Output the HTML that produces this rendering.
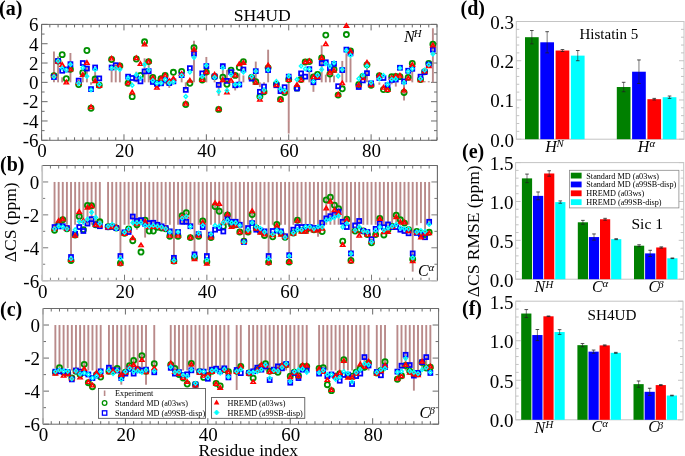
<!DOCTYPE html><html><head><meta charset="utf-8"><style>html,body{margin:0;padding:0;background:#fff;width:685px;height:456px;overflow:hidden}svg{display:block;font-family:"Liberation Serif",serif;will-change:transform}</style></head><body><svg width="685" height="456" viewBox="0 0 685 456">
<rect width="685" height="456" fill="#fff"/>
<line x1="41.60" y1="140.30" x2="41.60" y2="134.30" stroke="#6a6a6a" stroke-width="1"/>
<line x1="41.60" y1="24.40" x2="41.60" y2="30.40" stroke="#6a6a6a" stroke-width="1"/>
<line x1="49.84" y1="140.30" x2="49.84" y2="137.30" stroke="#6a6a6a" stroke-width="1"/>
<line x1="49.84" y1="24.40" x2="49.84" y2="27.40" stroke="#6a6a6a" stroke-width="1"/>
<line x1="58.08" y1="140.30" x2="58.08" y2="137.30" stroke="#6a6a6a" stroke-width="1"/>
<line x1="58.08" y1="24.40" x2="58.08" y2="27.40" stroke="#6a6a6a" stroke-width="1"/>
<line x1="66.31" y1="140.30" x2="66.31" y2="137.30" stroke="#6a6a6a" stroke-width="1"/>
<line x1="66.31" y1="24.40" x2="66.31" y2="27.40" stroke="#6a6a6a" stroke-width="1"/>
<line x1="74.55" y1="140.30" x2="74.55" y2="137.30" stroke="#6a6a6a" stroke-width="1"/>
<line x1="74.55" y1="24.40" x2="74.55" y2="27.40" stroke="#6a6a6a" stroke-width="1"/>
<line x1="82.79" y1="140.30" x2="82.79" y2="137.30" stroke="#6a6a6a" stroke-width="1"/>
<line x1="82.79" y1="24.40" x2="82.79" y2="27.40" stroke="#6a6a6a" stroke-width="1"/>
<line x1="91.02" y1="140.30" x2="91.02" y2="137.30" stroke="#6a6a6a" stroke-width="1"/>
<line x1="91.02" y1="24.40" x2="91.02" y2="27.40" stroke="#6a6a6a" stroke-width="1"/>
<line x1="99.26" y1="140.30" x2="99.26" y2="137.30" stroke="#6a6a6a" stroke-width="1"/>
<line x1="99.26" y1="24.40" x2="99.26" y2="27.40" stroke="#6a6a6a" stroke-width="1"/>
<line x1="107.50" y1="140.30" x2="107.50" y2="137.30" stroke="#6a6a6a" stroke-width="1"/>
<line x1="107.50" y1="24.40" x2="107.50" y2="27.40" stroke="#6a6a6a" stroke-width="1"/>
<line x1="115.74" y1="140.30" x2="115.74" y2="137.30" stroke="#6a6a6a" stroke-width="1"/>
<line x1="115.74" y1="24.40" x2="115.74" y2="27.40" stroke="#6a6a6a" stroke-width="1"/>
<line x1="123.97" y1="140.30" x2="123.97" y2="134.30" stroke="#6a6a6a" stroke-width="1"/>
<line x1="123.97" y1="24.40" x2="123.97" y2="30.40" stroke="#6a6a6a" stroke-width="1"/>
<line x1="132.21" y1="140.30" x2="132.21" y2="137.30" stroke="#6a6a6a" stroke-width="1"/>
<line x1="132.21" y1="24.40" x2="132.21" y2="27.40" stroke="#6a6a6a" stroke-width="1"/>
<line x1="140.45" y1="140.30" x2="140.45" y2="137.30" stroke="#6a6a6a" stroke-width="1"/>
<line x1="140.45" y1="24.40" x2="140.45" y2="27.40" stroke="#6a6a6a" stroke-width="1"/>
<line x1="148.69" y1="140.30" x2="148.69" y2="137.30" stroke="#6a6a6a" stroke-width="1"/>
<line x1="148.69" y1="24.40" x2="148.69" y2="27.40" stroke="#6a6a6a" stroke-width="1"/>
<line x1="156.92" y1="140.30" x2="156.92" y2="137.30" stroke="#6a6a6a" stroke-width="1"/>
<line x1="156.92" y1="24.40" x2="156.92" y2="27.40" stroke="#6a6a6a" stroke-width="1"/>
<line x1="165.16" y1="140.30" x2="165.16" y2="137.30" stroke="#6a6a6a" stroke-width="1"/>
<line x1="165.16" y1="24.40" x2="165.16" y2="27.40" stroke="#6a6a6a" stroke-width="1"/>
<line x1="173.40" y1="140.30" x2="173.40" y2="137.30" stroke="#6a6a6a" stroke-width="1"/>
<line x1="173.40" y1="24.40" x2="173.40" y2="27.40" stroke="#6a6a6a" stroke-width="1"/>
<line x1="181.64" y1="140.30" x2="181.64" y2="137.30" stroke="#6a6a6a" stroke-width="1"/>
<line x1="181.64" y1="24.40" x2="181.64" y2="27.40" stroke="#6a6a6a" stroke-width="1"/>
<line x1="189.88" y1="140.30" x2="189.88" y2="137.30" stroke="#6a6a6a" stroke-width="1"/>
<line x1="189.88" y1="24.40" x2="189.88" y2="27.40" stroke="#6a6a6a" stroke-width="1"/>
<line x1="198.11" y1="140.30" x2="198.11" y2="137.30" stroke="#6a6a6a" stroke-width="1"/>
<line x1="198.11" y1="24.40" x2="198.11" y2="27.40" stroke="#6a6a6a" stroke-width="1"/>
<line x1="206.35" y1="140.30" x2="206.35" y2="134.30" stroke="#6a6a6a" stroke-width="1"/>
<line x1="206.35" y1="24.40" x2="206.35" y2="30.40" stroke="#6a6a6a" stroke-width="1"/>
<line x1="214.59" y1="140.30" x2="214.59" y2="137.30" stroke="#6a6a6a" stroke-width="1"/>
<line x1="214.59" y1="24.40" x2="214.59" y2="27.40" stroke="#6a6a6a" stroke-width="1"/>
<line x1="222.82" y1="140.30" x2="222.82" y2="137.30" stroke="#6a6a6a" stroke-width="1"/>
<line x1="222.82" y1="24.40" x2="222.82" y2="27.40" stroke="#6a6a6a" stroke-width="1"/>
<line x1="231.06" y1="140.30" x2="231.06" y2="137.30" stroke="#6a6a6a" stroke-width="1"/>
<line x1="231.06" y1="24.40" x2="231.06" y2="27.40" stroke="#6a6a6a" stroke-width="1"/>
<line x1="239.30" y1="140.30" x2="239.30" y2="137.30" stroke="#6a6a6a" stroke-width="1"/>
<line x1="239.30" y1="24.40" x2="239.30" y2="27.40" stroke="#6a6a6a" stroke-width="1"/>
<line x1="247.54" y1="140.30" x2="247.54" y2="137.30" stroke="#6a6a6a" stroke-width="1"/>
<line x1="247.54" y1="24.40" x2="247.54" y2="27.40" stroke="#6a6a6a" stroke-width="1"/>
<line x1="255.77" y1="140.30" x2="255.77" y2="137.30" stroke="#6a6a6a" stroke-width="1"/>
<line x1="255.77" y1="24.40" x2="255.77" y2="27.40" stroke="#6a6a6a" stroke-width="1"/>
<line x1="264.01" y1="140.30" x2="264.01" y2="137.30" stroke="#6a6a6a" stroke-width="1"/>
<line x1="264.01" y1="24.40" x2="264.01" y2="27.40" stroke="#6a6a6a" stroke-width="1"/>
<line x1="272.25" y1="140.30" x2="272.25" y2="137.30" stroke="#6a6a6a" stroke-width="1"/>
<line x1="272.25" y1="24.40" x2="272.25" y2="27.40" stroke="#6a6a6a" stroke-width="1"/>
<line x1="280.49" y1="140.30" x2="280.49" y2="137.30" stroke="#6a6a6a" stroke-width="1"/>
<line x1="280.49" y1="24.40" x2="280.49" y2="27.40" stroke="#6a6a6a" stroke-width="1"/>
<line x1="288.73" y1="140.30" x2="288.73" y2="134.30" stroke="#6a6a6a" stroke-width="1"/>
<line x1="288.73" y1="24.40" x2="288.73" y2="30.40" stroke="#6a6a6a" stroke-width="1"/>
<line x1="296.96" y1="140.30" x2="296.96" y2="137.30" stroke="#6a6a6a" stroke-width="1"/>
<line x1="296.96" y1="24.40" x2="296.96" y2="27.40" stroke="#6a6a6a" stroke-width="1"/>
<line x1="305.20" y1="140.30" x2="305.20" y2="137.30" stroke="#6a6a6a" stroke-width="1"/>
<line x1="305.20" y1="24.40" x2="305.20" y2="27.40" stroke="#6a6a6a" stroke-width="1"/>
<line x1="313.44" y1="140.30" x2="313.44" y2="137.30" stroke="#6a6a6a" stroke-width="1"/>
<line x1="313.44" y1="24.40" x2="313.44" y2="27.40" stroke="#6a6a6a" stroke-width="1"/>
<line x1="321.68" y1="140.30" x2="321.68" y2="137.30" stroke="#6a6a6a" stroke-width="1"/>
<line x1="321.68" y1="24.40" x2="321.68" y2="27.40" stroke="#6a6a6a" stroke-width="1"/>
<line x1="329.91" y1="140.30" x2="329.91" y2="137.30" stroke="#6a6a6a" stroke-width="1"/>
<line x1="329.91" y1="24.40" x2="329.91" y2="27.40" stroke="#6a6a6a" stroke-width="1"/>
<line x1="338.15" y1="140.30" x2="338.15" y2="137.30" stroke="#6a6a6a" stroke-width="1"/>
<line x1="338.15" y1="24.40" x2="338.15" y2="27.40" stroke="#6a6a6a" stroke-width="1"/>
<line x1="346.39" y1="140.30" x2="346.39" y2="137.30" stroke="#6a6a6a" stroke-width="1"/>
<line x1="346.39" y1="24.40" x2="346.39" y2="27.40" stroke="#6a6a6a" stroke-width="1"/>
<line x1="354.62" y1="140.30" x2="354.62" y2="137.30" stroke="#6a6a6a" stroke-width="1"/>
<line x1="354.62" y1="24.40" x2="354.62" y2="27.40" stroke="#6a6a6a" stroke-width="1"/>
<line x1="362.86" y1="140.30" x2="362.86" y2="137.30" stroke="#6a6a6a" stroke-width="1"/>
<line x1="362.86" y1="24.40" x2="362.86" y2="27.40" stroke="#6a6a6a" stroke-width="1"/>
<line x1="371.10" y1="140.30" x2="371.10" y2="134.30" stroke="#6a6a6a" stroke-width="1"/>
<line x1="371.10" y1="24.40" x2="371.10" y2="30.40" stroke="#6a6a6a" stroke-width="1"/>
<line x1="379.34" y1="140.30" x2="379.34" y2="137.30" stroke="#6a6a6a" stroke-width="1"/>
<line x1="379.34" y1="24.40" x2="379.34" y2="27.40" stroke="#6a6a6a" stroke-width="1"/>
<line x1="387.57" y1="140.30" x2="387.57" y2="137.30" stroke="#6a6a6a" stroke-width="1"/>
<line x1="387.57" y1="24.40" x2="387.57" y2="27.40" stroke="#6a6a6a" stroke-width="1"/>
<line x1="395.81" y1="140.30" x2="395.81" y2="137.30" stroke="#6a6a6a" stroke-width="1"/>
<line x1="395.81" y1="24.40" x2="395.81" y2="27.40" stroke="#6a6a6a" stroke-width="1"/>
<line x1="404.05" y1="140.30" x2="404.05" y2="137.30" stroke="#6a6a6a" stroke-width="1"/>
<line x1="404.05" y1="24.40" x2="404.05" y2="27.40" stroke="#6a6a6a" stroke-width="1"/>
<line x1="412.29" y1="140.30" x2="412.29" y2="137.30" stroke="#6a6a6a" stroke-width="1"/>
<line x1="412.29" y1="24.40" x2="412.29" y2="27.40" stroke="#6a6a6a" stroke-width="1"/>
<line x1="420.52" y1="140.30" x2="420.52" y2="137.30" stroke="#6a6a6a" stroke-width="1"/>
<line x1="420.52" y1="24.40" x2="420.52" y2="27.40" stroke="#6a6a6a" stroke-width="1"/>
<line x1="428.76" y1="140.30" x2="428.76" y2="137.30" stroke="#6a6a6a" stroke-width="1"/>
<line x1="428.76" y1="24.40" x2="428.76" y2="27.40" stroke="#6a6a6a" stroke-width="1"/>
<line x1="437.00" y1="140.30" x2="437.00" y2="137.30" stroke="#6a6a6a" stroke-width="1"/>
<line x1="437.00" y1="24.40" x2="437.00" y2="27.40" stroke="#6a6a6a" stroke-width="1"/>
<line x1="41.60" y1="140.30" x2="47.60" y2="140.30" stroke="#6a6a6a" stroke-width="1"/>
<line x1="437.00" y1="140.30" x2="431.00" y2="140.30" stroke="#6a6a6a" stroke-width="1"/>
<line x1="41.60" y1="130.64" x2="44.60" y2="130.64" stroke="#6a6a6a" stroke-width="1"/>
<line x1="437.00" y1="130.64" x2="434.00" y2="130.64" stroke="#6a6a6a" stroke-width="1"/>
<line x1="41.60" y1="120.98" x2="47.60" y2="120.98" stroke="#6a6a6a" stroke-width="1"/>
<line x1="437.00" y1="120.98" x2="431.00" y2="120.98" stroke="#6a6a6a" stroke-width="1"/>
<line x1="41.60" y1="111.33" x2="44.60" y2="111.33" stroke="#6a6a6a" stroke-width="1"/>
<line x1="437.00" y1="111.33" x2="434.00" y2="111.33" stroke="#6a6a6a" stroke-width="1"/>
<line x1="41.60" y1="101.67" x2="47.60" y2="101.67" stroke="#6a6a6a" stroke-width="1"/>
<line x1="437.00" y1="101.67" x2="431.00" y2="101.67" stroke="#6a6a6a" stroke-width="1"/>
<line x1="41.60" y1="92.01" x2="44.60" y2="92.01" stroke="#6a6a6a" stroke-width="1"/>
<line x1="437.00" y1="92.01" x2="434.00" y2="92.01" stroke="#6a6a6a" stroke-width="1"/>
<line x1="41.60" y1="82.35" x2="47.60" y2="82.35" stroke="#6a6a6a" stroke-width="1"/>
<line x1="437.00" y1="82.35" x2="431.00" y2="82.35" stroke="#6a6a6a" stroke-width="1"/>
<line x1="41.60" y1="72.69" x2="44.60" y2="72.69" stroke="#6a6a6a" stroke-width="1"/>
<line x1="437.00" y1="72.69" x2="434.00" y2="72.69" stroke="#6a6a6a" stroke-width="1"/>
<line x1="41.60" y1="63.03" x2="47.60" y2="63.03" stroke="#6a6a6a" stroke-width="1"/>
<line x1="437.00" y1="63.03" x2="431.00" y2="63.03" stroke="#6a6a6a" stroke-width="1"/>
<line x1="41.60" y1="53.38" x2="44.60" y2="53.38" stroke="#6a6a6a" stroke-width="1"/>
<line x1="437.00" y1="53.38" x2="434.00" y2="53.38" stroke="#6a6a6a" stroke-width="1"/>
<line x1="41.60" y1="43.72" x2="47.60" y2="43.72" stroke="#6a6a6a" stroke-width="1"/>
<line x1="437.00" y1="43.72" x2="431.00" y2="43.72" stroke="#6a6a6a" stroke-width="1"/>
<line x1="41.60" y1="34.06" x2="44.60" y2="34.06" stroke="#6a6a6a" stroke-width="1"/>
<line x1="437.00" y1="34.06" x2="434.00" y2="34.06" stroke="#6a6a6a" stroke-width="1"/>
<line x1="41.60" y1="24.40" x2="47.60" y2="24.40" stroke="#6a6a6a" stroke-width="1"/>
<line x1="437.00" y1="24.40" x2="431.00" y2="24.40" stroke="#6a6a6a" stroke-width="1"/>
<line x1="41.60" y1="24.40" x2="437.00" y2="24.40" stroke="#6a6a6a" stroke-width="1"/>
<line x1="437.00" y1="24.40" x2="437.00" y2="140.30" stroke="#6a6a6a" stroke-width="1"/>
<line x1="41.60" y1="140.30" x2="437.00" y2="140.30" stroke="#6a6a6a" stroke-width="1"/>
<line x1="41.60" y1="24.40" x2="41.60" y2="140.30" stroke="#6a6a6a" stroke-width="1"/>
<text x="38.60" y="31.20" font-size="19" text-anchor="end" font-weight="normal" font-style="normal" >6</text>
<text x="38.60" y="50.52" font-size="19" text-anchor="end" font-weight="normal" font-style="normal" >4</text>
<text x="38.60" y="69.83" font-size="19" text-anchor="end" font-weight="normal" font-style="normal" >2</text>
<text x="38.60" y="89.15" font-size="19" text-anchor="end" font-weight="normal" font-style="normal" >0</text>
<text x="38.60" y="108.47" font-size="19" text-anchor="end" font-weight="normal" font-style="normal" >-2</text>
<text x="38.60" y="127.78" font-size="19" text-anchor="end" font-weight="normal" font-style="normal" >-4</text>
<text x="38.60" y="147.10" font-size="19" text-anchor="end" font-weight="normal" font-style="normal" >-6</text>
<text x="42.10" y="157.10" font-size="19" text-anchor="middle" font-weight="normal" font-style="normal" >0</text>
<text x="124.47" y="157.10" font-size="19" text-anchor="middle" font-weight="normal" font-style="normal" >20</text>
<text x="206.85" y="157.10" font-size="19" text-anchor="middle" font-weight="normal" font-style="normal" >40</text>
<text x="289.23" y="157.10" font-size="19" text-anchor="middle" font-weight="normal" font-style="normal" >60</text>
<text x="371.60" y="157.10" font-size="19" text-anchor="middle" font-weight="normal" font-style="normal" >80</text>
<line x1="42.20" y1="280.70" x2="42.20" y2="274.70" stroke="#7a7a7a" stroke-width="1"/>
<line x1="42.20" y1="165.50" x2="42.20" y2="171.50" stroke="#7a7a7a" stroke-width="1"/>
<line x1="50.43" y1="280.70" x2="50.43" y2="277.70" stroke="#7a7a7a" stroke-width="1"/>
<line x1="50.43" y1="165.50" x2="50.43" y2="168.50" stroke="#7a7a7a" stroke-width="1"/>
<line x1="58.67" y1="280.70" x2="58.67" y2="277.70" stroke="#7a7a7a" stroke-width="1"/>
<line x1="58.67" y1="165.50" x2="58.67" y2="168.50" stroke="#7a7a7a" stroke-width="1"/>
<line x1="66.90" y1="280.70" x2="66.90" y2="277.70" stroke="#7a7a7a" stroke-width="1"/>
<line x1="66.90" y1="165.50" x2="66.90" y2="168.50" stroke="#7a7a7a" stroke-width="1"/>
<line x1="75.13" y1="280.70" x2="75.13" y2="277.70" stroke="#7a7a7a" stroke-width="1"/>
<line x1="75.13" y1="165.50" x2="75.13" y2="168.50" stroke="#7a7a7a" stroke-width="1"/>
<line x1="83.37" y1="280.70" x2="83.37" y2="277.70" stroke="#7a7a7a" stroke-width="1"/>
<line x1="83.37" y1="165.50" x2="83.37" y2="168.50" stroke="#7a7a7a" stroke-width="1"/>
<line x1="91.60" y1="280.70" x2="91.60" y2="277.70" stroke="#7a7a7a" stroke-width="1"/>
<line x1="91.60" y1="165.50" x2="91.60" y2="168.50" stroke="#7a7a7a" stroke-width="1"/>
<line x1="99.83" y1="280.70" x2="99.83" y2="277.70" stroke="#7a7a7a" stroke-width="1"/>
<line x1="99.83" y1="165.50" x2="99.83" y2="168.50" stroke="#7a7a7a" stroke-width="1"/>
<line x1="108.07" y1="280.70" x2="108.07" y2="277.70" stroke="#7a7a7a" stroke-width="1"/>
<line x1="108.07" y1="165.50" x2="108.07" y2="168.50" stroke="#7a7a7a" stroke-width="1"/>
<line x1="116.30" y1="280.70" x2="116.30" y2="277.70" stroke="#7a7a7a" stroke-width="1"/>
<line x1="116.30" y1="165.50" x2="116.30" y2="168.50" stroke="#7a7a7a" stroke-width="1"/>
<line x1="124.53" y1="280.70" x2="124.53" y2="274.70" stroke="#7a7a7a" stroke-width="1"/>
<line x1="124.53" y1="165.50" x2="124.53" y2="171.50" stroke="#7a7a7a" stroke-width="1"/>
<line x1="132.77" y1="280.70" x2="132.77" y2="277.70" stroke="#7a7a7a" stroke-width="1"/>
<line x1="132.77" y1="165.50" x2="132.77" y2="168.50" stroke="#7a7a7a" stroke-width="1"/>
<line x1="141.00" y1="280.70" x2="141.00" y2="277.70" stroke="#7a7a7a" stroke-width="1"/>
<line x1="141.00" y1="165.50" x2="141.00" y2="168.50" stroke="#7a7a7a" stroke-width="1"/>
<line x1="149.23" y1="280.70" x2="149.23" y2="277.70" stroke="#7a7a7a" stroke-width="1"/>
<line x1="149.23" y1="165.50" x2="149.23" y2="168.50" stroke="#7a7a7a" stroke-width="1"/>
<line x1="157.47" y1="280.70" x2="157.47" y2="277.70" stroke="#7a7a7a" stroke-width="1"/>
<line x1="157.47" y1="165.50" x2="157.47" y2="168.50" stroke="#7a7a7a" stroke-width="1"/>
<line x1="165.70" y1="280.70" x2="165.70" y2="277.70" stroke="#7a7a7a" stroke-width="1"/>
<line x1="165.70" y1="165.50" x2="165.70" y2="168.50" stroke="#7a7a7a" stroke-width="1"/>
<line x1="173.93" y1="280.70" x2="173.93" y2="277.70" stroke="#7a7a7a" stroke-width="1"/>
<line x1="173.93" y1="165.50" x2="173.93" y2="168.50" stroke="#7a7a7a" stroke-width="1"/>
<line x1="182.17" y1="280.70" x2="182.17" y2="277.70" stroke="#7a7a7a" stroke-width="1"/>
<line x1="182.17" y1="165.50" x2="182.17" y2="168.50" stroke="#7a7a7a" stroke-width="1"/>
<line x1="190.40" y1="280.70" x2="190.40" y2="277.70" stroke="#7a7a7a" stroke-width="1"/>
<line x1="190.40" y1="165.50" x2="190.40" y2="168.50" stroke="#7a7a7a" stroke-width="1"/>
<line x1="198.63" y1="280.70" x2="198.63" y2="277.70" stroke="#7a7a7a" stroke-width="1"/>
<line x1="198.63" y1="165.50" x2="198.63" y2="168.50" stroke="#7a7a7a" stroke-width="1"/>
<line x1="206.87" y1="280.70" x2="206.87" y2="274.70" stroke="#7a7a7a" stroke-width="1"/>
<line x1="206.87" y1="165.50" x2="206.87" y2="171.50" stroke="#7a7a7a" stroke-width="1"/>
<line x1="215.10" y1="280.70" x2="215.10" y2="277.70" stroke="#7a7a7a" stroke-width="1"/>
<line x1="215.10" y1="165.50" x2="215.10" y2="168.50" stroke="#7a7a7a" stroke-width="1"/>
<line x1="223.33" y1="280.70" x2="223.33" y2="277.70" stroke="#7a7a7a" stroke-width="1"/>
<line x1="223.33" y1="165.50" x2="223.33" y2="168.50" stroke="#7a7a7a" stroke-width="1"/>
<line x1="231.57" y1="280.70" x2="231.57" y2="277.70" stroke="#7a7a7a" stroke-width="1"/>
<line x1="231.57" y1="165.50" x2="231.57" y2="168.50" stroke="#7a7a7a" stroke-width="1"/>
<line x1="239.80" y1="280.70" x2="239.80" y2="277.70" stroke="#7a7a7a" stroke-width="1"/>
<line x1="239.80" y1="165.50" x2="239.80" y2="168.50" stroke="#7a7a7a" stroke-width="1"/>
<line x1="248.03" y1="280.70" x2="248.03" y2="277.70" stroke="#7a7a7a" stroke-width="1"/>
<line x1="248.03" y1="165.50" x2="248.03" y2="168.50" stroke="#7a7a7a" stroke-width="1"/>
<line x1="256.27" y1="280.70" x2="256.27" y2="277.70" stroke="#7a7a7a" stroke-width="1"/>
<line x1="256.27" y1="165.50" x2="256.27" y2="168.50" stroke="#7a7a7a" stroke-width="1"/>
<line x1="264.50" y1="280.70" x2="264.50" y2="277.70" stroke="#7a7a7a" stroke-width="1"/>
<line x1="264.50" y1="165.50" x2="264.50" y2="168.50" stroke="#7a7a7a" stroke-width="1"/>
<line x1="272.73" y1="280.70" x2="272.73" y2="277.70" stroke="#7a7a7a" stroke-width="1"/>
<line x1="272.73" y1="165.50" x2="272.73" y2="168.50" stroke="#7a7a7a" stroke-width="1"/>
<line x1="280.97" y1="280.70" x2="280.97" y2="277.70" stroke="#7a7a7a" stroke-width="1"/>
<line x1="280.97" y1="165.50" x2="280.97" y2="168.50" stroke="#7a7a7a" stroke-width="1"/>
<line x1="289.20" y1="280.70" x2="289.20" y2="274.70" stroke="#7a7a7a" stroke-width="1"/>
<line x1="289.20" y1="165.50" x2="289.20" y2="171.50" stroke="#7a7a7a" stroke-width="1"/>
<line x1="297.43" y1="280.70" x2="297.43" y2="277.70" stroke="#7a7a7a" stroke-width="1"/>
<line x1="297.43" y1="165.50" x2="297.43" y2="168.50" stroke="#7a7a7a" stroke-width="1"/>
<line x1="305.67" y1="280.70" x2="305.67" y2="277.70" stroke="#7a7a7a" stroke-width="1"/>
<line x1="305.67" y1="165.50" x2="305.67" y2="168.50" stroke="#7a7a7a" stroke-width="1"/>
<line x1="313.90" y1="280.70" x2="313.90" y2="277.70" stroke="#7a7a7a" stroke-width="1"/>
<line x1="313.90" y1="165.50" x2="313.90" y2="168.50" stroke="#7a7a7a" stroke-width="1"/>
<line x1="322.13" y1="280.70" x2="322.13" y2="277.70" stroke="#7a7a7a" stroke-width="1"/>
<line x1="322.13" y1="165.50" x2="322.13" y2="168.50" stroke="#7a7a7a" stroke-width="1"/>
<line x1="330.37" y1="280.70" x2="330.37" y2="277.70" stroke="#7a7a7a" stroke-width="1"/>
<line x1="330.37" y1="165.50" x2="330.37" y2="168.50" stroke="#7a7a7a" stroke-width="1"/>
<line x1="338.60" y1="280.70" x2="338.60" y2="277.70" stroke="#7a7a7a" stroke-width="1"/>
<line x1="338.60" y1="165.50" x2="338.60" y2="168.50" stroke="#7a7a7a" stroke-width="1"/>
<line x1="346.83" y1="280.70" x2="346.83" y2="277.70" stroke="#7a7a7a" stroke-width="1"/>
<line x1="346.83" y1="165.50" x2="346.83" y2="168.50" stroke="#7a7a7a" stroke-width="1"/>
<line x1="355.07" y1="280.70" x2="355.07" y2="277.70" stroke="#7a7a7a" stroke-width="1"/>
<line x1="355.07" y1="165.50" x2="355.07" y2="168.50" stroke="#7a7a7a" stroke-width="1"/>
<line x1="363.30" y1="280.70" x2="363.30" y2="277.70" stroke="#7a7a7a" stroke-width="1"/>
<line x1="363.30" y1="165.50" x2="363.30" y2="168.50" stroke="#7a7a7a" stroke-width="1"/>
<line x1="371.53" y1="280.70" x2="371.53" y2="274.70" stroke="#7a7a7a" stroke-width="1"/>
<line x1="371.53" y1="165.50" x2="371.53" y2="171.50" stroke="#7a7a7a" stroke-width="1"/>
<line x1="379.77" y1="280.70" x2="379.77" y2="277.70" stroke="#7a7a7a" stroke-width="1"/>
<line x1="379.77" y1="165.50" x2="379.77" y2="168.50" stroke="#7a7a7a" stroke-width="1"/>
<line x1="388.00" y1="280.70" x2="388.00" y2="277.70" stroke="#7a7a7a" stroke-width="1"/>
<line x1="388.00" y1="165.50" x2="388.00" y2="168.50" stroke="#7a7a7a" stroke-width="1"/>
<line x1="396.23" y1="280.70" x2="396.23" y2="277.70" stroke="#7a7a7a" stroke-width="1"/>
<line x1="396.23" y1="165.50" x2="396.23" y2="168.50" stroke="#7a7a7a" stroke-width="1"/>
<line x1="404.47" y1="280.70" x2="404.47" y2="277.70" stroke="#7a7a7a" stroke-width="1"/>
<line x1="404.47" y1="165.50" x2="404.47" y2="168.50" stroke="#7a7a7a" stroke-width="1"/>
<line x1="412.70" y1="280.70" x2="412.70" y2="277.70" stroke="#7a7a7a" stroke-width="1"/>
<line x1="412.70" y1="165.50" x2="412.70" y2="168.50" stroke="#7a7a7a" stroke-width="1"/>
<line x1="420.93" y1="280.70" x2="420.93" y2="277.70" stroke="#7a7a7a" stroke-width="1"/>
<line x1="420.93" y1="165.50" x2="420.93" y2="168.50" stroke="#7a7a7a" stroke-width="1"/>
<line x1="429.17" y1="280.70" x2="429.17" y2="277.70" stroke="#7a7a7a" stroke-width="1"/>
<line x1="429.17" y1="165.50" x2="429.17" y2="168.50" stroke="#7a7a7a" stroke-width="1"/>
<line x1="437.40" y1="280.70" x2="437.40" y2="277.70" stroke="#7a7a7a" stroke-width="1"/>
<line x1="437.40" y1="165.50" x2="437.40" y2="168.50" stroke="#7a7a7a" stroke-width="1"/>
<line x1="42.20" y1="280.70" x2="48.20" y2="280.70" stroke="#7a7a7a" stroke-width="1"/>
<line x1="437.40" y1="280.70" x2="431.40" y2="280.70" stroke="#7a7a7a" stroke-width="1"/>
<line x1="42.20" y1="264.24" x2="45.20" y2="264.24" stroke="#7a7a7a" stroke-width="1"/>
<line x1="437.40" y1="264.24" x2="434.40" y2="264.24" stroke="#7a7a7a" stroke-width="1"/>
<line x1="42.20" y1="247.79" x2="48.20" y2="247.79" stroke="#7a7a7a" stroke-width="1"/>
<line x1="437.40" y1="247.79" x2="431.40" y2="247.79" stroke="#7a7a7a" stroke-width="1"/>
<line x1="42.20" y1="231.33" x2="45.20" y2="231.33" stroke="#7a7a7a" stroke-width="1"/>
<line x1="437.40" y1="231.33" x2="434.40" y2="231.33" stroke="#7a7a7a" stroke-width="1"/>
<line x1="42.20" y1="214.87" x2="48.20" y2="214.87" stroke="#7a7a7a" stroke-width="1"/>
<line x1="437.40" y1="214.87" x2="431.40" y2="214.87" stroke="#7a7a7a" stroke-width="1"/>
<line x1="42.20" y1="198.41" x2="45.20" y2="198.41" stroke="#7a7a7a" stroke-width="1"/>
<line x1="437.40" y1="198.41" x2="434.40" y2="198.41" stroke="#7a7a7a" stroke-width="1"/>
<line x1="42.20" y1="181.96" x2="48.20" y2="181.96" stroke="#7a7a7a" stroke-width="1"/>
<line x1="437.40" y1="181.96" x2="431.40" y2="181.96" stroke="#7a7a7a" stroke-width="1"/>
<line x1="42.20" y1="165.50" x2="45.20" y2="165.50" stroke="#7a7a7a" stroke-width="1"/>
<line x1="437.40" y1="165.50" x2="434.40" y2="165.50" stroke="#7a7a7a" stroke-width="1"/>
<line x1="42.20" y1="165.50" x2="437.40" y2="165.50" stroke="#686868" stroke-width="1.1"/>
<line x1="437.40" y1="165.50" x2="437.40" y2="280.70" stroke="#686868" stroke-width="1.1"/>
<line x1="42.20" y1="280.70" x2="437.40" y2="280.70" stroke="#c0c0c0" stroke-width="1.5"/>
<line x1="42.20" y1="165.50" x2="42.20" y2="280.70" stroke="#c4c4c4" stroke-width="1.7"/>
<text x="39.20" y="188.76" font-size="19" text-anchor="end" font-weight="normal" font-style="normal" >0</text>
<text x="39.20" y="221.67" font-size="19" text-anchor="end" font-weight="normal" font-style="normal" >-2</text>
<text x="39.20" y="254.59" font-size="19" text-anchor="end" font-weight="normal" font-style="normal" >-4</text>
<text x="39.20" y="287.50" font-size="19" text-anchor="end" font-weight="normal" font-style="normal" >-6</text>
<text x="42.70" y="297.50" font-size="19" text-anchor="middle" font-weight="normal" font-style="normal" >0</text>
<text x="125.03" y="297.50" font-size="19" text-anchor="middle" font-weight="normal" font-style="normal" >20</text>
<text x="207.37" y="297.50" font-size="19" text-anchor="middle" font-weight="normal" font-style="normal" >40</text>
<text x="289.70" y="297.50" font-size="19" text-anchor="middle" font-weight="normal" font-style="normal" >60</text>
<text x="372.03" y="297.50" font-size="19" text-anchor="middle" font-weight="normal" font-style="normal" >80</text>
<line x1="43.00" y1="424.20" x2="43.00" y2="418.20" stroke="#6a6a6a" stroke-width="1"/>
<line x1="43.00" y1="308.50" x2="43.00" y2="314.50" stroke="#6a6a6a" stroke-width="1"/>
<line x1="51.24" y1="424.20" x2="51.24" y2="421.20" stroke="#6a6a6a" stroke-width="1"/>
<line x1="51.24" y1="308.50" x2="51.24" y2="311.50" stroke="#6a6a6a" stroke-width="1"/>
<line x1="59.48" y1="424.20" x2="59.48" y2="421.20" stroke="#6a6a6a" stroke-width="1"/>
<line x1="59.48" y1="308.50" x2="59.48" y2="311.50" stroke="#6a6a6a" stroke-width="1"/>
<line x1="67.73" y1="424.20" x2="67.73" y2="421.20" stroke="#6a6a6a" stroke-width="1"/>
<line x1="67.73" y1="308.50" x2="67.73" y2="311.50" stroke="#6a6a6a" stroke-width="1"/>
<line x1="75.97" y1="424.20" x2="75.97" y2="421.20" stroke="#6a6a6a" stroke-width="1"/>
<line x1="75.97" y1="308.50" x2="75.97" y2="311.50" stroke="#6a6a6a" stroke-width="1"/>
<line x1="84.21" y1="424.20" x2="84.21" y2="421.20" stroke="#6a6a6a" stroke-width="1"/>
<line x1="84.21" y1="308.50" x2="84.21" y2="311.50" stroke="#6a6a6a" stroke-width="1"/>
<line x1="92.45" y1="424.20" x2="92.45" y2="421.20" stroke="#6a6a6a" stroke-width="1"/>
<line x1="92.45" y1="308.50" x2="92.45" y2="311.50" stroke="#6a6a6a" stroke-width="1"/>
<line x1="100.69" y1="424.20" x2="100.69" y2="421.20" stroke="#6a6a6a" stroke-width="1"/>
<line x1="100.69" y1="308.50" x2="100.69" y2="311.50" stroke="#6a6a6a" stroke-width="1"/>
<line x1="108.93" y1="424.20" x2="108.93" y2="421.20" stroke="#6a6a6a" stroke-width="1"/>
<line x1="108.93" y1="308.50" x2="108.93" y2="311.50" stroke="#6a6a6a" stroke-width="1"/>
<line x1="117.17" y1="424.20" x2="117.17" y2="421.20" stroke="#6a6a6a" stroke-width="1"/>
<line x1="117.17" y1="308.50" x2="117.17" y2="311.50" stroke="#6a6a6a" stroke-width="1"/>
<line x1="125.42" y1="424.20" x2="125.42" y2="418.20" stroke="#6a6a6a" stroke-width="1"/>
<line x1="125.42" y1="308.50" x2="125.42" y2="314.50" stroke="#6a6a6a" stroke-width="1"/>
<line x1="133.66" y1="424.20" x2="133.66" y2="421.20" stroke="#6a6a6a" stroke-width="1"/>
<line x1="133.66" y1="308.50" x2="133.66" y2="311.50" stroke="#6a6a6a" stroke-width="1"/>
<line x1="141.90" y1="424.20" x2="141.90" y2="421.20" stroke="#6a6a6a" stroke-width="1"/>
<line x1="141.90" y1="308.50" x2="141.90" y2="311.50" stroke="#6a6a6a" stroke-width="1"/>
<line x1="150.14" y1="424.20" x2="150.14" y2="421.20" stroke="#6a6a6a" stroke-width="1"/>
<line x1="150.14" y1="308.50" x2="150.14" y2="311.50" stroke="#6a6a6a" stroke-width="1"/>
<line x1="158.38" y1="424.20" x2="158.38" y2="421.20" stroke="#6a6a6a" stroke-width="1"/>
<line x1="158.38" y1="308.50" x2="158.38" y2="311.50" stroke="#6a6a6a" stroke-width="1"/>
<line x1="166.62" y1="424.20" x2="166.62" y2="421.20" stroke="#6a6a6a" stroke-width="1"/>
<line x1="166.62" y1="308.50" x2="166.62" y2="311.50" stroke="#6a6a6a" stroke-width="1"/>
<line x1="174.87" y1="424.20" x2="174.87" y2="421.20" stroke="#6a6a6a" stroke-width="1"/>
<line x1="174.87" y1="308.50" x2="174.87" y2="311.50" stroke="#6a6a6a" stroke-width="1"/>
<line x1="183.11" y1="424.20" x2="183.11" y2="421.20" stroke="#6a6a6a" stroke-width="1"/>
<line x1="183.11" y1="308.50" x2="183.11" y2="311.50" stroke="#6a6a6a" stroke-width="1"/>
<line x1="191.35" y1="424.20" x2="191.35" y2="421.20" stroke="#6a6a6a" stroke-width="1"/>
<line x1="191.35" y1="308.50" x2="191.35" y2="311.50" stroke="#6a6a6a" stroke-width="1"/>
<line x1="199.59" y1="424.20" x2="199.59" y2="421.20" stroke="#6a6a6a" stroke-width="1"/>
<line x1="199.59" y1="308.50" x2="199.59" y2="311.50" stroke="#6a6a6a" stroke-width="1"/>
<line x1="207.83" y1="424.20" x2="207.83" y2="418.20" stroke="#6a6a6a" stroke-width="1"/>
<line x1="207.83" y1="308.50" x2="207.83" y2="314.50" stroke="#6a6a6a" stroke-width="1"/>
<line x1="216.08" y1="424.20" x2="216.08" y2="421.20" stroke="#6a6a6a" stroke-width="1"/>
<line x1="216.08" y1="308.50" x2="216.08" y2="311.50" stroke="#6a6a6a" stroke-width="1"/>
<line x1="224.32" y1="424.20" x2="224.32" y2="421.20" stroke="#6a6a6a" stroke-width="1"/>
<line x1="224.32" y1="308.50" x2="224.32" y2="311.50" stroke="#6a6a6a" stroke-width="1"/>
<line x1="232.56" y1="424.20" x2="232.56" y2="421.20" stroke="#6a6a6a" stroke-width="1"/>
<line x1="232.56" y1="308.50" x2="232.56" y2="311.50" stroke="#6a6a6a" stroke-width="1"/>
<line x1="240.80" y1="424.20" x2="240.80" y2="421.20" stroke="#6a6a6a" stroke-width="1"/>
<line x1="240.80" y1="308.50" x2="240.80" y2="311.50" stroke="#6a6a6a" stroke-width="1"/>
<line x1="249.04" y1="424.20" x2="249.04" y2="421.20" stroke="#6a6a6a" stroke-width="1"/>
<line x1="249.04" y1="308.50" x2="249.04" y2="311.50" stroke="#6a6a6a" stroke-width="1"/>
<line x1="257.28" y1="424.20" x2="257.28" y2="421.20" stroke="#6a6a6a" stroke-width="1"/>
<line x1="257.28" y1="308.50" x2="257.28" y2="311.50" stroke="#6a6a6a" stroke-width="1"/>
<line x1="265.52" y1="424.20" x2="265.52" y2="421.20" stroke="#6a6a6a" stroke-width="1"/>
<line x1="265.52" y1="308.50" x2="265.52" y2="311.50" stroke="#6a6a6a" stroke-width="1"/>
<line x1="273.77" y1="424.20" x2="273.77" y2="421.20" stroke="#6a6a6a" stroke-width="1"/>
<line x1="273.77" y1="308.50" x2="273.77" y2="311.50" stroke="#6a6a6a" stroke-width="1"/>
<line x1="282.01" y1="424.20" x2="282.01" y2="421.20" stroke="#6a6a6a" stroke-width="1"/>
<line x1="282.01" y1="308.50" x2="282.01" y2="311.50" stroke="#6a6a6a" stroke-width="1"/>
<line x1="290.25" y1="424.20" x2="290.25" y2="418.20" stroke="#6a6a6a" stroke-width="1"/>
<line x1="290.25" y1="308.50" x2="290.25" y2="314.50" stroke="#6a6a6a" stroke-width="1"/>
<line x1="298.49" y1="424.20" x2="298.49" y2="421.20" stroke="#6a6a6a" stroke-width="1"/>
<line x1="298.49" y1="308.50" x2="298.49" y2="311.50" stroke="#6a6a6a" stroke-width="1"/>
<line x1="306.73" y1="424.20" x2="306.73" y2="421.20" stroke="#6a6a6a" stroke-width="1"/>
<line x1="306.73" y1="308.50" x2="306.73" y2="311.50" stroke="#6a6a6a" stroke-width="1"/>
<line x1="314.98" y1="424.20" x2="314.98" y2="421.20" stroke="#6a6a6a" stroke-width="1"/>
<line x1="314.98" y1="308.50" x2="314.98" y2="311.50" stroke="#6a6a6a" stroke-width="1"/>
<line x1="323.22" y1="424.20" x2="323.22" y2="421.20" stroke="#6a6a6a" stroke-width="1"/>
<line x1="323.22" y1="308.50" x2="323.22" y2="311.50" stroke="#6a6a6a" stroke-width="1"/>
<line x1="331.46" y1="424.20" x2="331.46" y2="421.20" stroke="#6a6a6a" stroke-width="1"/>
<line x1="331.46" y1="308.50" x2="331.46" y2="311.50" stroke="#6a6a6a" stroke-width="1"/>
<line x1="339.70" y1="424.20" x2="339.70" y2="421.20" stroke="#6a6a6a" stroke-width="1"/>
<line x1="339.70" y1="308.50" x2="339.70" y2="311.50" stroke="#6a6a6a" stroke-width="1"/>
<line x1="347.94" y1="424.20" x2="347.94" y2="421.20" stroke="#6a6a6a" stroke-width="1"/>
<line x1="347.94" y1="308.50" x2="347.94" y2="311.50" stroke="#6a6a6a" stroke-width="1"/>
<line x1="356.18" y1="424.20" x2="356.18" y2="421.20" stroke="#6a6a6a" stroke-width="1"/>
<line x1="356.18" y1="308.50" x2="356.18" y2="311.50" stroke="#6a6a6a" stroke-width="1"/>
<line x1="364.43" y1="424.20" x2="364.43" y2="421.20" stroke="#6a6a6a" stroke-width="1"/>
<line x1="364.43" y1="308.50" x2="364.43" y2="311.50" stroke="#6a6a6a" stroke-width="1"/>
<line x1="372.67" y1="424.20" x2="372.67" y2="418.20" stroke="#6a6a6a" stroke-width="1"/>
<line x1="372.67" y1="308.50" x2="372.67" y2="314.50" stroke="#6a6a6a" stroke-width="1"/>
<line x1="380.91" y1="424.20" x2="380.91" y2="421.20" stroke="#6a6a6a" stroke-width="1"/>
<line x1="380.91" y1="308.50" x2="380.91" y2="311.50" stroke="#6a6a6a" stroke-width="1"/>
<line x1="389.15" y1="424.20" x2="389.15" y2="421.20" stroke="#6a6a6a" stroke-width="1"/>
<line x1="389.15" y1="308.50" x2="389.15" y2="311.50" stroke="#6a6a6a" stroke-width="1"/>
<line x1="397.39" y1="424.20" x2="397.39" y2="421.20" stroke="#6a6a6a" stroke-width="1"/>
<line x1="397.39" y1="308.50" x2="397.39" y2="311.50" stroke="#6a6a6a" stroke-width="1"/>
<line x1="405.63" y1="424.20" x2="405.63" y2="421.20" stroke="#6a6a6a" stroke-width="1"/>
<line x1="405.63" y1="308.50" x2="405.63" y2="311.50" stroke="#6a6a6a" stroke-width="1"/>
<line x1="413.88" y1="424.20" x2="413.88" y2="421.20" stroke="#6a6a6a" stroke-width="1"/>
<line x1="413.88" y1="308.50" x2="413.88" y2="311.50" stroke="#6a6a6a" stroke-width="1"/>
<line x1="422.12" y1="424.20" x2="422.12" y2="421.20" stroke="#6a6a6a" stroke-width="1"/>
<line x1="422.12" y1="308.50" x2="422.12" y2="311.50" stroke="#6a6a6a" stroke-width="1"/>
<line x1="430.36" y1="424.20" x2="430.36" y2="421.20" stroke="#6a6a6a" stroke-width="1"/>
<line x1="430.36" y1="308.50" x2="430.36" y2="311.50" stroke="#6a6a6a" stroke-width="1"/>
<line x1="438.60" y1="424.20" x2="438.60" y2="421.20" stroke="#6a6a6a" stroke-width="1"/>
<line x1="438.60" y1="308.50" x2="438.60" y2="311.50" stroke="#6a6a6a" stroke-width="1"/>
<line x1="43.00" y1="424.20" x2="49.00" y2="424.20" stroke="#6a6a6a" stroke-width="1"/>
<line x1="438.60" y1="424.20" x2="432.60" y2="424.20" stroke="#6a6a6a" stroke-width="1"/>
<line x1="43.00" y1="407.67" x2="46.00" y2="407.67" stroke="#6a6a6a" stroke-width="1"/>
<line x1="438.60" y1="407.67" x2="435.60" y2="407.67" stroke="#6a6a6a" stroke-width="1"/>
<line x1="43.00" y1="391.14" x2="49.00" y2="391.14" stroke="#6a6a6a" stroke-width="1"/>
<line x1="438.60" y1="391.14" x2="432.60" y2="391.14" stroke="#6a6a6a" stroke-width="1"/>
<line x1="43.00" y1="374.61" x2="46.00" y2="374.61" stroke="#6a6a6a" stroke-width="1"/>
<line x1="438.60" y1="374.61" x2="435.60" y2="374.61" stroke="#6a6a6a" stroke-width="1"/>
<line x1="43.00" y1="358.09" x2="49.00" y2="358.09" stroke="#6a6a6a" stroke-width="1"/>
<line x1="438.60" y1="358.09" x2="432.60" y2="358.09" stroke="#6a6a6a" stroke-width="1"/>
<line x1="43.00" y1="341.56" x2="46.00" y2="341.56" stroke="#6a6a6a" stroke-width="1"/>
<line x1="438.60" y1="341.56" x2="435.60" y2="341.56" stroke="#6a6a6a" stroke-width="1"/>
<line x1="43.00" y1="325.03" x2="49.00" y2="325.03" stroke="#6a6a6a" stroke-width="1"/>
<line x1="438.60" y1="325.03" x2="432.60" y2="325.03" stroke="#6a6a6a" stroke-width="1"/>
<line x1="43.00" y1="308.50" x2="46.00" y2="308.50" stroke="#6a6a6a" stroke-width="1"/>
<line x1="438.60" y1="308.50" x2="435.60" y2="308.50" stroke="#6a6a6a" stroke-width="1"/>
<line x1="43.00" y1="308.50" x2="438.60" y2="308.50" stroke="#6a6a6a" stroke-width="1"/>
<line x1="438.60" y1="308.50" x2="438.60" y2="424.20" stroke="#6a6a6a" stroke-width="1"/>
<line x1="43.00" y1="424.20" x2="438.60" y2="424.20" stroke="#6a6a6a" stroke-width="1"/>
<line x1="43.00" y1="308.50" x2="43.00" y2="424.20" stroke="#a8a8a8" stroke-width="1.5"/>
<text x="40.00" y="331.83" font-size="19" text-anchor="end" font-weight="normal" font-style="normal" >0</text>
<text x="40.00" y="364.89" font-size="19" text-anchor="end" font-weight="normal" font-style="normal" >-2</text>
<text x="40.00" y="397.94" font-size="19" text-anchor="end" font-weight="normal" font-style="normal" >-4</text>
<text x="40.00" y="431.00" font-size="19" text-anchor="end" font-weight="normal" font-style="normal" >-6</text>
<text x="43.50" y="441.00" font-size="19" text-anchor="middle" font-weight="normal" font-style="normal" >0</text>
<text x="125.92" y="441.00" font-size="19" text-anchor="middle" font-weight="normal" font-style="normal" >20</text>
<text x="208.33" y="441.00" font-size="19" text-anchor="middle" font-weight="normal" font-style="normal" >40</text>
<text x="290.75" y="441.00" font-size="19" text-anchor="middle" font-weight="normal" font-style="normal" >60</text>
<text x="373.17" y="441.00" font-size="19" text-anchor="middle" font-weight="normal" font-style="normal" >80</text>
<text x="-1.00" y="14.50" font-size="20" text-anchor="start" font-weight="bold" font-style="normal" >(a)</text>
<text x="0.00" y="171.00" font-size="20" text-anchor="start" font-weight="bold" font-style="normal" >(b)</text>
<text x="0.00" y="316.00" font-size="20" text-anchor="start" font-weight="bold" font-style="normal" >(c)</text>
<text x="460.50" y="14.50" font-size="20" text-anchor="start" font-weight="bold" font-style="normal" >(d)</text>
<text x="462.00" y="158.00" font-size="20" text-anchor="start" font-weight="bold" font-style="normal" >(e)</text>
<text x="462.00" y="315.00" font-size="20" text-anchor="start" font-weight="bold" font-style="normal" >(f)</text>
<text x="262.20" y="21.00" font-size="17.7" text-anchor="middle" font-weight="normal" font-style="normal" >SH4UD</text>
<text transform="translate(16.2,222.3) rotate(-90)" font-size="17.5" text-anchor="middle">ΔCS (ppm)</text>
<text transform="translate(478.7,231.3) rotate(-90)" font-size="17.5" text-anchor="middle">ΔCS RMSE (ppm)</text>
<text x="248.20" y="456.00" font-size="17.5" text-anchor="middle" font-weight="normal" font-style="normal" >Residue index</text>
<line x1="516.30" y1="139.20" x2="521.30" y2="139.20" stroke="#c4c4c4" stroke-width="1"/>
<line x1="684.00" y1="139.20" x2="679.00" y2="139.20" stroke="#c4c4c4" stroke-width="1"/>
<line x1="516.30" y1="131.35" x2="519.30" y2="131.35" stroke="#c4c4c4" stroke-width="1"/>
<line x1="684.00" y1="131.35" x2="681.00" y2="131.35" stroke="#c4c4c4" stroke-width="1"/>
<line x1="516.30" y1="123.51" x2="519.30" y2="123.51" stroke="#c4c4c4" stroke-width="1"/>
<line x1="684.00" y1="123.51" x2="681.00" y2="123.51" stroke="#c4c4c4" stroke-width="1"/>
<line x1="516.30" y1="115.66" x2="519.30" y2="115.66" stroke="#c4c4c4" stroke-width="1"/>
<line x1="684.00" y1="115.66" x2="681.00" y2="115.66" stroke="#c4c4c4" stroke-width="1"/>
<line x1="516.30" y1="107.81" x2="519.30" y2="107.81" stroke="#c4c4c4" stroke-width="1"/>
<line x1="684.00" y1="107.81" x2="681.00" y2="107.81" stroke="#c4c4c4" stroke-width="1"/>
<line x1="516.30" y1="99.97" x2="521.30" y2="99.97" stroke="#c4c4c4" stroke-width="1"/>
<line x1="684.00" y1="99.97" x2="679.00" y2="99.97" stroke="#c4c4c4" stroke-width="1"/>
<line x1="516.30" y1="92.12" x2="519.30" y2="92.12" stroke="#c4c4c4" stroke-width="1"/>
<line x1="684.00" y1="92.12" x2="681.00" y2="92.12" stroke="#c4c4c4" stroke-width="1"/>
<line x1="516.30" y1="84.27" x2="519.30" y2="84.27" stroke="#c4c4c4" stroke-width="1"/>
<line x1="684.00" y1="84.27" x2="681.00" y2="84.27" stroke="#c4c4c4" stroke-width="1"/>
<line x1="516.30" y1="76.43" x2="519.30" y2="76.43" stroke="#c4c4c4" stroke-width="1"/>
<line x1="684.00" y1="76.43" x2="681.00" y2="76.43" stroke="#c4c4c4" stroke-width="1"/>
<line x1="516.30" y1="68.58" x2="519.30" y2="68.58" stroke="#c4c4c4" stroke-width="1"/>
<line x1="684.00" y1="68.58" x2="681.00" y2="68.58" stroke="#c4c4c4" stroke-width="1"/>
<line x1="516.30" y1="60.73" x2="521.30" y2="60.73" stroke="#c4c4c4" stroke-width="1"/>
<line x1="684.00" y1="60.73" x2="679.00" y2="60.73" stroke="#c4c4c4" stroke-width="1"/>
<line x1="516.30" y1="52.89" x2="519.30" y2="52.89" stroke="#c4c4c4" stroke-width="1"/>
<line x1="684.00" y1="52.89" x2="681.00" y2="52.89" stroke="#c4c4c4" stroke-width="1"/>
<line x1="516.30" y1="45.04" x2="519.30" y2="45.04" stroke="#c4c4c4" stroke-width="1"/>
<line x1="684.00" y1="45.04" x2="681.00" y2="45.04" stroke="#c4c4c4" stroke-width="1"/>
<line x1="516.30" y1="37.19" x2="519.30" y2="37.19" stroke="#c4c4c4" stroke-width="1"/>
<line x1="684.00" y1="37.19" x2="681.00" y2="37.19" stroke="#c4c4c4" stroke-width="1"/>
<line x1="516.30" y1="29.35" x2="519.30" y2="29.35" stroke="#c4c4c4" stroke-width="1"/>
<line x1="684.00" y1="29.35" x2="681.00" y2="29.35" stroke="#c4c4c4" stroke-width="1"/>
<line x1="516.30" y1="21.50" x2="521.30" y2="21.50" stroke="#c4c4c4" stroke-width="1"/>
<line x1="684.00" y1="21.50" x2="679.00" y2="21.50" stroke="#c4c4c4" stroke-width="1"/>
<rect x="516.30" y="21.50" width="167.70" height="117.70" fill="none" stroke="#c4c4c4" stroke-width="1"/>
<text x="514.10" y="146.50" font-size="19" text-anchor="end" font-weight="normal" font-style="normal" >0.0</text>
<text x="514.10" y="107.27" font-size="19" text-anchor="end" font-weight="normal" font-style="normal" >0.1</text>
<text x="514.10" y="68.03" font-size="19" text-anchor="end" font-weight="normal" font-style="normal" >0.2</text>
<text x="514.10" y="28.80" font-size="19" text-anchor="end" font-weight="normal" font-style="normal" >0.3</text>
<line x1="515.60" y1="279.20" x2="520.60" y2="279.20" stroke="#c4c4c4" stroke-width="1"/>
<line x1="683.70" y1="279.20" x2="678.70" y2="279.20" stroke="#c4c4c4" stroke-width="1"/>
<line x1="515.60" y1="271.43" x2="518.60" y2="271.43" stroke="#c4c4c4" stroke-width="1"/>
<line x1="683.70" y1="271.43" x2="680.70" y2="271.43" stroke="#c4c4c4" stroke-width="1"/>
<line x1="515.60" y1="263.65" x2="518.60" y2="263.65" stroke="#c4c4c4" stroke-width="1"/>
<line x1="683.70" y1="263.65" x2="680.70" y2="263.65" stroke="#c4c4c4" stroke-width="1"/>
<line x1="515.60" y1="255.88" x2="518.60" y2="255.88" stroke="#c4c4c4" stroke-width="1"/>
<line x1="683.70" y1="255.88" x2="680.70" y2="255.88" stroke="#c4c4c4" stroke-width="1"/>
<line x1="515.60" y1="248.11" x2="518.60" y2="248.11" stroke="#c4c4c4" stroke-width="1"/>
<line x1="683.70" y1="248.11" x2="680.70" y2="248.11" stroke="#c4c4c4" stroke-width="1"/>
<line x1="515.60" y1="240.33" x2="520.60" y2="240.33" stroke="#c4c4c4" stroke-width="1"/>
<line x1="683.70" y1="240.33" x2="678.70" y2="240.33" stroke="#c4c4c4" stroke-width="1"/>
<line x1="515.60" y1="232.56" x2="518.60" y2="232.56" stroke="#c4c4c4" stroke-width="1"/>
<line x1="683.70" y1="232.56" x2="680.70" y2="232.56" stroke="#c4c4c4" stroke-width="1"/>
<line x1="515.60" y1="224.79" x2="518.60" y2="224.79" stroke="#c4c4c4" stroke-width="1"/>
<line x1="683.70" y1="224.79" x2="680.70" y2="224.79" stroke="#c4c4c4" stroke-width="1"/>
<line x1="515.60" y1="217.01" x2="518.60" y2="217.01" stroke="#c4c4c4" stroke-width="1"/>
<line x1="683.70" y1="217.01" x2="680.70" y2="217.01" stroke="#c4c4c4" stroke-width="1"/>
<line x1="515.60" y1="209.24" x2="518.60" y2="209.24" stroke="#c4c4c4" stroke-width="1"/>
<line x1="683.70" y1="209.24" x2="680.70" y2="209.24" stroke="#c4c4c4" stroke-width="1"/>
<line x1="515.60" y1="201.47" x2="520.60" y2="201.47" stroke="#c4c4c4" stroke-width="1"/>
<line x1="683.70" y1="201.47" x2="678.70" y2="201.47" stroke="#c4c4c4" stroke-width="1"/>
<line x1="515.60" y1="193.69" x2="518.60" y2="193.69" stroke="#c4c4c4" stroke-width="1"/>
<line x1="683.70" y1="193.69" x2="680.70" y2="193.69" stroke="#c4c4c4" stroke-width="1"/>
<line x1="515.60" y1="185.92" x2="518.60" y2="185.92" stroke="#c4c4c4" stroke-width="1"/>
<line x1="683.70" y1="185.92" x2="680.70" y2="185.92" stroke="#c4c4c4" stroke-width="1"/>
<line x1="515.60" y1="178.15" x2="518.60" y2="178.15" stroke="#c4c4c4" stroke-width="1"/>
<line x1="683.70" y1="178.15" x2="680.70" y2="178.15" stroke="#c4c4c4" stroke-width="1"/>
<line x1="515.60" y1="170.37" x2="518.60" y2="170.37" stroke="#c4c4c4" stroke-width="1"/>
<line x1="683.70" y1="170.37" x2="680.70" y2="170.37" stroke="#c4c4c4" stroke-width="1"/>
<line x1="515.60" y1="162.60" x2="520.60" y2="162.60" stroke="#c4c4c4" stroke-width="1"/>
<line x1="683.70" y1="162.60" x2="678.70" y2="162.60" stroke="#c4c4c4" stroke-width="1"/>
<rect x="515.60" y="162.60" width="168.10" height="116.60" fill="none" stroke="#c4c4c4" stroke-width="1"/>
<text x="513.40" y="286.50" font-size="19" text-anchor="end" font-weight="normal" font-style="normal" >0.0</text>
<text x="513.40" y="247.63" font-size="19" text-anchor="end" font-weight="normal" font-style="normal" >0.5</text>
<text x="513.40" y="208.77" font-size="19" text-anchor="end" font-weight="normal" font-style="normal" >1.0</text>
<text x="513.40" y="169.90" font-size="19" text-anchor="end" font-weight="normal" font-style="normal" >1.5</text>
<line x1="515.70" y1="419.80" x2="520.70" y2="419.80" stroke="#c4c4c4" stroke-width="1"/>
<line x1="683.00" y1="419.80" x2="678.00" y2="419.80" stroke="#c4c4c4" stroke-width="1"/>
<line x1="515.70" y1="411.89" x2="518.70" y2="411.89" stroke="#c4c4c4" stroke-width="1"/>
<line x1="683.00" y1="411.89" x2="680.00" y2="411.89" stroke="#c4c4c4" stroke-width="1"/>
<line x1="515.70" y1="403.99" x2="518.70" y2="403.99" stroke="#c4c4c4" stroke-width="1"/>
<line x1="683.00" y1="403.99" x2="680.00" y2="403.99" stroke="#c4c4c4" stroke-width="1"/>
<line x1="515.70" y1="396.08" x2="518.70" y2="396.08" stroke="#c4c4c4" stroke-width="1"/>
<line x1="683.00" y1="396.08" x2="680.00" y2="396.08" stroke="#c4c4c4" stroke-width="1"/>
<line x1="515.70" y1="388.17" x2="518.70" y2="388.17" stroke="#c4c4c4" stroke-width="1"/>
<line x1="683.00" y1="388.17" x2="680.00" y2="388.17" stroke="#c4c4c4" stroke-width="1"/>
<line x1="515.70" y1="380.27" x2="520.70" y2="380.27" stroke="#c4c4c4" stroke-width="1"/>
<line x1="683.00" y1="380.27" x2="678.00" y2="380.27" stroke="#c4c4c4" stroke-width="1"/>
<line x1="515.70" y1="372.36" x2="518.70" y2="372.36" stroke="#c4c4c4" stroke-width="1"/>
<line x1="683.00" y1="372.36" x2="680.00" y2="372.36" stroke="#c4c4c4" stroke-width="1"/>
<line x1="515.70" y1="364.45" x2="518.70" y2="364.45" stroke="#c4c4c4" stroke-width="1"/>
<line x1="683.00" y1="364.45" x2="680.00" y2="364.45" stroke="#c4c4c4" stroke-width="1"/>
<line x1="515.70" y1="356.55" x2="518.70" y2="356.55" stroke="#c4c4c4" stroke-width="1"/>
<line x1="683.00" y1="356.55" x2="680.00" y2="356.55" stroke="#c4c4c4" stroke-width="1"/>
<line x1="515.70" y1="348.64" x2="518.70" y2="348.64" stroke="#c4c4c4" stroke-width="1"/>
<line x1="683.00" y1="348.64" x2="680.00" y2="348.64" stroke="#c4c4c4" stroke-width="1"/>
<line x1="515.70" y1="340.73" x2="520.70" y2="340.73" stroke="#c4c4c4" stroke-width="1"/>
<line x1="683.00" y1="340.73" x2="678.00" y2="340.73" stroke="#c4c4c4" stroke-width="1"/>
<line x1="515.70" y1="332.83" x2="518.70" y2="332.83" stroke="#c4c4c4" stroke-width="1"/>
<line x1="683.00" y1="332.83" x2="680.00" y2="332.83" stroke="#c4c4c4" stroke-width="1"/>
<line x1="515.70" y1="324.92" x2="518.70" y2="324.92" stroke="#c4c4c4" stroke-width="1"/>
<line x1="683.00" y1="324.92" x2="680.00" y2="324.92" stroke="#c4c4c4" stroke-width="1"/>
<line x1="515.70" y1="317.01" x2="518.70" y2="317.01" stroke="#c4c4c4" stroke-width="1"/>
<line x1="683.00" y1="317.01" x2="680.00" y2="317.01" stroke="#c4c4c4" stroke-width="1"/>
<line x1="515.70" y1="309.11" x2="518.70" y2="309.11" stroke="#c4c4c4" stroke-width="1"/>
<line x1="683.00" y1="309.11" x2="680.00" y2="309.11" stroke="#c4c4c4" stroke-width="1"/>
<line x1="515.70" y1="301.20" x2="520.70" y2="301.20" stroke="#c4c4c4" stroke-width="1"/>
<line x1="683.00" y1="301.20" x2="678.00" y2="301.20" stroke="#c4c4c4" stroke-width="1"/>
<rect x="515.70" y="301.20" width="167.30" height="118.60" fill="none" stroke="#c4c4c4" stroke-width="1"/>
<text x="513.50" y="427.10" font-size="19" text-anchor="end" font-weight="normal" font-style="normal" >0.0</text>
<text x="513.50" y="387.57" font-size="19" text-anchor="end" font-weight="normal" font-style="normal" >0.5</text>
<text x="513.50" y="348.03" font-size="19" text-anchor="end" font-weight="normal" font-style="normal" >1.0</text>
<text x="513.50" y="308.50" font-size="19" text-anchor="end" font-weight="normal" font-style="normal" >1.5</text>
<rect x="525.00" y="37.19" width="13.70" height="102.01" fill="#008000"/>
<rect x="540.30" y="42.29" width="13.70" height="96.91" fill="#0000ff"/>
<rect x="555.60" y="50.53" width="13.70" height="88.67" fill="#ff0000"/>
<rect x="570.90" y="55.63" width="13.70" height="83.57" fill="#00ffff"/>
<line x1="531.85" y1="30.52" x2="531.85" y2="43.86" stroke="#222" stroke-width="0.6"/>
<line x1="530.05" y1="30.52" x2="533.65" y2="30.52" stroke="#222" stroke-width="0.8"/>
<line x1="530.05" y1="43.86" x2="533.65" y2="43.86" stroke="#222" stroke-width="0.8"/>
<line x1="547.15" y1="31.70" x2="547.15" y2="52.89" stroke="#222" stroke-width="0.6"/>
<line x1="545.35" y1="31.70" x2="548.95" y2="31.70" stroke="#222" stroke-width="0.8"/>
<line x1="545.35" y1="52.89" x2="548.95" y2="52.89" stroke="#222" stroke-width="0.8"/>
<line x1="562.45" y1="49.55" x2="562.45" y2="51.51" stroke="#222" stroke-width="0.6"/>
<line x1="560.65" y1="49.55" x2="564.25" y2="49.55" stroke="#222" stroke-width="0.8"/>
<line x1="560.65" y1="51.51" x2="564.25" y2="51.51" stroke="#222" stroke-width="0.8"/>
<line x1="577.75" y1="50.53" x2="577.75" y2="60.73" stroke="#222" stroke-width="0.6"/>
<line x1="575.95" y1="50.53" x2="579.55" y2="50.53" stroke="#222" stroke-width="0.8"/>
<line x1="575.95" y1="60.73" x2="579.55" y2="60.73" stroke="#222" stroke-width="0.8"/>
<rect x="616.80" y="87.02" width="13.70" height="52.18" fill="#008000"/>
<rect x="632.10" y="71.72" width="13.70" height="67.48" fill="#0000ff"/>
<rect x="647.40" y="99.18" width="13.70" height="40.02" fill="#ff0000"/>
<rect x="662.70" y="97.22" width="13.70" height="41.98" fill="#00ffff"/>
<line x1="623.65" y1="82.31" x2="623.65" y2="91.73" stroke="#222" stroke-width="0.6"/>
<line x1="621.85" y1="82.31" x2="625.45" y2="82.31" stroke="#222" stroke-width="0.8"/>
<line x1="621.85" y1="91.73" x2="625.45" y2="91.73" stroke="#222" stroke-width="0.8"/>
<line x1="638.95" y1="59.95" x2="638.95" y2="83.49" stroke="#222" stroke-width="0.6"/>
<line x1="637.15" y1="59.95" x2="640.75" y2="59.95" stroke="#222" stroke-width="0.8"/>
<line x1="637.15" y1="83.49" x2="640.75" y2="83.49" stroke="#222" stroke-width="0.8"/>
<line x1="654.25" y1="98.40" x2="654.25" y2="99.97" stroke="#222" stroke-width="0.6"/>
<line x1="652.45" y1="98.40" x2="656.05" y2="98.40" stroke="#222" stroke-width="0.8"/>
<line x1="652.45" y1="99.97" x2="656.05" y2="99.97" stroke="#222" stroke-width="0.8"/>
<line x1="669.55" y1="96.04" x2="669.55" y2="98.40" stroke="#222" stroke-width="0.6"/>
<line x1="667.75" y1="96.04" x2="671.35" y2="96.04" stroke="#222" stroke-width="0.8"/>
<line x1="667.75" y1="98.40" x2="671.35" y2="98.40" stroke="#222" stroke-width="0.8"/>
<rect x="521.90" y="178.38" width="10.20" height="100.82" fill="#008000"/>
<rect x="533.00" y="195.87" width="10.20" height="83.33" fill="#0000ff"/>
<rect x="544.10" y="173.48" width="10.20" height="105.72" fill="#ff0000"/>
<rect x="555.20" y="202.09" width="10.20" height="77.11" fill="#00ffff"/>
<line x1="527.00" y1="174.10" x2="527.00" y2="182.66" stroke="#222" stroke-width="0.6"/>
<line x1="525.20" y1="174.10" x2="528.80" y2="174.10" stroke="#222" stroke-width="0.8"/>
<line x1="525.20" y1="182.66" x2="528.80" y2="182.66" stroke="#222" stroke-width="0.8"/>
<line x1="538.10" y1="191.98" x2="538.10" y2="199.76" stroke="#222" stroke-width="0.6"/>
<line x1="536.30" y1="191.98" x2="539.90" y2="191.98" stroke="#222" stroke-width="0.8"/>
<line x1="536.30" y1="199.76" x2="539.90" y2="199.76" stroke="#222" stroke-width="0.8"/>
<line x1="549.20" y1="170.76" x2="549.20" y2="176.20" stroke="#222" stroke-width="0.6"/>
<line x1="547.40" y1="170.76" x2="551.00" y2="170.76" stroke="#222" stroke-width="0.8"/>
<line x1="547.40" y1="176.20" x2="551.00" y2="176.20" stroke="#222" stroke-width="0.8"/>
<line x1="560.30" y1="200.92" x2="560.30" y2="203.25" stroke="#222" stroke-width="0.6"/>
<line x1="558.50" y1="200.92" x2="562.10" y2="200.92" stroke="#222" stroke-width="0.8"/>
<line x1="558.50" y1="203.25" x2="562.10" y2="203.25" stroke="#222" stroke-width="0.8"/>
<rect x="577.80" y="222.30" width="10.20" height="56.90" fill="#008000"/>
<rect x="588.90" y="237.07" width="10.20" height="42.13" fill="#0000ff"/>
<rect x="600.00" y="219.27" width="10.20" height="59.93" fill="#ff0000"/>
<rect x="611.10" y="239.17" width="10.20" height="40.03" fill="#00ffff"/>
<line x1="582.90" y1="220.36" x2="582.90" y2="224.24" stroke="#222" stroke-width="0.6"/>
<line x1="581.10" y1="220.36" x2="584.70" y2="220.36" stroke="#222" stroke-width="0.8"/>
<line x1="581.10" y1="224.24" x2="584.70" y2="224.24" stroke="#222" stroke-width="0.8"/>
<line x1="594.00" y1="233.96" x2="594.00" y2="240.18" stroke="#222" stroke-width="0.6"/>
<line x1="592.20" y1="233.96" x2="595.80" y2="233.96" stroke="#222" stroke-width="0.8"/>
<line x1="592.20" y1="240.18" x2="595.80" y2="240.18" stroke="#222" stroke-width="0.8"/>
<line x1="605.10" y1="218.33" x2="605.10" y2="220.20" stroke="#222" stroke-width="0.6"/>
<line x1="603.30" y1="218.33" x2="606.90" y2="218.33" stroke="#222" stroke-width="0.8"/>
<line x1="603.30" y1="220.20" x2="606.90" y2="220.20" stroke="#222" stroke-width="0.8"/>
<line x1="616.20" y1="238.70" x2="616.20" y2="239.63" stroke="#222" stroke-width="0.6"/>
<line x1="614.40" y1="238.70" x2="618.00" y2="238.70" stroke="#222" stroke-width="0.8"/>
<line x1="614.40" y1="239.63" x2="618.00" y2="239.63" stroke="#222" stroke-width="0.8"/>
<rect x="634.00" y="245.70" width="10.20" height="33.50" fill="#008000"/>
<rect x="645.10" y="253.39" width="10.20" height="25.81" fill="#0000ff"/>
<rect x="656.20" y="247.48" width="10.20" height="31.72" fill="#ff0000"/>
<rect x="667.30" y="258.29" width="10.20" height="20.91" fill="#00ffff"/>
<line x1="639.10" y1="244.76" x2="639.10" y2="246.63" stroke="#222" stroke-width="0.6"/>
<line x1="637.30" y1="244.76" x2="640.90" y2="244.76" stroke="#222" stroke-width="0.8"/>
<line x1="637.30" y1="246.63" x2="640.90" y2="246.63" stroke="#222" stroke-width="0.8"/>
<line x1="650.20" y1="250.28" x2="650.20" y2="256.50" stroke="#222" stroke-width="0.6"/>
<line x1="648.40" y1="250.28" x2="652.00" y2="250.28" stroke="#222" stroke-width="0.8"/>
<line x1="648.40" y1="256.50" x2="652.00" y2="256.50" stroke="#222" stroke-width="0.8"/>
<line x1="661.30" y1="246.86" x2="661.30" y2="248.11" stroke="#222" stroke-width="0.6"/>
<line x1="659.50" y1="246.86" x2="663.10" y2="246.86" stroke="#222" stroke-width="0.8"/>
<line x1="659.50" y1="248.11" x2="663.10" y2="248.11" stroke="#222" stroke-width="0.8"/>
<line x1="672.40" y1="257.98" x2="672.40" y2="258.60" stroke="#222" stroke-width="0.6"/>
<line x1="670.60" y1="257.98" x2="674.20" y2="257.98" stroke="#222" stroke-width="0.8"/>
<line x1="670.60" y1="258.60" x2="674.20" y2="258.60" stroke="#222" stroke-width="0.8"/>
<rect x="521.20" y="313.53" width="10.20" height="106.27" fill="#008000"/>
<rect x="532.30" y="335.04" width="10.20" height="84.76" fill="#0000ff"/>
<rect x="543.40" y="316.30" width="10.20" height="103.50" fill="#ff0000"/>
<rect x="554.50" y="332.04" width="10.20" height="87.76" fill="#00ffff"/>
<line x1="526.30" y1="309.58" x2="526.30" y2="317.49" stroke="#222" stroke-width="0.6"/>
<line x1="524.50" y1="309.58" x2="528.10" y2="309.58" stroke="#222" stroke-width="0.8"/>
<line x1="524.50" y1="317.49" x2="528.10" y2="317.49" stroke="#222" stroke-width="0.8"/>
<line x1="537.40" y1="329.51" x2="537.40" y2="340.58" stroke="#222" stroke-width="0.6"/>
<line x1="535.60" y1="329.51" x2="539.20" y2="329.51" stroke="#222" stroke-width="0.8"/>
<line x1="535.60" y1="340.58" x2="539.20" y2="340.58" stroke="#222" stroke-width="0.8"/>
<line x1="548.50" y1="315.99" x2="548.50" y2="316.62" stroke="#222" stroke-width="0.6"/>
<line x1="546.70" y1="315.99" x2="550.30" y2="315.99" stroke="#222" stroke-width="0.8"/>
<line x1="546.70" y1="316.62" x2="550.30" y2="316.62" stroke="#222" stroke-width="0.8"/>
<line x1="559.60" y1="329.66" x2="559.60" y2="334.41" stroke="#222" stroke-width="0.6"/>
<line x1="557.80" y1="329.66" x2="561.40" y2="329.66" stroke="#222" stroke-width="0.8"/>
<line x1="557.80" y1="334.41" x2="561.40" y2="334.41" stroke="#222" stroke-width="0.8"/>
<rect x="577.40" y="345.16" width="10.20" height="74.64" fill="#008000"/>
<rect x="588.50" y="351.64" width="10.20" height="68.16" fill="#0000ff"/>
<rect x="599.60" y="345.40" width="10.20" height="74.40" fill="#ff0000"/>
<rect x="610.70" y="352.83" width="10.20" height="66.97" fill="#00ffff"/>
<line x1="582.50" y1="343.58" x2="582.50" y2="346.74" stroke="#222" stroke-width="0.6"/>
<line x1="580.70" y1="343.58" x2="584.30" y2="343.58" stroke="#222" stroke-width="0.8"/>
<line x1="580.70" y1="346.74" x2="584.30" y2="346.74" stroke="#222" stroke-width="0.8"/>
<line x1="593.60" y1="350.06" x2="593.60" y2="353.23" stroke="#222" stroke-width="0.6"/>
<line x1="591.80" y1="350.06" x2="595.40" y2="350.06" stroke="#222" stroke-width="0.8"/>
<line x1="591.80" y1="353.23" x2="595.40" y2="353.23" stroke="#222" stroke-width="0.8"/>
<line x1="604.70" y1="344.92" x2="604.70" y2="345.87" stroke="#222" stroke-width="0.6"/>
<line x1="602.90" y1="344.92" x2="606.50" y2="344.92" stroke="#222" stroke-width="0.8"/>
<line x1="602.90" y1="345.87" x2="606.50" y2="345.87" stroke="#222" stroke-width="0.8"/>
<line x1="615.80" y1="352.36" x2="615.80" y2="353.30" stroke="#222" stroke-width="0.6"/>
<line x1="614.00" y1="352.36" x2="617.60" y2="352.36" stroke="#222" stroke-width="0.8"/>
<line x1="614.00" y1="353.30" x2="617.60" y2="353.30" stroke="#222" stroke-width="0.8"/>
<rect x="633.50" y="384.14" width="10.20" height="35.66" fill="#008000"/>
<rect x="644.60" y="391.81" width="10.20" height="27.99" fill="#0000ff"/>
<rect x="655.70" y="385.09" width="10.20" height="34.71" fill="#ff0000"/>
<rect x="666.80" y="395.53" width="10.20" height="24.27" fill="#00ffff"/>
<line x1="638.60" y1="380.98" x2="638.60" y2="387.30" stroke="#222" stroke-width="0.6"/>
<line x1="636.80" y1="380.98" x2="640.40" y2="380.98" stroke="#222" stroke-width="0.8"/>
<line x1="636.80" y1="387.30" x2="640.40" y2="387.30" stroke="#222" stroke-width="0.8"/>
<line x1="649.70" y1="388.25" x2="649.70" y2="395.37" stroke="#222" stroke-width="0.6"/>
<line x1="647.90" y1="388.25" x2="651.50" y2="388.25" stroke="#222" stroke-width="0.8"/>
<line x1="647.90" y1="395.37" x2="651.50" y2="395.37" stroke="#222" stroke-width="0.8"/>
<line x1="660.80" y1="384.62" x2="660.80" y2="385.56" stroke="#222" stroke-width="0.6"/>
<line x1="659.00" y1="384.62" x2="662.60" y2="384.62" stroke="#222" stroke-width="0.8"/>
<line x1="659.00" y1="385.56" x2="662.60" y2="385.56" stroke="#222" stroke-width="0.8"/>
<line x1="671.90" y1="395.21" x2="671.90" y2="395.84" stroke="#222" stroke-width="0.6"/>
<line x1="670.10" y1="395.21" x2="673.70" y2="395.21" stroke="#222" stroke-width="0.8"/>
<line x1="670.10" y1="395.84" x2="673.70" y2="395.84" stroke="#222" stroke-width="0.8"/>
<text x="545.30" y="152.20" font-size="16" font-style="italic">H</text>
<text x="556.60" y="147.40" font-size="10.8" font-style="italic">N</text>
<text x="637.70" y="151.70" font-size="16" font-style="italic">H</text>
<text x="649.60" y="146.90" font-size="10.8" font-style="italic">α</text>
<text x="534.60" y="292.40" font-size="16" font-style="italic">N</text>
<text x="545.40" y="287.80" font-size="10.8" font-style="italic">H</text>
<text x="592.00" y="292.10" font-size="16" font-style="italic">C</text>
<text x="602.60" y="287.10" font-size="10.8" font-style="italic">α</text>
<text x="648.60" y="292.10" font-size="16" font-style="italic">C</text>
<text x="658.20" y="288.40" font-size="10.8" font-style="italic">β</text>
<text x="534.60" y="432.60" font-size="16" font-style="italic">N</text>
<text x="545.40" y="428.00" font-size="10.8" font-style="italic">H</text>
<text x="591.60" y="432.30" font-size="16" font-style="italic">C</text>
<text x="602.20" y="427.30" font-size="10.8" font-style="italic">α</text>
<text x="648.20" y="432.30" font-size="16" font-style="italic">C</text>
<text x="657.80" y="428.60" font-size="10.8" font-style="italic">β</text>
<text x="631.50" y="229.00" font-size="15.5" text-anchor="start" font-weight="normal" font-style="normal" >Sic 1</text>
<text x="579.50" y="38.70" font-size="15" text-anchor="start" font-weight="normal" font-style="normal" >Histatin 5</text>
<text x="612.00" y="319.60" font-size="15.2" text-anchor="middle" font-weight="normal" font-style="normal" >SH4UD</text>
<rect x="569.4" y="170.3" width="109.5" height="37.6" fill="#fff" stroke="#8a8a8a" stroke-width="0.8"/>
<rect x="570.8" y="172.70" width="10.8" height="5.8" fill="#008000"/>
<text x="586.30" y="178.50" font-size="8.2" text-anchor="start" font-weight="normal" font-style="normal" >Standard MD (a03ws)</text>
<rect x="570.8" y="181.55" width="10.8" height="5.8" fill="#0000ff"/>
<text x="586.30" y="187.35" font-size="8.2" text-anchor="start" font-weight="normal" font-style="normal" >Standard MD (a99SB-disp)</text>
<rect x="570.8" y="190.40" width="10.8" height="5.8" fill="#ff0000"/>
<text x="586.30" y="196.20" font-size="8.2" text-anchor="start" font-weight="normal" font-style="normal" >HREMD (a03ws)</text>
<rect x="570.8" y="199.25" width="10.8" height="5.8" fill="#00ffff"/>
<text x="586.30" y="205.05" font-size="8.2" text-anchor="start" font-weight="normal" font-style="normal" >HREMD (a99SB-disp)</text>
<line x1="53.96" y1="82.35" x2="53.96" y2="51.44" stroke="#b98a8a" stroke-width="1.9"/>
<line x1="58.08" y1="82.35" x2="58.08" y2="56.27" stroke="#b98a8a" stroke-width="1.9"/>
<line x1="62.19" y1="82.35" x2="62.19" y2="77.33" stroke="#b98a8a" stroke-width="1.9"/>
<line x1="70.43" y1="82.35" x2="70.43" y2="52.99" stroke="#b98a8a" stroke-width="1.9"/>
<line x1="82.79" y1="82.35" x2="82.79" y2="72.69" stroke="#b98a8a" stroke-width="1.9"/>
<line x1="86.91" y1="82.35" x2="86.91" y2="66.90" stroke="#b98a8a" stroke-width="1.9"/>
<line x1="91.02" y1="82.35" x2="91.02" y2="84.76" stroke="#b98a8a" stroke-width="1.9"/>
<line x1="95.14" y1="82.35" x2="95.14" y2="71.73" stroke="#b98a8a" stroke-width="1.9"/>
<line x1="111.62" y1="82.35" x2="111.62" y2="68.83" stroke="#b98a8a" stroke-width="1.9"/>
<line x1="115.74" y1="82.35" x2="115.74" y2="70.08" stroke="#b98a8a" stroke-width="1.9"/>
<line x1="119.86" y1="82.35" x2="119.86" y2="68.83" stroke="#b98a8a" stroke-width="1.9"/>
<line x1="136.33" y1="82.35" x2="136.33" y2="71.73" stroke="#b98a8a" stroke-width="1.9"/>
<line x1="144.57" y1="82.35" x2="144.57" y2="58.30" stroke="#b98a8a" stroke-width="1.9"/>
<line x1="148.69" y1="82.35" x2="148.69" y2="64.97" stroke="#b98a8a" stroke-width="1.9"/>
<line x1="165.16" y1="82.35" x2="165.16" y2="84.28" stroke="#b98a8a" stroke-width="1.9"/>
<line x1="169.28" y1="82.35" x2="169.28" y2="87.86" stroke="#b98a8a" stroke-width="1.9"/>
<line x1="181.64" y1="82.35" x2="181.64" y2="76.56" stroke="#b98a8a" stroke-width="1.9"/>
<line x1="185.76" y1="82.35" x2="185.76" y2="89.59" stroke="#b98a8a" stroke-width="1.9"/>
<line x1="193.99" y1="82.35" x2="193.99" y2="40.82" stroke="#b98a8a" stroke-width="1.9"/>
<line x1="206.35" y1="82.35" x2="206.35" y2="56.95" stroke="#b98a8a" stroke-width="1.9"/>
<line x1="214.59" y1="82.35" x2="214.59" y2="74.62" stroke="#b98a8a" stroke-width="1.9"/>
<line x1="218.71" y1="82.35" x2="218.71" y2="95.78" stroke="#b98a8a" stroke-width="1.9"/>
<line x1="222.82" y1="82.35" x2="222.82" y2="63.52" stroke="#b98a8a" stroke-width="1.9"/>
<line x1="226.94" y1="82.35" x2="226.94" y2="70.08" stroke="#b98a8a" stroke-width="1.9"/>
<line x1="235.18" y1="82.35" x2="235.18" y2="90.46" stroke="#b98a8a" stroke-width="1.9"/>
<line x1="239.30" y1="82.35" x2="239.30" y2="73.37" stroke="#b98a8a" stroke-width="1.9"/>
<line x1="243.42" y1="82.35" x2="243.42" y2="75.40" stroke="#b98a8a" stroke-width="1.9"/>
<line x1="255.77" y1="82.35" x2="255.77" y2="61.58" stroke="#b98a8a" stroke-width="1.9"/>
<line x1="259.89" y1="82.35" x2="259.89" y2="87.18" stroke="#b98a8a" stroke-width="1.9"/>
<line x1="264.01" y1="82.35" x2="264.01" y2="84.57" stroke="#b98a8a" stroke-width="1.9"/>
<line x1="268.13" y1="82.35" x2="268.13" y2="49.70" stroke="#b98a8a" stroke-width="1.9"/>
<line x1="288.73" y1="82.35" x2="288.73" y2="133.54" stroke="#b98a8a" stroke-width="1.9"/>
<line x1="309.32" y1="82.35" x2="309.32" y2="71.44" stroke="#b98a8a" stroke-width="1.9"/>
<line x1="313.44" y1="82.35" x2="313.44" y2="91.82" stroke="#b98a8a" stroke-width="1.9"/>
<line x1="321.68" y1="82.35" x2="321.68" y2="45.36" stroke="#b98a8a" stroke-width="1.9"/>
<line x1="325.79" y1="82.35" x2="325.79" y2="74.72" stroke="#b98a8a" stroke-width="1.9"/>
<line x1="329.91" y1="82.35" x2="329.91" y2="74.04" stroke="#b98a8a" stroke-width="1.9"/>
<line x1="334.03" y1="82.35" x2="334.03" y2="75.40" stroke="#b98a8a" stroke-width="1.9"/>
<line x1="342.27" y1="82.35" x2="342.27" y2="60.91" stroke="#b98a8a" stroke-width="1.9"/>
<line x1="346.39" y1="82.35" x2="346.39" y2="53.38" stroke="#b98a8a" stroke-width="1.9"/>
<line x1="350.51" y1="82.35" x2="350.51" y2="58.20" stroke="#b98a8a" stroke-width="1.9"/>
<line x1="366.98" y1="82.35" x2="366.98" y2="66.12" stroke="#b98a8a" stroke-width="1.9"/>
<line x1="379.34" y1="82.35" x2="379.34" y2="84.76" stroke="#b98a8a" stroke-width="1.9"/>
<line x1="391.69" y1="82.35" x2="391.69" y2="84.28" stroke="#b98a8a" stroke-width="1.9"/>
<line x1="395.81" y1="82.35" x2="395.81" y2="86.60" stroke="#b98a8a" stroke-width="1.9"/>
<line x1="404.05" y1="82.35" x2="404.05" y2="100.41" stroke="#b98a8a" stroke-width="1.9"/>
<line x1="412.29" y1="82.35" x2="412.29" y2="70.08" stroke="#b98a8a" stroke-width="1.9"/>
<line x1="420.52" y1="82.35" x2="420.52" y2="81.38" stroke="#b98a8a" stroke-width="1.9"/>
<line x1="424.64" y1="82.35" x2="424.64" y2="81.19" stroke="#b98a8a" stroke-width="1.9"/>
<line x1="428.76" y1="82.35" x2="428.76" y2="81.19" stroke="#b98a8a" stroke-width="1.9"/>
<line x1="432.88" y1="82.35" x2="432.88" y2="28.26" stroke="#b98a8a" stroke-width="1.9"/>
<circle cx="53.96" cy="75.59" r="2.55" fill="none" stroke="#009000" stroke-width="1.8"/>
<circle cx="58.08" cy="61.10" r="2.55" fill="none" stroke="#009000" stroke-width="1.8"/>
<circle cx="62.19" cy="54.63" r="2.55" fill="none" stroke="#009000" stroke-width="1.8"/>
<circle cx="66.31" cy="78.68" r="2.55" fill="none" stroke="#009000" stroke-width="1.8"/>
<circle cx="70.43" cy="69.21" r="2.55" fill="none" stroke="#009000" stroke-width="1.8"/>
<circle cx="78.67" cy="84.57" r="2.55" fill="none" stroke="#009000" stroke-width="1.8"/>
<circle cx="82.79" cy="72.69" r="2.55" fill="none" stroke="#009000" stroke-width="1.8"/>
<circle cx="86.91" cy="50.48" r="2.55" fill="none" stroke="#009000" stroke-width="1.8"/>
<circle cx="91.02" cy="108.23" r="2.55" fill="none" stroke="#009000" stroke-width="1.8"/>
<circle cx="95.14" cy="79.07" r="2.55" fill="none" stroke="#009000" stroke-width="1.8"/>
<circle cx="99.26" cy="85.25" r="2.55" fill="none" stroke="#009000" stroke-width="1.8"/>
<circle cx="111.62" cy="59.56" r="2.55" fill="none" stroke="#009000" stroke-width="1.8"/>
<circle cx="119.86" cy="65.93" r="2.55" fill="none" stroke="#009000" stroke-width="1.8"/>
<circle cx="128.09" cy="83.32" r="2.55" fill="none" stroke="#009000" stroke-width="1.8"/>
<circle cx="132.21" cy="96.64" r="2.55" fill="none" stroke="#009000" stroke-width="1.8"/>
<circle cx="136.33" cy="58.98" r="2.55" fill="none" stroke="#009000" stroke-width="1.8"/>
<circle cx="140.45" cy="75.40" r="2.55" fill="none" stroke="#009000" stroke-width="1.8"/>
<circle cx="144.57" cy="41.78" r="2.55" fill="none" stroke="#009000" stroke-width="1.8"/>
<circle cx="148.69" cy="61.58" r="2.55" fill="none" stroke="#009000" stroke-width="1.8"/>
<circle cx="152.81" cy="77.33" r="2.55" fill="none" stroke="#009000" stroke-width="1.8"/>
<circle cx="156.92" cy="83.32" r="2.55" fill="none" stroke="#009000" stroke-width="1.8"/>
<circle cx="161.04" cy="78.68" r="2.55" fill="none" stroke="#009000" stroke-width="1.8"/>
<circle cx="165.16" cy="75.40" r="2.55" fill="none" stroke="#009000" stroke-width="1.8"/>
<circle cx="169.28" cy="82.35" r="2.55" fill="none" stroke="#009000" stroke-width="1.8"/>
<circle cx="173.40" cy="72.31" r="2.55" fill="none" stroke="#009000" stroke-width="1.8"/>
<circle cx="181.64" cy="71.44" r="2.55" fill="none" stroke="#009000" stroke-width="1.8"/>
<circle cx="185.76" cy="104.56" r="2.55" fill="none" stroke="#009000" stroke-width="1.8"/>
<circle cx="189.88" cy="83.32" r="2.55" fill="none" stroke="#009000" stroke-width="1.8"/>
<circle cx="193.99" cy="47.77" r="2.55" fill="none" stroke="#009000" stroke-width="1.8"/>
<circle cx="202.23" cy="79.94" r="2.55" fill="none" stroke="#009000" stroke-width="1.8"/>
<circle cx="206.35" cy="72.11" r="2.55" fill="none" stroke="#009000" stroke-width="1.8"/>
<circle cx="214.59" cy="76.56" r="2.55" fill="none" stroke="#009000" stroke-width="1.8"/>
<circle cx="218.71" cy="109.39" r="2.55" fill="none" stroke="#009000" stroke-width="1.8"/>
<circle cx="222.82" cy="77.13" r="2.55" fill="none" stroke="#009000" stroke-width="1.8"/>
<circle cx="226.94" cy="84.28" r="2.55" fill="none" stroke="#009000" stroke-width="1.8"/>
<circle cx="231.06" cy="70.08" r="2.55" fill="none" stroke="#009000" stroke-width="1.8"/>
<circle cx="235.18" cy="75.40" r="2.55" fill="none" stroke="#009000" stroke-width="1.8"/>
<circle cx="239.30" cy="67.48" r="2.55" fill="none" stroke="#009000" stroke-width="1.8"/>
<circle cx="243.42" cy="61.58" r="2.55" fill="none" stroke="#009000" stroke-width="1.8"/>
<circle cx="251.66" cy="77.52" r="2.55" fill="none" stroke="#009000" stroke-width="1.8"/>
<circle cx="255.77" cy="81.67" r="2.55" fill="none" stroke="#009000" stroke-width="1.8"/>
<circle cx="259.89" cy="96.45" r="2.55" fill="none" stroke="#009000" stroke-width="1.8"/>
<circle cx="264.01" cy="91.82" r="2.55" fill="none" stroke="#009000" stroke-width="1.8"/>
<circle cx="268.13" cy="67.86" r="2.55" fill="none" stroke="#009000" stroke-width="1.8"/>
<circle cx="276.37" cy="84.28" r="2.55" fill="none" stroke="#009000" stroke-width="1.8"/>
<circle cx="280.49" cy="99.35" r="2.55" fill="none" stroke="#009000" stroke-width="1.8"/>
<circle cx="284.61" cy="92.49" r="2.55" fill="none" stroke="#009000" stroke-width="1.8"/>
<circle cx="288.73" cy="79.45" r="2.55" fill="none" stroke="#009000" stroke-width="1.8"/>
<circle cx="296.96" cy="88.14" r="2.55" fill="none" stroke="#009000" stroke-width="1.8"/>
<circle cx="301.08" cy="79.55" r="2.55" fill="none" stroke="#009000" stroke-width="1.8"/>
<circle cx="305.20" cy="61.97" r="2.55" fill="none" stroke="#009000" stroke-width="1.8"/>
<circle cx="309.32" cy="61.58" r="2.55" fill="none" stroke="#009000" stroke-width="1.8"/>
<circle cx="313.44" cy="77.04" r="2.55" fill="none" stroke="#009000" stroke-width="1.8"/>
<circle cx="317.56" cy="74.33" r="2.55" fill="none" stroke="#009000" stroke-width="1.8"/>
<circle cx="321.68" cy="57.91" r="2.55" fill="none" stroke="#009000" stroke-width="1.8"/>
<circle cx="325.79" cy="35.12" r="2.55" fill="none" stroke="#009000" stroke-width="1.8"/>
<circle cx="329.91" cy="74.04" r="2.55" fill="none" stroke="#009000" stroke-width="1.8"/>
<circle cx="334.03" cy="69.50" r="2.55" fill="none" stroke="#009000" stroke-width="1.8"/>
<circle cx="338.15" cy="95.10" r="2.55" fill="none" stroke="#009000" stroke-width="1.8"/>
<circle cx="342.27" cy="88.82" r="2.55" fill="none" stroke="#009000" stroke-width="1.8"/>
<circle cx="346.39" cy="34.54" r="2.55" fill="none" stroke="#009000" stroke-width="1.8"/>
<circle cx="350.51" cy="51.06" r="2.55" fill="none" stroke="#009000" stroke-width="1.8"/>
<circle cx="358.74" cy="84.57" r="2.55" fill="none" stroke="#009000" stroke-width="1.8"/>
<circle cx="362.86" cy="76.56" r="2.55" fill="none" stroke="#009000" stroke-width="1.8"/>
<circle cx="366.98" cy="64.87" r="2.55" fill="none" stroke="#009000" stroke-width="1.8"/>
<circle cx="371.10" cy="85.25" r="2.55" fill="none" stroke="#009000" stroke-width="1.8"/>
<circle cx="379.34" cy="75.59" r="2.55" fill="none" stroke="#009000" stroke-width="1.8"/>
<circle cx="383.46" cy="89.59" r="2.55" fill="none" stroke="#009000" stroke-width="1.8"/>
<circle cx="387.57" cy="89.59" r="2.55" fill="none" stroke="#009000" stroke-width="1.8"/>
<circle cx="391.69" cy="76.65" r="2.55" fill="none" stroke="#009000" stroke-width="1.8"/>
<circle cx="395.81" cy="76.56" r="2.55" fill="none" stroke="#009000" stroke-width="1.8"/>
<circle cx="399.93" cy="76.65" r="2.55" fill="none" stroke="#009000" stroke-width="1.8"/>
<circle cx="404.05" cy="92.49" r="2.55" fill="none" stroke="#009000" stroke-width="1.8"/>
<circle cx="408.17" cy="77.33" r="2.55" fill="none" stroke="#009000" stroke-width="1.8"/>
<circle cx="412.29" cy="63.52" r="2.55" fill="none" stroke="#009000" stroke-width="1.8"/>
<circle cx="420.52" cy="79.55" r="2.55" fill="none" stroke="#009000" stroke-width="1.8"/>
<circle cx="424.64" cy="71.73" r="2.55" fill="none" stroke="#009000" stroke-width="1.8"/>
<circle cx="428.76" cy="63.52" r="2.55" fill="none" stroke="#009000" stroke-width="1.8"/>
<circle cx="432.88" cy="44.20" r="2.55" fill="none" stroke="#009000" stroke-width="1.8"/>
<rect x="51.96" y="75.04" width="4.0" height="4.0" fill="none" stroke="#0000ff" stroke-width="1.75"/>
<rect x="56.08" y="58.91" width="4.0" height="4.0" fill="none" stroke="#0000ff" stroke-width="1.75"/>
<rect x="60.19" y="68.76" width="4.0" height="4.0" fill="none" stroke="#0000ff" stroke-width="1.75"/>
<rect x="64.31" y="67.50" width="4.0" height="4.0" fill="none" stroke="#0000ff" stroke-width="1.75"/>
<rect x="68.43" y="62.19" width="4.0" height="4.0" fill="none" stroke="#0000ff" stroke-width="1.75"/>
<rect x="76.67" y="78.61" width="4.0" height="4.0" fill="none" stroke="#0000ff" stroke-width="1.75"/>
<rect x="80.79" y="61.03" width="4.0" height="4.0" fill="none" stroke="#0000ff" stroke-width="1.75"/>
<rect x="84.91" y="66.54" width="4.0" height="4.0" fill="none" stroke="#0000ff" stroke-width="1.75"/>
<rect x="89.02" y="87.11" width="4.0" height="4.0" fill="none" stroke="#0000ff" stroke-width="1.75"/>
<rect x="93.14" y="65.48" width="4.0" height="4.0" fill="none" stroke="#0000ff" stroke-width="1.75"/>
<rect x="97.26" y="76.39" width="4.0" height="4.0" fill="none" stroke="#0000ff" stroke-width="1.75"/>
<rect x="109.62" y="65.48" width="4.0" height="4.0" fill="none" stroke="#0000ff" stroke-width="1.75"/>
<rect x="113.74" y="63.16" width="4.0" height="4.0" fill="none" stroke="#0000ff" stroke-width="1.75"/>
<rect x="126.09" y="74.65" width="4.0" height="4.0" fill="none" stroke="#0000ff" stroke-width="1.75"/>
<rect x="130.21" y="76.00" width="4.0" height="4.0" fill="none" stroke="#0000ff" stroke-width="1.75"/>
<rect x="134.33" y="76.68" width="4.0" height="4.0" fill="none" stroke="#0000ff" stroke-width="1.75"/>
<rect x="138.45" y="79.38" width="4.0" height="4.0" fill="none" stroke="#0000ff" stroke-width="1.75"/>
<rect x="142.57" y="69.44" width="4.0" height="4.0" fill="none" stroke="#0000ff" stroke-width="1.75"/>
<rect x="146.69" y="69.15" width="4.0" height="4.0" fill="none" stroke="#0000ff" stroke-width="1.75"/>
<rect x="150.81" y="79.96" width="4.0" height="4.0" fill="none" stroke="#0000ff" stroke-width="1.75"/>
<rect x="154.92" y="81.90" width="4.0" height="4.0" fill="none" stroke="#0000ff" stroke-width="1.75"/>
<rect x="159.04" y="81.32" width="4.0" height="4.0" fill="none" stroke="#0000ff" stroke-width="1.75"/>
<rect x="163.16" y="77.94" width="4.0" height="4.0" fill="none" stroke="#0000ff" stroke-width="1.75"/>
<rect x="167.28" y="81.03" width="4.0" height="4.0" fill="none" stroke="#0000ff" stroke-width="1.75"/>
<rect x="171.40" y="79.38" width="4.0" height="4.0" fill="none" stroke="#0000ff" stroke-width="1.75"/>
<rect x="179.64" y="73.11" width="4.0" height="4.0" fill="none" stroke="#0000ff" stroke-width="1.75"/>
<rect x="183.76" y="87.88" width="4.0" height="4.0" fill="none" stroke="#0000ff" stroke-width="1.75"/>
<rect x="187.88" y="66.15" width="4.0" height="4.0" fill="none" stroke="#0000ff" stroke-width="1.75"/>
<rect x="191.99" y="51.66" width="4.0" height="4.0" fill="none" stroke="#0000ff" stroke-width="1.75"/>
<rect x="200.23" y="71.37" width="4.0" height="4.0" fill="none" stroke="#0000ff" stroke-width="1.75"/>
<rect x="204.35" y="64.12" width="4.0" height="4.0" fill="none" stroke="#0000ff" stroke-width="1.75"/>
<rect x="212.59" y="74.56" width="4.0" height="4.0" fill="none" stroke="#0000ff" stroke-width="1.75"/>
<rect x="216.71" y="82.86" width="4.0" height="4.0" fill="none" stroke="#0000ff" stroke-width="1.75"/>
<rect x="220.82" y="64.12" width="4.0" height="4.0" fill="none" stroke="#0000ff" stroke-width="1.75"/>
<rect x="224.94" y="78.90" width="4.0" height="4.0" fill="none" stroke="#0000ff" stroke-width="1.75"/>
<rect x="229.06" y="70.11" width="4.0" height="4.0" fill="none" stroke="#0000ff" stroke-width="1.75"/>
<rect x="233.18" y="83.25" width="4.0" height="4.0" fill="none" stroke="#0000ff" stroke-width="1.75"/>
<rect x="237.30" y="82.57" width="4.0" height="4.0" fill="none" stroke="#0000ff" stroke-width="1.75"/>
<rect x="241.42" y="67.50" width="4.0" height="4.0" fill="none" stroke="#0000ff" stroke-width="1.75"/>
<rect x="249.66" y="76.68" width="4.0" height="4.0" fill="none" stroke="#0000ff" stroke-width="1.75"/>
<rect x="253.77" y="69.15" width="4.0" height="4.0" fill="none" stroke="#0000ff" stroke-width="1.75"/>
<rect x="257.89" y="89.82" width="4.0" height="4.0" fill="none" stroke="#0000ff" stroke-width="1.75"/>
<rect x="262.01" y="84.60" width="4.0" height="4.0" fill="none" stroke="#0000ff" stroke-width="1.75"/>
<rect x="266.13" y="68.08" width="4.0" height="4.0" fill="none" stroke="#0000ff" stroke-width="1.75"/>
<rect x="274.37" y="83.25" width="4.0" height="4.0" fill="none" stroke="#0000ff" stroke-width="1.75"/>
<rect x="278.49" y="89.14" width="4.0" height="4.0" fill="none" stroke="#0000ff" stroke-width="1.75"/>
<rect x="282.61" y="85.18" width="4.0" height="4.0" fill="none" stroke="#0000ff" stroke-width="1.75"/>
<rect x="286.73" y="74.65" width="4.0" height="4.0" fill="none" stroke="#0000ff" stroke-width="1.75"/>
<rect x="294.96" y="86.53" width="4.0" height="4.0" fill="none" stroke="#0000ff" stroke-width="1.75"/>
<rect x="299.08" y="71.37" width="4.0" height="4.0" fill="none" stroke="#0000ff" stroke-width="1.75"/>
<rect x="303.20" y="74.65" width="4.0" height="4.0" fill="none" stroke="#0000ff" stroke-width="1.75"/>
<rect x="307.32" y="67.21" width="4.0" height="4.0" fill="none" stroke="#0000ff" stroke-width="1.75"/>
<rect x="311.44" y="80.25" width="4.0" height="4.0" fill="none" stroke="#0000ff" stroke-width="1.75"/>
<rect x="315.56" y="75.13" width="4.0" height="4.0" fill="none" stroke="#0000ff" stroke-width="1.75"/>
<rect x="319.68" y="61.23" width="4.0" height="4.0" fill="none" stroke="#0000ff" stroke-width="1.75"/>
<rect x="323.79" y="60.26" width="4.0" height="4.0" fill="none" stroke="#0000ff" stroke-width="1.75"/>
<rect x="327.91" y="66.15" width="4.0" height="4.0" fill="none" stroke="#0000ff" stroke-width="1.75"/>
<rect x="332.03" y="61.90" width="4.0" height="4.0" fill="none" stroke="#0000ff" stroke-width="1.75"/>
<rect x="336.15" y="84.21" width="4.0" height="4.0" fill="none" stroke="#0000ff" stroke-width="1.75"/>
<rect x="340.27" y="68.08" width="4.0" height="4.0" fill="none" stroke="#0000ff" stroke-width="1.75"/>
<rect x="344.39" y="47.61" width="4.0" height="4.0" fill="none" stroke="#0000ff" stroke-width="1.75"/>
<rect x="348.51" y="51.38" width="4.0" height="4.0" fill="none" stroke="#0000ff" stroke-width="1.75"/>
<rect x="356.74" y="84.99" width="4.0" height="4.0" fill="none" stroke="#0000ff" stroke-width="1.75"/>
<rect x="360.86" y="78.42" width="4.0" height="4.0" fill="none" stroke="#0000ff" stroke-width="1.75"/>
<rect x="364.98" y="71.17" width="4.0" height="4.0" fill="none" stroke="#0000ff" stroke-width="1.75"/>
<rect x="369.10" y="81.32" width="4.0" height="4.0" fill="none" stroke="#0000ff" stroke-width="1.75"/>
<rect x="377.34" y="76.00" width="4.0" height="4.0" fill="none" stroke="#0000ff" stroke-width="1.75"/>
<rect x="381.46" y="76.00" width="4.0" height="4.0" fill="none" stroke="#0000ff" stroke-width="1.75"/>
<rect x="385.57" y="83.25" width="4.0" height="4.0" fill="none" stroke="#0000ff" stroke-width="1.75"/>
<rect x="389.69" y="77.94" width="4.0" height="4.0" fill="none" stroke="#0000ff" stroke-width="1.75"/>
<rect x="393.81" y="77.55" width="4.0" height="4.0" fill="none" stroke="#0000ff" stroke-width="1.75"/>
<rect x="397.93" y="65.77" width="4.0" height="4.0" fill="none" stroke="#0000ff" stroke-width="1.75"/>
<rect x="402.05" y="79.38" width="4.0" height="4.0" fill="none" stroke="#0000ff" stroke-width="1.75"/>
<rect x="406.17" y="68.76" width="4.0" height="4.0" fill="none" stroke="#0000ff" stroke-width="1.75"/>
<rect x="410.29" y="66.83" width="4.0" height="4.0" fill="none" stroke="#0000ff" stroke-width="1.75"/>
<rect x="418.52" y="74.65" width="4.0" height="4.0" fill="none" stroke="#0000ff" stroke-width="1.75"/>
<rect x="422.64" y="70.11" width="4.0" height="4.0" fill="none" stroke="#0000ff" stroke-width="1.75"/>
<rect x="426.76" y="62.58" width="4.0" height="4.0" fill="none" stroke="#0000ff" stroke-width="1.75"/>
<rect x="430.88" y="47.70" width="4.0" height="4.0" fill="none" stroke="#0000ff" stroke-width="1.75"/>
<path d="M53.96,72.11l3.45,5.7h-6.9z M53.96,75.51l0.7,1.1h-1.4z" fill="#ff0000" fill-rule="evenodd"/>
<path d="M58.08,58.10l3.45,5.7h-6.9z M58.08,61.50l0.7,1.1h-1.4z" fill="#ff0000" fill-rule="evenodd"/>
<path d="M62.19,61.19l3.45,5.7h-6.9z M62.19,64.59l0.7,1.1h-1.4z" fill="#ff0000" fill-rule="evenodd"/>
<path d="M66.31,78.87l3.45,5.7h-6.9z M66.31,82.27l0.7,1.1h-1.4z" fill="#ff0000" fill-rule="evenodd"/>
<path d="M70.43,65.83l3.45,5.7h-6.9z M70.43,69.23l0.7,1.1h-1.4z" fill="#ff0000" fill-rule="evenodd"/>
<path d="M78.67,79.35l3.45,5.7h-6.9z M78.67,82.75l0.7,1.1h-1.4z" fill="#ff0000" fill-rule="evenodd"/>
<path d="M82.79,71.33l3.45,5.7h-6.9z M82.79,74.73l0.7,1.1h-1.4z" fill="#ff0000" fill-rule="evenodd"/>
<path d="M86.91,59.26l3.45,5.7h-6.9z M86.91,62.66l0.7,1.1h-1.4z" fill="#ff0000" fill-rule="evenodd"/>
<path d="M91.02,103.50l3.45,5.7h-6.9z M91.02,106.90l0.7,1.1h-1.4z" fill="#ff0000" fill-rule="evenodd"/>
<path d="M95.14,77.61l3.45,5.7h-6.9z M95.14,81.01l0.7,1.1h-1.4z" fill="#ff0000" fill-rule="evenodd"/>
<path d="M99.26,82.25l3.45,5.7h-6.9z M99.26,85.65l0.7,1.1h-1.4z" fill="#ff0000" fill-rule="evenodd"/>
<path d="M111.62,54.91l3.45,5.7h-6.9z M111.62,58.31l0.7,1.1h-1.4z" fill="#ff0000" fill-rule="evenodd"/>
<path d="M115.74,63.90l3.45,5.7h-6.9z M115.74,67.30l0.7,1.1h-1.4z" fill="#ff0000" fill-rule="evenodd"/>
<path d="M119.86,61.87l3.45,5.7h-6.9z M119.86,65.27l0.7,1.1h-1.4z" fill="#ff0000" fill-rule="evenodd"/>
<path d="M128.09,79.64l3.45,5.7h-6.9z M128.09,83.04l0.7,1.1h-1.4z" fill="#ff0000" fill-rule="evenodd"/>
<path d="M132.21,88.82l3.45,5.7h-6.9z M132.21,92.22l0.7,1.1h-1.4z" fill="#ff0000" fill-rule="evenodd"/>
<path d="M136.33,54.62l3.45,5.7h-6.9z M136.33,58.02l0.7,1.1h-1.4z" fill="#ff0000" fill-rule="evenodd"/>
<path d="M140.45,60.23l3.45,5.7h-6.9z M140.45,63.63l0.7,1.1h-1.4z" fill="#ff0000" fill-rule="evenodd"/>
<path d="M144.57,40.72l3.45,5.7h-6.9z M144.57,44.12l0.7,1.1h-1.4z" fill="#ff0000" fill-rule="evenodd"/>
<path d="M148.69,57.91l3.45,5.7h-6.9z M148.69,61.31l0.7,1.1h-1.4z" fill="#ff0000" fill-rule="evenodd"/>
<path d="M152.81,74.33l3.45,5.7h-6.9z M152.81,77.73l0.7,1.1h-1.4z" fill="#ff0000" fill-rule="evenodd"/>
<path d="M156.92,83.99l3.45,5.7h-6.9z M156.92,87.39l0.7,1.1h-1.4z" fill="#ff0000" fill-rule="evenodd"/>
<path d="M161.04,75.00l3.45,5.7h-6.9z M161.04,78.40l0.7,1.1h-1.4z" fill="#ff0000" fill-rule="evenodd"/>
<path d="M165.16,71.72l3.45,5.7h-6.9z M165.16,75.12l0.7,1.1h-1.4z" fill="#ff0000" fill-rule="evenodd"/>
<path d="M169.28,77.61l3.45,5.7h-6.9z M169.28,81.01l0.7,1.1h-1.4z" fill="#ff0000" fill-rule="evenodd"/>
<path d="M173.40,75.00l3.45,5.7h-6.9z M173.40,78.40l0.7,1.1h-1.4z" fill="#ff0000" fill-rule="evenodd"/>
<path d="M181.64,70.37l3.45,5.7h-6.9z M181.64,73.77l0.7,1.1h-1.4z" fill="#ff0000" fill-rule="evenodd"/>
<path d="M185.76,100.02l3.45,5.7h-6.9z M185.76,103.42l0.7,1.1h-1.4z" fill="#ff0000" fill-rule="evenodd"/>
<path d="M189.88,76.94l3.45,5.7h-6.9z M189.88,80.34l0.7,1.1h-1.4z" fill="#ff0000" fill-rule="evenodd"/>
<path d="M193.99,46.03l3.45,5.7h-6.9z M193.99,49.43l0.7,1.1h-1.4z" fill="#ff0000" fill-rule="evenodd"/>
<path d="M202.23,76.36l3.45,5.7h-6.9z M202.23,79.76l0.7,1.1h-1.4z" fill="#ff0000" fill-rule="evenodd"/>
<path d="M206.35,68.44l3.45,5.7h-6.9z M206.35,71.84l0.7,1.1h-1.4z" fill="#ff0000" fill-rule="evenodd"/>
<path d="M214.59,71.04l3.45,5.7h-6.9z M214.59,74.44l0.7,1.1h-1.4z" fill="#ff0000" fill-rule="evenodd"/>
<path d="M218.71,105.43l3.45,5.7h-6.9z M218.71,108.83l0.7,1.1h-1.4z" fill="#ff0000" fill-rule="evenodd"/>
<path d="M222.82,76.55l3.45,5.7h-6.9z M222.82,79.95l0.7,1.1h-1.4z" fill="#ff0000" fill-rule="evenodd"/>
<path d="M226.94,88.82l3.45,5.7h-6.9z M226.94,92.22l0.7,1.1h-1.4z" fill="#ff0000" fill-rule="evenodd"/>
<path d="M231.06,76.94l3.45,5.7h-6.9z M231.06,80.34l0.7,1.1h-1.4z" fill="#ff0000" fill-rule="evenodd"/>
<path d="M235.18,71.72l3.45,5.7h-6.9z M235.18,75.12l0.7,1.1h-1.4z" fill="#ff0000" fill-rule="evenodd"/>
<path d="M239.30,60.52l3.45,5.7h-6.9z M239.30,63.92l0.7,1.1h-1.4z" fill="#ff0000" fill-rule="evenodd"/>
<path d="M243.42,59.26l3.45,5.7h-6.9z M243.42,62.66l0.7,1.1h-1.4z" fill="#ff0000" fill-rule="evenodd"/>
<path d="M251.66,73.65l3.45,5.7h-6.9z M251.66,77.05l0.7,1.1h-1.4z" fill="#ff0000" fill-rule="evenodd"/>
<path d="M255.77,78.96l3.45,5.7h-6.9z M255.77,82.36l0.7,1.1h-1.4z" fill="#ff0000" fill-rule="evenodd"/>
<path d="M259.89,96.06l3.45,5.7h-6.9z M259.89,99.46l0.7,1.1h-1.4z" fill="#ff0000" fill-rule="evenodd"/>
<path d="M264.01,88.04l3.45,5.7h-6.9z M264.01,91.44l0.7,1.1h-1.4z" fill="#ff0000" fill-rule="evenodd"/>
<path d="M268.13,61.87l3.45,5.7h-6.9z M268.13,65.27l0.7,1.1h-1.4z" fill="#ff0000" fill-rule="evenodd"/>
<path d="M276.37,81.57l3.45,5.7h-6.9z M276.37,84.97l0.7,1.1h-1.4z" fill="#ff0000" fill-rule="evenodd"/>
<path d="M280.49,96.35l3.45,5.7h-6.9z M280.49,99.75l0.7,1.1h-1.4z" fill="#ff0000" fill-rule="evenodd"/>
<path d="M284.61,88.04l3.45,5.7h-6.9z M284.61,91.44l0.7,1.1h-1.4z" fill="#ff0000" fill-rule="evenodd"/>
<path d="M288.73,76.36l3.45,5.7h-6.9z M288.73,79.76l0.7,1.1h-1.4z" fill="#ff0000" fill-rule="evenodd"/>
<path d="M296.96,81.28l3.45,5.7h-6.9z M296.96,84.68l0.7,1.1h-1.4z" fill="#ff0000" fill-rule="evenodd"/>
<path d="M301.08,76.55l3.45,5.7h-6.9z M301.08,79.95l0.7,1.1h-1.4z" fill="#ff0000" fill-rule="evenodd"/>
<path d="M305.20,58.58l3.45,5.7h-6.9z M305.20,61.98l0.7,1.1h-1.4z" fill="#ff0000" fill-rule="evenodd"/>
<path d="M309.32,57.62l3.45,5.7h-6.9z M309.32,61.02l0.7,1.1h-1.4z" fill="#ff0000" fill-rule="evenodd"/>
<path d="M313.44,73.46l3.45,5.7h-6.9z M313.44,76.86l0.7,1.1h-1.4z" fill="#ff0000" fill-rule="evenodd"/>
<path d="M317.56,73.56l3.45,5.7h-6.9z M317.56,76.96l0.7,1.1h-1.4z" fill="#ff0000" fill-rule="evenodd"/>
<path d="M321.68,54.24l3.45,5.7h-6.9z M321.68,57.64l0.7,1.1h-1.4z" fill="#ff0000" fill-rule="evenodd"/>
<path d="M325.79,40.43l3.45,5.7h-6.9z M325.79,43.83l0.7,1.1h-1.4z" fill="#ff0000" fill-rule="evenodd"/>
<path d="M329.91,69.11l3.45,5.7h-6.9z M329.91,72.51l0.7,1.1h-1.4z" fill="#ff0000" fill-rule="evenodd"/>
<path d="M334.03,67.08l3.45,5.7h-6.9z M334.03,70.48l0.7,1.1h-1.4z" fill="#ff0000" fill-rule="evenodd"/>
<path d="M338.15,91.04l3.45,5.7h-6.9z M338.15,94.44l0.7,1.1h-1.4z" fill="#ff0000" fill-rule="evenodd"/>
<path d="M342.27,79.64l3.45,5.7h-6.9z M342.27,83.04l0.7,1.1h-1.4z" fill="#ff0000" fill-rule="evenodd"/>
<path d="M346.39,22.37l3.45,5.7h-6.9z M346.39,25.77l0.7,1.1h-1.4z" fill="#ff0000" fill-rule="evenodd"/>
<path d="M350.51,47.86l3.45,5.7h-6.9z M350.51,51.26l0.7,1.1h-1.4z" fill="#ff0000" fill-rule="evenodd"/>
<path d="M358.74,81.57l3.45,5.7h-6.9z M358.74,84.97l0.7,1.1h-1.4z" fill="#ff0000" fill-rule="evenodd"/>
<path d="M362.86,74.52l3.45,5.7h-6.9z M362.86,77.92l0.7,1.1h-1.4z" fill="#ff0000" fill-rule="evenodd"/>
<path d="M366.98,58.97l3.45,5.7h-6.9z M366.98,62.37l0.7,1.1h-1.4z" fill="#ff0000" fill-rule="evenodd"/>
<path d="M371.10,81.57l3.45,5.7h-6.9z M371.10,84.97l0.7,1.1h-1.4z" fill="#ff0000" fill-rule="evenodd"/>
<path d="M379.34,71.72l3.45,5.7h-6.9z M379.34,75.12l0.7,1.1h-1.4z" fill="#ff0000" fill-rule="evenodd"/>
<path d="M383.46,83.99l3.45,5.7h-6.9z M383.46,87.39l0.7,1.1h-1.4z" fill="#ff0000" fill-rule="evenodd"/>
<path d="M387.57,86.21l3.45,5.7h-6.9z M387.57,89.61l0.7,1.1h-1.4z" fill="#ff0000" fill-rule="evenodd"/>
<path d="M391.69,74.33l3.45,5.7h-6.9z M391.69,77.73l0.7,1.1h-1.4z" fill="#ff0000" fill-rule="evenodd"/>
<path d="M395.81,72.40l3.45,5.7h-6.9z M395.81,75.80l0.7,1.1h-1.4z" fill="#ff0000" fill-rule="evenodd"/>
<path d="M399.93,72.11l3.45,5.7h-6.9z M399.93,75.51l0.7,1.1h-1.4z" fill="#ff0000" fill-rule="evenodd"/>
<path d="M404.05,86.88l3.45,5.7h-6.9z M404.05,90.28l0.7,1.1h-1.4z" fill="#ff0000" fill-rule="evenodd"/>
<path d="M408.17,74.71l3.45,5.7h-6.9z M408.17,78.11l0.7,1.1h-1.4z" fill="#ff0000" fill-rule="evenodd"/>
<path d="M412.29,61.19l3.45,5.7h-6.9z M412.29,64.59l0.7,1.1h-1.4z" fill="#ff0000" fill-rule="evenodd"/>
<path d="M420.52,76.45l3.45,5.7h-6.9z M420.52,79.85l0.7,1.1h-1.4z" fill="#ff0000" fill-rule="evenodd"/>
<path d="M424.64,67.76l3.45,5.7h-6.9z M424.64,71.16l0.7,1.1h-1.4z" fill="#ff0000" fill-rule="evenodd"/>
<path d="M428.76,62.54l3.45,5.7h-6.9z M428.76,65.94l0.7,1.1h-1.4z" fill="#ff0000" fill-rule="evenodd"/>
<path d="M432.88,41.68l3.45,5.7h-6.9z M432.88,45.08l0.7,1.1h-1.4z" fill="#ff0000" fill-rule="evenodd"/>
<path d="M53.96,73.80l2.7,2.95l-2.7,2.95l-2.7,-2.95z M53.96,75.95l0.75,0.8l-0.75,0.8l-0.75,-0.8z" fill="#00ffff" fill-rule="evenodd"/>
<path d="M58.08,57.96l2.7,2.95l-2.7,2.95l-2.7,-2.95z M58.08,60.11l0.75,0.8l-0.75,0.8l-0.75,-0.8z" fill="#00ffff" fill-rule="evenodd"/>
<path d="M62.19,65.20l2.7,2.95l-2.7,2.95l-2.7,-2.95z M62.19,67.35l0.75,0.8l-0.75,0.8l-0.75,-0.8z" fill="#00ffff" fill-rule="evenodd"/>
<path d="M66.31,67.13l2.7,2.95l-2.7,2.95l-2.7,-2.95z M66.31,69.28l0.75,0.8l-0.75,0.8l-0.75,-0.8z" fill="#00ffff" fill-rule="evenodd"/>
<path d="M70.43,61.53l2.7,2.95l-2.7,2.95l-2.7,-2.95z M70.43,63.68l0.75,0.8l-0.75,0.8l-0.75,-0.8z" fill="#00ffff" fill-rule="evenodd"/>
<path d="M78.67,80.37l2.7,2.95l-2.7,2.95l-2.7,-2.95z M78.67,82.52l0.75,0.8l-0.75,0.8l-0.75,-0.8z" fill="#00ffff" fill-rule="evenodd"/>
<path d="M82.79,64.91l2.7,2.95l-2.7,2.95l-2.7,-2.95z M82.79,67.06l0.75,0.8l-0.75,0.8l-0.75,-0.8z" fill="#00ffff" fill-rule="evenodd"/>
<path d="M86.91,73.32l2.7,2.95l-2.7,2.95l-2.7,-2.95z M86.91,75.47l0.75,0.8l-0.75,0.8l-0.75,-0.8z" fill="#00ffff" fill-rule="evenodd"/>
<path d="M91.02,86.93l2.7,2.95l-2.7,2.95l-2.7,-2.95z M91.02,89.08l0.75,0.8l-0.75,0.8l-0.75,-0.8z" fill="#00ffff" fill-rule="evenodd"/>
<path d="M95.14,66.55l2.7,2.95l-2.7,2.95l-2.7,-2.95z M95.14,68.70l0.75,0.8l-0.75,0.8l-0.75,-0.8z" fill="#00ffff" fill-rule="evenodd"/>
<path d="M99.26,81.62l2.7,2.95l-2.7,2.95l-2.7,-2.95z M99.26,83.77l0.75,0.8l-0.75,0.8l-0.75,-0.8z" fill="#00ffff" fill-rule="evenodd"/>
<path d="M111.62,65.20l2.7,2.95l-2.7,2.95l-2.7,-2.95z M111.62,67.35l0.75,0.8l-0.75,0.8l-0.75,-0.8z" fill="#00ffff" fill-rule="evenodd"/>
<path d="M115.74,65.20l2.7,2.95l-2.7,2.95l-2.7,-2.95z M115.74,67.35l0.75,0.8l-0.75,0.8l-0.75,-0.8z" fill="#00ffff" fill-rule="evenodd"/>
<path d="M119.86,66.55l2.7,2.95l-2.7,2.95l-2.7,-2.95z M119.86,68.70l0.75,0.8l-0.75,0.8l-0.75,-0.8z" fill="#00ffff" fill-rule="evenodd"/>
<path d="M128.09,75.05l2.7,2.95l-2.7,2.95l-2.7,-2.95z M128.09,77.20l0.75,0.8l-0.75,0.8l-0.75,-0.8z" fill="#00ffff" fill-rule="evenodd"/>
<path d="M132.21,82.30l2.7,2.95l-2.7,2.95l-2.7,-2.95z M132.21,84.45l0.75,0.8l-0.75,0.8l-0.75,-0.8z" fill="#00ffff" fill-rule="evenodd"/>
<path d="M136.33,71.77l2.7,2.95l-2.7,2.95l-2.7,-2.95z M136.33,73.92l0.75,0.8l-0.75,0.8l-0.75,-0.8z" fill="#00ffff" fill-rule="evenodd"/>
<path d="M140.45,75.05l2.7,2.95l-2.7,2.95l-2.7,-2.95z M140.45,77.20l0.75,0.8l-0.75,0.8l-0.75,-0.8z" fill="#00ffff" fill-rule="evenodd"/>
<path d="M144.57,61.63l2.7,2.95l-2.7,2.95l-2.7,-2.95z M144.57,63.78l0.75,0.8l-0.75,0.8l-0.75,-0.8z" fill="#00ffff" fill-rule="evenodd"/>
<path d="M148.69,67.13l2.7,2.95l-2.7,2.95l-2.7,-2.95z M148.69,69.28l0.75,0.8l-0.75,0.8l-0.75,-0.8z" fill="#00ffff" fill-rule="evenodd"/>
<path d="M152.81,77.66l2.7,2.95l-2.7,2.95l-2.7,-2.95z M152.81,79.81l0.75,0.8l-0.75,0.8l-0.75,-0.8z" fill="#00ffff" fill-rule="evenodd"/>
<path d="M156.92,80.37l2.7,2.95l-2.7,2.95l-2.7,-2.95z M156.92,82.52l0.75,0.8l-0.75,0.8l-0.75,-0.8z" fill="#00ffff" fill-rule="evenodd"/>
<path d="M161.04,80.08l2.7,2.95l-2.7,2.95l-2.7,-2.95z M161.04,82.23l0.75,0.8l-0.75,0.8l-0.75,-0.8z" fill="#00ffff" fill-rule="evenodd"/>
<path d="M165.16,76.60l2.7,2.95l-2.7,2.95l-2.7,-2.95z M165.16,78.75l0.75,0.8l-0.75,0.8l-0.75,-0.8z" fill="#00ffff" fill-rule="evenodd"/>
<path d="M169.28,80.08l2.7,2.95l-2.7,2.95l-2.7,-2.95z M169.28,82.23l0.75,0.8l-0.75,0.8l-0.75,-0.8z" fill="#00ffff" fill-rule="evenodd"/>
<path d="M173.40,79.01l2.7,2.95l-2.7,2.95l-2.7,-2.95z M173.40,81.16l0.75,0.8l-0.75,0.8l-0.75,-0.8z" fill="#00ffff" fill-rule="evenodd"/>
<path d="M181.64,72.64l2.7,2.95l-2.7,2.95l-2.7,-2.95z M181.64,74.79l0.75,0.8l-0.75,0.8l-0.75,-0.8z" fill="#00ffff" fill-rule="evenodd"/>
<path d="M185.76,93.50l2.7,2.95l-2.7,2.95l-2.7,-2.95z M185.76,95.65l0.75,0.8l-0.75,0.8l-0.75,-0.8z" fill="#00ffff" fill-rule="evenodd"/>
<path d="M189.88,69.16l2.7,2.95l-2.7,2.95l-2.7,-2.95z M189.88,71.31l0.75,0.8l-0.75,0.8l-0.75,-0.8z" fill="#00ffff" fill-rule="evenodd"/>
<path d="M193.99,54.67l2.7,2.95l-2.7,2.95l-2.7,-2.95z M193.99,56.82l0.75,0.8l-0.75,0.8l-0.75,-0.8z" fill="#00ffff" fill-rule="evenodd"/>
<path d="M202.23,73.51l2.7,2.95l-2.7,2.95l-2.7,-2.95z M202.23,75.66l0.75,0.8l-0.75,0.8l-0.75,-0.8z" fill="#00ffff" fill-rule="evenodd"/>
<path d="M206.35,62.59l2.7,2.95l-2.7,2.95l-2.7,-2.95z M206.35,64.74l0.75,0.8l-0.75,0.8l-0.75,-0.8z" fill="#00ffff" fill-rule="evenodd"/>
<path d="M214.59,74.38l2.7,2.95l-2.7,2.95l-2.7,-2.95z M214.59,76.53l0.75,0.8l-0.75,0.8l-0.75,-0.8z" fill="#00ffff" fill-rule="evenodd"/>
<path d="M218.71,88.48l2.7,2.95l-2.7,2.95l-2.7,-2.95z M218.71,90.63l0.75,0.8l-0.75,0.8l-0.75,-0.8z" fill="#00ffff" fill-rule="evenodd"/>
<path d="M222.82,64.82l2.7,2.95l-2.7,2.95l-2.7,-2.95z M222.82,66.97l0.75,0.8l-0.75,0.8l-0.75,-0.8z" fill="#00ffff" fill-rule="evenodd"/>
<path d="M226.94,87.51l2.7,2.95l-2.7,2.95l-2.7,-2.95z M226.94,89.66l0.75,0.8l-0.75,0.8l-0.75,-0.8z" fill="#00ffff" fill-rule="evenodd"/>
<path d="M231.06,71.77l2.7,2.95l-2.7,2.95l-2.7,-2.95z M231.06,73.92l0.75,0.8l-0.75,0.8l-0.75,-0.8z" fill="#00ffff" fill-rule="evenodd"/>
<path d="M235.18,81.62l2.7,2.95l-2.7,2.95l-2.7,-2.95z M235.18,83.77l0.75,0.8l-0.75,0.8l-0.75,-0.8z" fill="#00ffff" fill-rule="evenodd"/>
<path d="M239.30,81.33l2.7,2.95l-2.7,2.95l-2.7,-2.95z M239.30,83.48l0.75,0.8l-0.75,0.8l-0.75,-0.8z" fill="#00ffff" fill-rule="evenodd"/>
<path d="M243.42,69.16l2.7,2.95l-2.7,2.95l-2.7,-2.95z M243.42,71.31l0.75,0.8l-0.75,0.8l-0.75,-0.8z" fill="#00ffff" fill-rule="evenodd"/>
<path d="M251.66,73.51l2.7,2.95l-2.7,2.95l-2.7,-2.95z M251.66,75.66l0.75,0.8l-0.75,0.8l-0.75,-0.8z" fill="#00ffff" fill-rule="evenodd"/>
<path d="M255.77,68.20l2.7,2.95l-2.7,2.95l-2.7,-2.95z M255.77,70.35l0.75,0.8l-0.75,0.8l-0.75,-0.8z" fill="#00ffff" fill-rule="evenodd"/>
<path d="M259.89,94.18l2.7,2.95l-2.7,2.95l-2.7,-2.95z M259.89,96.33l0.75,0.8l-0.75,0.8l-0.75,-0.8z" fill="#00ffff" fill-rule="evenodd"/>
<path d="M264.01,86.93l2.7,2.95l-2.7,2.95l-2.7,-2.95z M264.01,89.08l0.75,0.8l-0.75,0.8l-0.75,-0.8z" fill="#00ffff" fill-rule="evenodd"/>
<path d="M268.13,66.94l2.7,2.95l-2.7,2.95l-2.7,-2.95z M268.13,69.09l0.75,0.8l-0.75,0.8l-0.75,-0.8z" fill="#00ffff" fill-rule="evenodd"/>
<path d="M276.37,78.43l2.7,2.95l-2.7,2.95l-2.7,-2.95z M276.37,80.58l0.75,0.8l-0.75,0.8l-0.75,-0.8z" fill="#00ffff" fill-rule="evenodd"/>
<path d="M280.49,86.26l2.7,2.95l-2.7,2.95l-2.7,-2.95z M280.49,88.41l0.75,0.8l-0.75,0.8l-0.75,-0.8z" fill="#00ffff" fill-rule="evenodd"/>
<path d="M284.61,87.51l2.7,2.95l-2.7,2.95l-2.7,-2.95z M284.61,89.66l0.75,0.8l-0.75,0.8l-0.75,-0.8z" fill="#00ffff" fill-rule="evenodd"/>
<path d="M288.73,73.12l2.7,2.95l-2.7,2.95l-2.7,-2.95z M288.73,75.27l0.75,0.8l-0.75,0.8l-0.75,-0.8z" fill="#00ffff" fill-rule="evenodd"/>
<path d="M296.96,76.60l2.7,2.95l-2.7,2.95l-2.7,-2.95z M296.96,78.75l0.75,0.8l-0.75,0.8l-0.75,-0.8z" fill="#00ffff" fill-rule="evenodd"/>
<path d="M301.08,63.17l2.7,2.95l-2.7,2.95l-2.7,-2.95z M301.08,65.32l0.75,0.8l-0.75,0.8l-0.75,-0.8z" fill="#00ffff" fill-rule="evenodd"/>
<path d="M305.20,65.88l2.7,2.95l-2.7,2.95l-2.7,-2.95z M305.20,68.03l0.75,0.8l-0.75,0.8l-0.75,-0.8z" fill="#00ffff" fill-rule="evenodd"/>
<path d="M309.32,66.26l2.7,2.95l-2.7,2.95l-2.7,-2.95z M309.32,68.41l0.75,0.8l-0.75,0.8l-0.75,-0.8z" fill="#00ffff" fill-rule="evenodd"/>
<path d="M313.44,78.43l2.7,2.95l-2.7,2.95l-2.7,-2.95z M313.44,80.58l0.75,0.8l-0.75,0.8l-0.75,-0.8z" fill="#00ffff" fill-rule="evenodd"/>
<path d="M317.56,72.16l2.7,2.95l-2.7,2.95l-2.7,-2.95z M317.56,74.31l0.75,0.8l-0.75,0.8l-0.75,-0.8z" fill="#00ffff" fill-rule="evenodd"/>
<path d="M321.68,66.55l2.7,2.95l-2.7,2.95l-2.7,-2.95z M321.68,68.70l0.75,0.8l-0.75,0.8l-0.75,-0.8z" fill="#00ffff" fill-rule="evenodd"/>
<path d="M325.79,60.57l2.7,2.95l-2.7,2.95l-2.7,-2.95z M325.79,62.72l0.75,0.8l-0.75,0.8l-0.75,-0.8z" fill="#00ffff" fill-rule="evenodd"/>
<path d="M329.91,63.17l2.7,2.95l-2.7,2.95l-2.7,-2.95z M329.91,65.32l0.75,0.8l-0.75,0.8l-0.75,-0.8z" fill="#00ffff" fill-rule="evenodd"/>
<path d="M334.03,59.89l2.7,2.95l-2.7,2.95l-2.7,-2.95z M334.03,62.04l0.75,0.8l-0.75,0.8l-0.75,-0.8z" fill="#00ffff" fill-rule="evenodd"/>
<path d="M338.15,73.12l2.7,2.95l-2.7,2.95l-2.7,-2.95z M338.15,75.27l0.75,0.8l-0.75,0.8l-0.75,-0.8z" fill="#00ffff" fill-rule="evenodd"/>
<path d="M342.27,66.55l2.7,2.95l-2.7,2.95l-2.7,-2.95z M342.27,68.70l0.75,0.8l-0.75,0.8l-0.75,-0.8z" fill="#00ffff" fill-rule="evenodd"/>
<path d="M346.39,47.53l2.7,2.95l-2.7,2.95l-2.7,-2.95z M346.39,49.68l0.75,0.8l-0.75,0.8l-0.75,-0.8z" fill="#00ffff" fill-rule="evenodd"/>
<path d="M350.51,52.55l2.7,2.95l-2.7,2.95l-2.7,-2.95z M350.51,54.70l0.75,0.8l-0.75,0.8l-0.75,-0.8z" fill="#00ffff" fill-rule="evenodd"/>
<path d="M358.74,75.73l2.7,2.95l-2.7,2.95l-2.7,-2.95z M358.74,77.88l0.75,0.8l-0.75,0.8l-0.75,-0.8z" fill="#00ffff" fill-rule="evenodd"/>
<path d="M362.86,72.16l2.7,2.95l-2.7,2.95l-2.7,-2.95z M362.86,74.31l0.75,0.8l-0.75,0.8l-0.75,-0.8z" fill="#00ffff" fill-rule="evenodd"/>
<path d="M366.98,63.17l2.7,2.95l-2.7,2.95l-2.7,-2.95z M366.98,65.32l0.75,0.8l-0.75,0.8l-0.75,-0.8z" fill="#00ffff" fill-rule="evenodd"/>
<path d="M371.10,79.69l2.7,2.95l-2.7,2.95l-2.7,-2.95z M371.10,81.84l0.75,0.8l-0.75,0.8l-0.75,-0.8z" fill="#00ffff" fill-rule="evenodd"/>
<path d="M379.34,75.73l2.7,2.95l-2.7,2.95l-2.7,-2.95z M379.34,77.88l0.75,0.8l-0.75,0.8l-0.75,-0.8z" fill="#00ffff" fill-rule="evenodd"/>
<path d="M383.46,72.45l2.7,2.95l-2.7,2.95l-2.7,-2.95z M383.46,74.60l0.75,0.8l-0.75,0.8l-0.75,-0.8z" fill="#00ffff" fill-rule="evenodd"/>
<path d="M387.57,81.33l2.7,2.95l-2.7,2.95l-2.7,-2.95z M387.57,83.48l0.75,0.8l-0.75,0.8l-0.75,-0.8z" fill="#00ffff" fill-rule="evenodd"/>
<path d="M391.69,76.60l2.7,2.95l-2.7,2.95l-2.7,-2.95z M391.69,78.75l0.75,0.8l-0.75,0.8l-0.75,-0.8z" fill="#00ffff" fill-rule="evenodd"/>
<path d="M395.81,76.12l2.7,2.95l-2.7,2.95l-2.7,-2.95z M395.81,78.27l0.75,0.8l-0.75,0.8l-0.75,-0.8z" fill="#00ffff" fill-rule="evenodd"/>
<path d="M399.93,65.20l2.7,2.95l-2.7,2.95l-2.7,-2.95z M399.93,67.35l0.75,0.8l-0.75,0.8l-0.75,-0.8z" fill="#00ffff" fill-rule="evenodd"/>
<path d="M404.05,79.69l2.7,2.95l-2.7,2.95l-2.7,-2.95z M404.05,81.84l0.75,0.8l-0.75,0.8l-0.75,-0.8z" fill="#00ffff" fill-rule="evenodd"/>
<path d="M408.17,68.49l2.7,2.95l-2.7,2.95l-2.7,-2.95z M408.17,70.64l0.75,0.8l-0.75,0.8l-0.75,-0.8z" fill="#00ffff" fill-rule="evenodd"/>
<path d="M412.29,65.88l2.7,2.95l-2.7,2.95l-2.7,-2.95z M412.29,68.03l0.75,0.8l-0.75,0.8l-0.75,-0.8z" fill="#00ffff" fill-rule="evenodd"/>
<path d="M420.52,75.73l2.7,2.95l-2.7,2.95l-2.7,-2.95z M420.52,77.88l0.75,0.8l-0.75,0.8l-0.75,-0.8z" fill="#00ffff" fill-rule="evenodd"/>
<path d="M424.64,67.13l2.7,2.95l-2.7,2.95l-2.7,-2.95z M424.64,69.28l0.75,0.8l-0.75,0.8l-0.75,-0.8z" fill="#00ffff" fill-rule="evenodd"/>
<path d="M428.76,61.63l2.7,2.95l-2.7,2.95l-2.7,-2.95z M428.76,63.78l0.75,0.8l-0.75,0.8l-0.75,-0.8z" fill="#00ffff" fill-rule="evenodd"/>
<path d="M432.88,51.10l2.7,2.95l-2.7,2.95l-2.7,-2.95z M432.88,53.25l0.75,0.8l-0.75,0.8l-0.75,-0.8z" fill="#00ffff" fill-rule="evenodd"/>
<line x1="54.55" y1="181.96" x2="54.55" y2="224.75" stroke="#b98a8a" stroke-width="1.9"/>
<line x1="58.67" y1="181.96" x2="58.67" y2="224.75" stroke="#b98a8a" stroke-width="1.9"/>
<line x1="62.78" y1="181.96" x2="62.78" y2="224.75" stroke="#b98a8a" stroke-width="1.9"/>
<line x1="66.90" y1="181.96" x2="66.90" y2="224.75" stroke="#b98a8a" stroke-width="1.9"/>
<line x1="71.02" y1="181.96" x2="71.02" y2="255.19" stroke="#b98a8a" stroke-width="1.9"/>
<line x1="75.13" y1="181.96" x2="75.13" y2="224.75" stroke="#b98a8a" stroke-width="1.9"/>
<line x1="79.25" y1="181.96" x2="79.25" y2="224.75" stroke="#b98a8a" stroke-width="1.9"/>
<line x1="83.37" y1="181.96" x2="83.37" y2="224.75" stroke="#b98a8a" stroke-width="1.9"/>
<line x1="87.48" y1="181.96" x2="87.48" y2="224.75" stroke="#b98a8a" stroke-width="1.9"/>
<line x1="91.60" y1="181.96" x2="91.60" y2="224.75" stroke="#b98a8a" stroke-width="1.9"/>
<line x1="95.72" y1="181.96" x2="95.72" y2="224.75" stroke="#b98a8a" stroke-width="1.9"/>
<line x1="99.83" y1="181.96" x2="99.83" y2="224.75" stroke="#b98a8a" stroke-width="1.9"/>
<line x1="108.07" y1="181.96" x2="108.07" y2="224.75" stroke="#b98a8a" stroke-width="1.9"/>
<line x1="112.18" y1="181.96" x2="112.18" y2="224.75" stroke="#b98a8a" stroke-width="1.9"/>
<line x1="116.30" y1="181.96" x2="116.30" y2="224.75" stroke="#b98a8a" stroke-width="1.9"/>
<line x1="120.42" y1="181.96" x2="120.42" y2="258.65" stroke="#b98a8a" stroke-width="1.9"/>
<line x1="124.53" y1="181.96" x2="124.53" y2="224.75" stroke="#b98a8a" stroke-width="1.9"/>
<line x1="128.65" y1="181.96" x2="128.65" y2="224.75" stroke="#b98a8a" stroke-width="1.9"/>
<line x1="132.77" y1="181.96" x2="132.77" y2="223.92" stroke="#b98a8a" stroke-width="1.9"/>
<line x1="136.88" y1="181.96" x2="136.88" y2="229.68" stroke="#b98a8a" stroke-width="1.9"/>
<line x1="141.00" y1="181.96" x2="141.00" y2="224.75" stroke="#b98a8a" stroke-width="1.9"/>
<line x1="145.12" y1="181.96" x2="145.12" y2="237.58" stroke="#b98a8a" stroke-width="1.9"/>
<line x1="149.23" y1="181.96" x2="149.23" y2="224.75" stroke="#b98a8a" stroke-width="1.9"/>
<line x1="153.35" y1="181.96" x2="153.35" y2="224.75" stroke="#b98a8a" stroke-width="1.9"/>
<line x1="157.47" y1="181.96" x2="157.47" y2="224.75" stroke="#b98a8a" stroke-width="1.9"/>
<line x1="161.58" y1="181.96" x2="161.58" y2="224.75" stroke="#b98a8a" stroke-width="1.9"/>
<line x1="165.70" y1="181.96" x2="165.70" y2="224.75" stroke="#b98a8a" stroke-width="1.9"/>
<line x1="169.82" y1="181.96" x2="169.82" y2="224.75" stroke="#b98a8a" stroke-width="1.9"/>
<line x1="173.93" y1="181.96" x2="173.93" y2="258.65" stroke="#b98a8a" stroke-width="1.9"/>
<line x1="178.05" y1="181.96" x2="178.05" y2="224.75" stroke="#b98a8a" stroke-width="1.9"/>
<line x1="182.17" y1="181.96" x2="182.17" y2="224.75" stroke="#b98a8a" stroke-width="1.9"/>
<line x1="186.28" y1="181.96" x2="186.28" y2="224.75" stroke="#b98a8a" stroke-width="1.9"/>
<line x1="190.40" y1="181.96" x2="190.40" y2="224.75" stroke="#b98a8a" stroke-width="1.9"/>
<line x1="194.52" y1="181.96" x2="194.52" y2="256.01" stroke="#b98a8a" stroke-width="1.9"/>
<line x1="198.63" y1="181.96" x2="198.63" y2="224.75" stroke="#b98a8a" stroke-width="1.9"/>
<line x1="202.75" y1="181.96" x2="202.75" y2="224.75" stroke="#b98a8a" stroke-width="1.9"/>
<line x1="206.87" y1="181.96" x2="206.87" y2="256.01" stroke="#b98a8a" stroke-width="1.9"/>
<line x1="210.98" y1="181.96" x2="210.98" y2="224.75" stroke="#b98a8a" stroke-width="1.9"/>
<line x1="215.10" y1="181.96" x2="215.10" y2="224.75" stroke="#b98a8a" stroke-width="1.9"/>
<line x1="219.22" y1="181.96" x2="219.22" y2="224.75" stroke="#b98a8a" stroke-width="1.9"/>
<line x1="223.33" y1="181.96" x2="223.33" y2="224.75" stroke="#b98a8a" stroke-width="1.9"/>
<line x1="227.45" y1="181.96" x2="227.45" y2="224.75" stroke="#b98a8a" stroke-width="1.9"/>
<line x1="231.57" y1="181.96" x2="231.57" y2="224.75" stroke="#b98a8a" stroke-width="1.9"/>
<line x1="235.68" y1="181.96" x2="235.68" y2="224.75" stroke="#b98a8a" stroke-width="1.9"/>
<line x1="239.80" y1="181.96" x2="239.80" y2="224.75" stroke="#b98a8a" stroke-width="1.9"/>
<line x1="243.92" y1="181.96" x2="243.92" y2="241.20" stroke="#b98a8a" stroke-width="1.9"/>
<line x1="248.03" y1="181.96" x2="248.03" y2="224.75" stroke="#b98a8a" stroke-width="1.9"/>
<line x1="252.15" y1="181.96" x2="252.15" y2="224.75" stroke="#b98a8a" stroke-width="1.9"/>
<line x1="256.27" y1="181.96" x2="256.27" y2="224.75" stroke="#b98a8a" stroke-width="1.9"/>
<line x1="260.38" y1="181.96" x2="260.38" y2="224.75" stroke="#b98a8a" stroke-width="1.9"/>
<line x1="264.50" y1="181.96" x2="264.50" y2="224.75" stroke="#b98a8a" stroke-width="1.9"/>
<line x1="268.62" y1="181.96" x2="268.62" y2="265.89" stroke="#b98a8a" stroke-width="1.9"/>
<line x1="272.73" y1="181.96" x2="272.73" y2="224.75" stroke="#b98a8a" stroke-width="1.9"/>
<line x1="276.85" y1="181.96" x2="276.85" y2="224.75" stroke="#b98a8a" stroke-width="1.9"/>
<line x1="280.97" y1="181.96" x2="280.97" y2="224.75" stroke="#b98a8a" stroke-width="1.9"/>
<line x1="285.08" y1="181.96" x2="285.08" y2="224.75" stroke="#b98a8a" stroke-width="1.9"/>
<line x1="289.20" y1="181.96" x2="289.20" y2="264.24" stroke="#b98a8a" stroke-width="1.9"/>
<line x1="293.32" y1="181.96" x2="293.32" y2="224.75" stroke="#b98a8a" stroke-width="1.9"/>
<line x1="297.43" y1="181.96" x2="297.43" y2="224.75" stroke="#b98a8a" stroke-width="1.9"/>
<line x1="301.55" y1="181.96" x2="301.55" y2="224.75" stroke="#b98a8a" stroke-width="1.9"/>
<line x1="305.67" y1="181.96" x2="305.67" y2="224.75" stroke="#b98a8a" stroke-width="1.9"/>
<line x1="309.78" y1="181.96" x2="309.78" y2="224.75" stroke="#b98a8a" stroke-width="1.9"/>
<line x1="313.90" y1="181.96" x2="313.90" y2="224.75" stroke="#b98a8a" stroke-width="1.9"/>
<line x1="318.02" y1="181.96" x2="318.02" y2="236.76" stroke="#b98a8a" stroke-width="1.9"/>
<line x1="322.13" y1="181.96" x2="322.13" y2="224.75" stroke="#b98a8a" stroke-width="1.9"/>
<line x1="326.25" y1="181.96" x2="326.25" y2="224.75" stroke="#b98a8a" stroke-width="1.9"/>
<line x1="330.37" y1="181.96" x2="330.37" y2="224.75" stroke="#b98a8a" stroke-width="1.9"/>
<line x1="334.48" y1="181.96" x2="334.48" y2="224.75" stroke="#b98a8a" stroke-width="1.9"/>
<line x1="338.60" y1="181.96" x2="338.60" y2="224.75" stroke="#b98a8a" stroke-width="1.9"/>
<line x1="342.72" y1="181.96" x2="342.72" y2="224.75" stroke="#b98a8a" stroke-width="1.9"/>
<line x1="346.83" y1="181.96" x2="346.83" y2="224.75" stroke="#b98a8a" stroke-width="1.9"/>
<line x1="350.95" y1="181.96" x2="350.95" y2="257.66" stroke="#b98a8a" stroke-width="1.9"/>
<line x1="355.07" y1="181.96" x2="355.07" y2="224.75" stroke="#b98a8a" stroke-width="1.9"/>
<line x1="359.18" y1="181.96" x2="359.18" y2="224.75" stroke="#b98a8a" stroke-width="1.9"/>
<line x1="363.30" y1="181.96" x2="363.30" y2="224.75" stroke="#b98a8a" stroke-width="1.9"/>
<line x1="367.42" y1="181.96" x2="367.42" y2="224.75" stroke="#b98a8a" stroke-width="1.9"/>
<line x1="371.53" y1="181.96" x2="371.53" y2="224.75" stroke="#b98a8a" stroke-width="1.9"/>
<line x1="375.65" y1="181.96" x2="375.65" y2="224.75" stroke="#b98a8a" stroke-width="1.9"/>
<line x1="379.77" y1="181.96" x2="379.77" y2="224.75" stroke="#b98a8a" stroke-width="1.9"/>
<line x1="383.88" y1="181.96" x2="383.88" y2="224.75" stroke="#b98a8a" stroke-width="1.9"/>
<line x1="388.00" y1="181.96" x2="388.00" y2="224.75" stroke="#b98a8a" stroke-width="1.9"/>
<line x1="392.12" y1="181.96" x2="392.12" y2="224.75" stroke="#b98a8a" stroke-width="1.9"/>
<line x1="396.23" y1="181.96" x2="396.23" y2="224.75" stroke="#b98a8a" stroke-width="1.9"/>
<line x1="400.35" y1="181.96" x2="400.35" y2="224.75" stroke="#b98a8a" stroke-width="1.9"/>
<line x1="404.47" y1="181.96" x2="404.47" y2="224.75" stroke="#b98a8a" stroke-width="1.9"/>
<line x1="408.58" y1="181.96" x2="408.58" y2="224.75" stroke="#b98a8a" stroke-width="1.9"/>
<line x1="412.70" y1="181.96" x2="412.70" y2="271.65" stroke="#b98a8a" stroke-width="1.9"/>
<line x1="416.82" y1="181.96" x2="416.82" y2="225.40" stroke="#b98a8a" stroke-width="1.9"/>
<line x1="420.93" y1="181.96" x2="420.93" y2="223.10" stroke="#b98a8a" stroke-width="1.9"/>
<line x1="425.05" y1="181.96" x2="425.05" y2="231.33" stroke="#b98a8a" stroke-width="1.9"/>
<line x1="429.17" y1="181.96" x2="429.17" y2="224.75" stroke="#b98a8a" stroke-width="1.9"/>
<circle cx="54.55" cy="230.18" r="2.55" fill="none" stroke="#009000" stroke-width="1.8"/>
<circle cx="58.67" cy="224.75" r="2.55" fill="none" stroke="#009000" stroke-width="1.8"/>
<circle cx="62.78" cy="219.81" r="2.55" fill="none" stroke="#009000" stroke-width="1.8"/>
<circle cx="66.90" cy="228.86" r="2.55" fill="none" stroke="#009000" stroke-width="1.8"/>
<circle cx="71.02" cy="260.46" r="2.55" fill="none" stroke="#009000" stroke-width="1.8"/>
<circle cx="75.13" cy="234.95" r="2.55" fill="none" stroke="#009000" stroke-width="1.8"/>
<circle cx="79.25" cy="216.52" r="2.55" fill="none" stroke="#009000" stroke-width="1.8"/>
<circle cx="83.37" cy="229.68" r="2.55" fill="none" stroke="#009000" stroke-width="1.8"/>
<circle cx="87.48" cy="205.49" r="2.55" fill="none" stroke="#009000" stroke-width="1.8"/>
<circle cx="91.60" cy="205.66" r="2.55" fill="none" stroke="#009000" stroke-width="1.8"/>
<circle cx="95.72" cy="224.75" r="2.55" fill="none" stroke="#009000" stroke-width="1.8"/>
<circle cx="99.83" cy="221.78" r="2.55" fill="none" stroke="#009000" stroke-width="1.8"/>
<circle cx="108.07" cy="226.72" r="2.55" fill="none" stroke="#009000" stroke-width="1.8"/>
<circle cx="112.18" cy="226.39" r="2.55" fill="none" stroke="#009000" stroke-width="1.8"/>
<circle cx="116.30" cy="228.04" r="2.55" fill="none" stroke="#009000" stroke-width="1.8"/>
<circle cx="120.42" cy="263.09" r="2.55" fill="none" stroke="#009000" stroke-width="1.8"/>
<circle cx="124.53" cy="233.30" r="2.55" fill="none" stroke="#009000" stroke-width="1.8"/>
<circle cx="128.65" cy="228.86" r="2.55" fill="none" stroke="#009000" stroke-width="1.8"/>
<circle cx="132.77" cy="240.71" r="2.55" fill="none" stroke="#009000" stroke-width="1.8"/>
<circle cx="136.88" cy="224.75" r="2.55" fill="none" stroke="#009000" stroke-width="1.8"/>
<circle cx="141.00" cy="252.06" r="2.55" fill="none" stroke="#009000" stroke-width="1.8"/>
<circle cx="145.12" cy="220.14" r="2.55" fill="none" stroke="#009000" stroke-width="1.8"/>
<circle cx="149.23" cy="231.00" r="2.55" fill="none" stroke="#009000" stroke-width="1.8"/>
<circle cx="153.35" cy="231.00" r="2.55" fill="none" stroke="#009000" stroke-width="1.8"/>
<circle cx="157.47" cy="227.21" r="2.55" fill="none" stroke="#009000" stroke-width="1.8"/>
<circle cx="161.58" cy="228.04" r="2.55" fill="none" stroke="#009000" stroke-width="1.8"/>
<circle cx="165.70" cy="228.86" r="2.55" fill="none" stroke="#009000" stroke-width="1.8"/>
<circle cx="169.82" cy="236.27" r="2.55" fill="none" stroke="#009000" stroke-width="1.8"/>
<circle cx="173.93" cy="260.95" r="2.55" fill="none" stroke="#009000" stroke-width="1.8"/>
<circle cx="178.05" cy="236.27" r="2.55" fill="none" stroke="#009000" stroke-width="1.8"/>
<circle cx="182.17" cy="215.69" r="2.55" fill="none" stroke="#009000" stroke-width="1.8"/>
<circle cx="186.28" cy="212.73" r="2.55" fill="none" stroke="#009000" stroke-width="1.8"/>
<circle cx="190.40" cy="237.58" r="2.55" fill="none" stroke="#009000" stroke-width="1.8"/>
<circle cx="194.52" cy="257.66" r="2.55" fill="none" stroke="#009000" stroke-width="1.8"/>
<circle cx="198.63" cy="236.27" r="2.55" fill="none" stroke="#009000" stroke-width="1.8"/>
<circle cx="202.75" cy="220.96" r="2.55" fill="none" stroke="#009000" stroke-width="1.8"/>
<circle cx="206.87" cy="261.77" r="2.55" fill="none" stroke="#009000" stroke-width="1.8"/>
<circle cx="210.98" cy="237.58" r="2.55" fill="none" stroke="#009000" stroke-width="1.8"/>
<circle cx="215.10" cy="206.48" r="2.55" fill="none" stroke="#009000" stroke-width="1.8"/>
<circle cx="219.22" cy="211.25" r="2.55" fill="none" stroke="#009000" stroke-width="1.8"/>
<circle cx="223.33" cy="226.39" r="2.55" fill="none" stroke="#009000" stroke-width="1.8"/>
<circle cx="227.45" cy="214.87" r="2.55" fill="none" stroke="#009000" stroke-width="1.8"/>
<circle cx="231.57" cy="224.75" r="2.55" fill="none" stroke="#009000" stroke-width="1.8"/>
<circle cx="235.68" cy="224.75" r="2.55" fill="none" stroke="#009000" stroke-width="1.8"/>
<circle cx="239.80" cy="231.99" r="2.55" fill="none" stroke="#009000" stroke-width="1.8"/>
<circle cx="243.92" cy="241.20" r="2.55" fill="none" stroke="#009000" stroke-width="1.8"/>
<circle cx="248.03" cy="231.99" r="2.55" fill="none" stroke="#009000" stroke-width="1.8"/>
<circle cx="252.15" cy="214.54" r="2.55" fill="none" stroke="#009000" stroke-width="1.8"/>
<circle cx="256.27" cy="228.04" r="2.55" fill="none" stroke="#009000" stroke-width="1.8"/>
<circle cx="260.38" cy="231.33" r="2.55" fill="none" stroke="#009000" stroke-width="1.8"/>
<circle cx="264.50" cy="235.44" r="2.55" fill="none" stroke="#009000" stroke-width="1.8"/>
<circle cx="268.62" cy="262.10" r="2.55" fill="none" stroke="#009000" stroke-width="1.8"/>
<circle cx="272.73" cy="236.76" r="2.55" fill="none" stroke="#009000" stroke-width="1.8"/>
<circle cx="276.85" cy="224.42" r="2.55" fill="none" stroke="#009000" stroke-width="1.8"/>
<circle cx="280.97" cy="232.97" r="2.55" fill="none" stroke="#009000" stroke-width="1.8"/>
<circle cx="285.08" cy="237.25" r="2.55" fill="none" stroke="#009000" stroke-width="1.8"/>
<circle cx="289.20" cy="262.10" r="2.55" fill="none" stroke="#009000" stroke-width="1.8"/>
<circle cx="293.32" cy="232.97" r="2.55" fill="none" stroke="#009000" stroke-width="1.8"/>
<circle cx="297.43" cy="220.14" r="2.55" fill="none" stroke="#009000" stroke-width="1.8"/>
<circle cx="301.55" cy="230.51" r="2.55" fill="none" stroke="#009000" stroke-width="1.8"/>
<circle cx="305.67" cy="230.51" r="2.55" fill="none" stroke="#009000" stroke-width="1.8"/>
<circle cx="309.78" cy="228.04" r="2.55" fill="none" stroke="#009000" stroke-width="1.8"/>
<circle cx="313.90" cy="229.68" r="2.55" fill="none" stroke="#009000" stroke-width="1.8"/>
<circle cx="318.02" cy="228.86" r="2.55" fill="none" stroke="#009000" stroke-width="1.8"/>
<circle cx="322.13" cy="231.49" r="2.55" fill="none" stroke="#009000" stroke-width="1.8"/>
<circle cx="326.25" cy="199.90" r="2.55" fill="none" stroke="#009000" stroke-width="1.8"/>
<circle cx="330.37" cy="197.26" r="2.55" fill="none" stroke="#009000" stroke-width="1.8"/>
<circle cx="334.48" cy="205.16" r="2.55" fill="none" stroke="#009000" stroke-width="1.8"/>
<circle cx="338.60" cy="208.62" r="2.55" fill="none" stroke="#009000" stroke-width="1.8"/>
<circle cx="342.72" cy="241.20" r="2.55" fill="none" stroke="#009000" stroke-width="1.8"/>
<circle cx="346.83" cy="219.15" r="2.55" fill="none" stroke="#009000" stroke-width="1.8"/>
<circle cx="350.95" cy="260.46" r="2.55" fill="none" stroke="#009000" stroke-width="1.8"/>
<circle cx="355.07" cy="231.00" r="2.55" fill="none" stroke="#009000" stroke-width="1.8"/>
<circle cx="359.18" cy="229.68" r="2.55" fill="none" stroke="#009000" stroke-width="1.8"/>
<circle cx="363.30" cy="231.00" r="2.55" fill="none" stroke="#009000" stroke-width="1.8"/>
<circle cx="367.42" cy="234.62" r="2.55" fill="none" stroke="#009000" stroke-width="1.8"/>
<circle cx="371.53" cy="242.85" r="2.55" fill="none" stroke="#009000" stroke-width="1.8"/>
<circle cx="375.65" cy="234.62" r="2.55" fill="none" stroke="#009000" stroke-width="1.8"/>
<circle cx="379.77" cy="218.33" r="2.55" fill="none" stroke="#009000" stroke-width="1.8"/>
<circle cx="383.88" cy="234.95" r="2.55" fill="none" stroke="#009000" stroke-width="1.8"/>
<circle cx="388.00" cy="229.68" r="2.55" fill="none" stroke="#009000" stroke-width="1.8"/>
<circle cx="392.12" cy="226.39" r="2.55" fill="none" stroke="#009000" stroke-width="1.8"/>
<circle cx="396.23" cy="215.20" r="2.55" fill="none" stroke="#009000" stroke-width="1.8"/>
<circle cx="400.35" cy="219.81" r="2.55" fill="none" stroke="#009000" stroke-width="1.8"/>
<circle cx="404.47" cy="223.10" r="2.55" fill="none" stroke="#009000" stroke-width="1.8"/>
<circle cx="408.58" cy="229.68" r="2.55" fill="none" stroke="#009000" stroke-width="1.8"/>
<circle cx="412.70" cy="259.31" r="2.55" fill="none" stroke="#009000" stroke-width="1.8"/>
<circle cx="416.82" cy="231.33" r="2.55" fill="none" stroke="#009000" stroke-width="1.8"/>
<circle cx="420.93" cy="232.97" r="2.55" fill="none" stroke="#009000" stroke-width="1.8"/>
<circle cx="425.05" cy="234.62" r="2.55" fill="none" stroke="#009000" stroke-width="1.8"/>
<circle cx="429.17" cy="232.32" r="2.55" fill="none" stroke="#009000" stroke-width="1.8"/>
<rect x="52.55" y="225.05" width="4.0" height="4.0" fill="none" stroke="#0000ff" stroke-width="1.75"/>
<rect x="56.67" y="224.39" width="4.0" height="4.0" fill="none" stroke="#0000ff" stroke-width="1.75"/>
<rect x="60.78" y="224.23" width="4.0" height="4.0" fill="none" stroke="#0000ff" stroke-width="1.75"/>
<rect x="64.90" y="226.04" width="4.0" height="4.0" fill="none" stroke="#0000ff" stroke-width="1.75"/>
<rect x="69.02" y="255.00" width="4.0" height="4.0" fill="none" stroke="#0000ff" stroke-width="1.75"/>
<rect x="73.13" y="231.80" width="4.0" height="4.0" fill="none" stroke="#0000ff" stroke-width="1.75"/>
<rect x="77.25" y="225.05" width="4.0" height="4.0" fill="none" stroke="#0000ff" stroke-width="1.75"/>
<rect x="81.37" y="229.00" width="4.0" height="4.0" fill="none" stroke="#0000ff" stroke-width="1.75"/>
<rect x="85.48" y="221.59" width="4.0" height="4.0" fill="none" stroke="#0000ff" stroke-width="1.75"/>
<rect x="89.60" y="217.15" width="4.0" height="4.0" fill="none" stroke="#0000ff" stroke-width="1.75"/>
<rect x="93.72" y="222.42" width="4.0" height="4.0" fill="none" stroke="#0000ff" stroke-width="1.75"/>
<rect x="97.83" y="224.23" width="4.0" height="4.0" fill="none" stroke="#0000ff" stroke-width="1.75"/>
<rect x="106.07" y="225.21" width="4.0" height="4.0" fill="none" stroke="#0000ff" stroke-width="1.75"/>
<rect x="110.18" y="224.72" width="4.0" height="4.0" fill="none" stroke="#0000ff" stroke-width="1.75"/>
<rect x="114.30" y="226.04" width="4.0" height="4.0" fill="none" stroke="#0000ff" stroke-width="1.75"/>
<rect x="118.42" y="254.01" width="4.0" height="4.0" fill="none" stroke="#0000ff" stroke-width="1.75"/>
<rect x="122.53" y="230.32" width="4.0" height="4.0" fill="none" stroke="#0000ff" stroke-width="1.75"/>
<rect x="126.65" y="229.99" width="4.0" height="4.0" fill="none" stroke="#0000ff" stroke-width="1.75"/>
<rect x="130.77" y="214.52" width="4.0" height="4.0" fill="none" stroke="#0000ff" stroke-width="1.75"/>
<rect x="134.88" y="218.96" width="4.0" height="4.0" fill="none" stroke="#0000ff" stroke-width="1.75"/>
<rect x="139.00" y="218.14" width="4.0" height="4.0" fill="none" stroke="#0000ff" stroke-width="1.75"/>
<rect x="143.12" y="221.92" width="4.0" height="4.0" fill="none" stroke="#0000ff" stroke-width="1.75"/>
<rect x="147.23" y="221.10" width="4.0" height="4.0" fill="none" stroke="#0000ff" stroke-width="1.75"/>
<rect x="151.35" y="220.77" width="4.0" height="4.0" fill="none" stroke="#0000ff" stroke-width="1.75"/>
<rect x="155.47" y="222.75" width="4.0" height="4.0" fill="none" stroke="#0000ff" stroke-width="1.75"/>
<rect x="159.58" y="224.39" width="4.0" height="4.0" fill="none" stroke="#0000ff" stroke-width="1.75"/>
<rect x="163.70" y="226.04" width="4.0" height="4.0" fill="none" stroke="#0000ff" stroke-width="1.75"/>
<rect x="167.82" y="229.33" width="4.0" height="4.0" fill="none" stroke="#0000ff" stroke-width="1.75"/>
<rect x="171.93" y="255.82" width="4.0" height="4.0" fill="none" stroke="#0000ff" stroke-width="1.75"/>
<rect x="176.05" y="229.99" width="4.0" height="4.0" fill="none" stroke="#0000ff" stroke-width="1.75"/>
<rect x="180.17" y="219.78" width="4.0" height="4.0" fill="none" stroke="#0000ff" stroke-width="1.75"/>
<rect x="184.28" y="219.78" width="4.0" height="4.0" fill="none" stroke="#0000ff" stroke-width="1.75"/>
<rect x="188.40" y="224.23" width="4.0" height="4.0" fill="none" stroke="#0000ff" stroke-width="1.75"/>
<rect x="192.52" y="252.37" width="4.0" height="4.0" fill="none" stroke="#0000ff" stroke-width="1.75"/>
<rect x="196.63" y="232.13" width="4.0" height="4.0" fill="none" stroke="#0000ff" stroke-width="1.75"/>
<rect x="200.75" y="225.05" width="4.0" height="4.0" fill="none" stroke="#0000ff" stroke-width="1.75"/>
<rect x="204.87" y="254.01" width="4.0" height="4.0" fill="none" stroke="#0000ff" stroke-width="1.75"/>
<rect x="208.98" y="232.62" width="4.0" height="4.0" fill="none" stroke="#0000ff" stroke-width="1.75"/>
<rect x="213.10" y="227.68" width="4.0" height="4.0" fill="none" stroke="#0000ff" stroke-width="1.75"/>
<rect x="217.22" y="226.04" width="4.0" height="4.0" fill="none" stroke="#0000ff" stroke-width="1.75"/>
<rect x="221.33" y="229.49" width="4.0" height="4.0" fill="none" stroke="#0000ff" stroke-width="1.75"/>
<rect x="225.45" y="216.33" width="4.0" height="4.0" fill="none" stroke="#0000ff" stroke-width="1.75"/>
<rect x="229.57" y="219.78" width="4.0" height="4.0" fill="none" stroke="#0000ff" stroke-width="1.75"/>
<rect x="233.68" y="219.78" width="4.0" height="4.0" fill="none" stroke="#0000ff" stroke-width="1.75"/>
<rect x="237.80" y="222.75" width="4.0" height="4.0" fill="none" stroke="#0000ff" stroke-width="1.75"/>
<rect x="241.92" y="240.03" width="4.0" height="4.0" fill="none" stroke="#0000ff" stroke-width="1.75"/>
<rect x="246.03" y="226.04" width="4.0" height="4.0" fill="none" stroke="#0000ff" stroke-width="1.75"/>
<rect x="250.15" y="221.10" width="4.0" height="4.0" fill="none" stroke="#0000ff" stroke-width="1.75"/>
<rect x="254.27" y="227.68" width="4.0" height="4.0" fill="none" stroke="#0000ff" stroke-width="1.75"/>
<rect x="258.38" y="228.51" width="4.0" height="4.0" fill="none" stroke="#0000ff" stroke-width="1.75"/>
<rect x="262.50" y="229.33" width="4.0" height="4.0" fill="none" stroke="#0000ff" stroke-width="1.75"/>
<rect x="266.62" y="254.01" width="4.0" height="4.0" fill="none" stroke="#0000ff" stroke-width="1.75"/>
<rect x="270.73" y="229.00" width="4.0" height="4.0" fill="none" stroke="#0000ff" stroke-width="1.75"/>
<rect x="274.85" y="228.51" width="4.0" height="4.0" fill="none" stroke="#0000ff" stroke-width="1.75"/>
<rect x="278.97" y="229.33" width="4.0" height="4.0" fill="none" stroke="#0000ff" stroke-width="1.75"/>
<rect x="283.08" y="234.27" width="4.0" height="4.0" fill="none" stroke="#0000ff" stroke-width="1.75"/>
<rect x="287.20" y="253.19" width="4.0" height="4.0" fill="none" stroke="#0000ff" stroke-width="1.75"/>
<rect x="291.32" y="227.68" width="4.0" height="4.0" fill="none" stroke="#0000ff" stroke-width="1.75"/>
<rect x="295.43" y="225.05" width="4.0" height="4.0" fill="none" stroke="#0000ff" stroke-width="1.75"/>
<rect x="299.55" y="225.05" width="4.0" height="4.0" fill="none" stroke="#0000ff" stroke-width="1.75"/>
<rect x="303.67" y="225.05" width="4.0" height="4.0" fill="none" stroke="#0000ff" stroke-width="1.75"/>
<rect x="307.78" y="225.05" width="4.0" height="4.0" fill="none" stroke="#0000ff" stroke-width="1.75"/>
<rect x="311.90" y="226.04" width="4.0" height="4.0" fill="none" stroke="#0000ff" stroke-width="1.75"/>
<rect x="316.02" y="226.04" width="4.0" height="4.0" fill="none" stroke="#0000ff" stroke-width="1.75"/>
<rect x="320.13" y="220.77" width="4.0" height="4.0" fill="none" stroke="#0000ff" stroke-width="1.75"/>
<rect x="324.25" y="216.33" width="4.0" height="4.0" fill="none" stroke="#0000ff" stroke-width="1.75"/>
<rect x="328.37" y="214.19" width="4.0" height="4.0" fill="none" stroke="#0000ff" stroke-width="1.75"/>
<rect x="332.48" y="212.54" width="4.0" height="4.0" fill="none" stroke="#0000ff" stroke-width="1.75"/>
<rect x="336.60" y="209.58" width="4.0" height="4.0" fill="none" stroke="#0000ff" stroke-width="1.75"/>
<rect x="340.72" y="219.78" width="4.0" height="4.0" fill="none" stroke="#0000ff" stroke-width="1.75"/>
<rect x="344.83" y="225.05" width="4.0" height="4.0" fill="none" stroke="#0000ff" stroke-width="1.75"/>
<rect x="348.95" y="251.38" width="4.0" height="4.0" fill="none" stroke="#0000ff" stroke-width="1.75"/>
<rect x="353.07" y="223.40" width="4.0" height="4.0" fill="none" stroke="#0000ff" stroke-width="1.75"/>
<rect x="357.18" y="218.96" width="4.0" height="4.0" fill="none" stroke="#0000ff" stroke-width="1.75"/>
<rect x="361.30" y="229.00" width="4.0" height="4.0" fill="none" stroke="#0000ff" stroke-width="1.75"/>
<rect x="365.42" y="229.99" width="4.0" height="4.0" fill="none" stroke="#0000ff" stroke-width="1.75"/>
<rect x="369.53" y="237.06" width="4.0" height="4.0" fill="none" stroke="#0000ff" stroke-width="1.75"/>
<rect x="373.65" y="226.86" width="4.0" height="4.0" fill="none" stroke="#0000ff" stroke-width="1.75"/>
<rect x="377.77" y="221.26" width="4.0" height="4.0" fill="none" stroke="#0000ff" stroke-width="1.75"/>
<rect x="381.88" y="225.21" width="4.0" height="4.0" fill="none" stroke="#0000ff" stroke-width="1.75"/>
<rect x="386.00" y="222.42" width="4.0" height="4.0" fill="none" stroke="#0000ff" stroke-width="1.75"/>
<rect x="390.12" y="225.05" width="4.0" height="4.0" fill="none" stroke="#0000ff" stroke-width="1.75"/>
<rect x="394.23" y="225.05" width="4.0" height="4.0" fill="none" stroke="#0000ff" stroke-width="1.75"/>
<rect x="398.35" y="227.68" width="4.0" height="4.0" fill="none" stroke="#0000ff" stroke-width="1.75"/>
<rect x="402.47" y="229.00" width="4.0" height="4.0" fill="none" stroke="#0000ff" stroke-width="1.75"/>
<rect x="406.58" y="231.30" width="4.0" height="4.0" fill="none" stroke="#0000ff" stroke-width="1.75"/>
<rect x="410.70" y="251.38" width="4.0" height="4.0" fill="none" stroke="#0000ff" stroke-width="1.75"/>
<rect x="414.82" y="230.97" width="4.0" height="4.0" fill="none" stroke="#0000ff" stroke-width="1.75"/>
<rect x="418.93" y="232.62" width="4.0" height="4.0" fill="none" stroke="#0000ff" stroke-width="1.75"/>
<rect x="423.05" y="235.25" width="4.0" height="4.0" fill="none" stroke="#0000ff" stroke-width="1.75"/>
<rect x="427.17" y="219.78" width="4.0" height="4.0" fill="none" stroke="#0000ff" stroke-width="1.75"/>
<path d="M54.55,225.04l3.45,5.7h-6.9z M54.55,228.44l0.7,1.1h-1.4z" fill="#ff0000" fill-rule="evenodd"/>
<path d="M58.67,217.14l3.45,5.7h-6.9z M58.67,220.54l0.7,1.1h-1.4z" fill="#ff0000" fill-rule="evenodd"/>
<path d="M62.78,215.66l3.45,5.7h-6.9z M62.78,219.06l0.7,1.1h-1.4z" fill="#ff0000" fill-rule="evenodd"/>
<path d="M66.90,225.04l3.45,5.7h-6.9z M66.90,228.44l0.7,1.1h-1.4z" fill="#ff0000" fill-rule="evenodd"/>
<path d="M71.02,256.31l3.45,5.7h-6.9z M71.02,259.71l0.7,1.1h-1.4z" fill="#ff0000" fill-rule="evenodd"/>
<path d="M75.13,231.95l3.45,5.7h-6.9z M75.13,235.35l0.7,1.1h-1.4z" fill="#ff0000" fill-rule="evenodd"/>
<path d="M79.25,208.25l3.45,5.7h-6.9z M79.25,211.65l0.7,1.1h-1.4z" fill="#ff0000" fill-rule="evenodd"/>
<path d="M83.37,217.14l3.45,5.7h-6.9z M83.37,220.54l0.7,1.1h-1.4z" fill="#ff0000" fill-rule="evenodd"/>
<path d="M87.48,203.97l3.45,5.7h-6.9z M87.48,207.37l0.7,1.1h-1.4z" fill="#ff0000" fill-rule="evenodd"/>
<path d="M91.60,202.66l3.45,5.7h-6.9z M91.60,206.06l0.7,1.1h-1.4z" fill="#ff0000" fill-rule="evenodd"/>
<path d="M95.72,221.42l3.45,5.7h-6.9z M95.72,224.82l0.7,1.1h-1.4z" fill="#ff0000" fill-rule="evenodd"/>
<path d="M99.83,221.75l3.45,5.7h-6.9z M99.83,225.15l0.7,1.1h-1.4z" fill="#ff0000" fill-rule="evenodd"/>
<path d="M108.07,223.72l3.45,5.7h-6.9z M108.07,227.12l0.7,1.1h-1.4z" fill="#ff0000" fill-rule="evenodd"/>
<path d="M112.18,223.39l3.45,5.7h-6.9z M112.18,226.79l0.7,1.1h-1.4z" fill="#ff0000" fill-rule="evenodd"/>
<path d="M116.30,223.72l3.45,5.7h-6.9z M116.30,227.12l0.7,1.1h-1.4z" fill="#ff0000" fill-rule="evenodd"/>
<path d="M120.42,260.09l3.45,5.7h-6.9z M120.42,263.49l0.7,1.1h-1.4z" fill="#ff0000" fill-rule="evenodd"/>
<path d="M124.53,230.30l3.45,5.7h-6.9z M124.53,233.70l0.7,1.1h-1.4z" fill="#ff0000" fill-rule="evenodd"/>
<path d="M128.65,226.68l3.45,5.7h-6.9z M128.65,230.08l0.7,1.1h-1.4z" fill="#ff0000" fill-rule="evenodd"/>
<path d="M132.77,234.58l3.45,5.7h-6.9z M132.77,237.98l0.7,1.1h-1.4z" fill="#ff0000" fill-rule="evenodd"/>
<path d="M136.88,220.10l3.45,5.7h-6.9z M136.88,223.50l0.7,1.1h-1.4z" fill="#ff0000" fill-rule="evenodd"/>
<path d="M141.00,241.66l3.45,5.7h-6.9z M141.00,245.06l0.7,1.1h-1.4z" fill="#ff0000" fill-rule="evenodd"/>
<path d="M145.12,217.96l3.45,5.7h-6.9z M145.12,221.36l0.7,1.1h-1.4z" fill="#ff0000" fill-rule="evenodd"/>
<path d="M149.23,223.39l3.45,5.7h-6.9z M149.23,226.79l0.7,1.1h-1.4z" fill="#ff0000" fill-rule="evenodd"/>
<path d="M153.35,223.39l3.45,5.7h-6.9z M153.35,226.79l0.7,1.1h-1.4z" fill="#ff0000" fill-rule="evenodd"/>
<path d="M157.47,223.23l3.45,5.7h-6.9z M157.47,226.63l0.7,1.1h-1.4z" fill="#ff0000" fill-rule="evenodd"/>
<path d="M161.58,224.05l3.45,5.7h-6.9z M161.58,227.45l0.7,1.1h-1.4z" fill="#ff0000" fill-rule="evenodd"/>
<path d="M165.70,225.04l3.45,5.7h-6.9z M165.70,228.44l0.7,1.1h-1.4z" fill="#ff0000" fill-rule="evenodd"/>
<path d="M169.82,231.95l3.45,5.7h-6.9z M169.82,235.35l0.7,1.1h-1.4z" fill="#ff0000" fill-rule="evenodd"/>
<path d="M173.93,258.28l3.45,5.7h-6.9z M173.93,261.68l0.7,1.1h-1.4z" fill="#ff0000" fill-rule="evenodd"/>
<path d="M178.05,231.95l3.45,5.7h-6.9z M178.05,235.35l0.7,1.1h-1.4z" fill="#ff0000" fill-rule="evenodd"/>
<path d="M182.17,213.19l3.45,5.7h-6.9z M182.17,216.59l0.7,1.1h-1.4z" fill="#ff0000" fill-rule="evenodd"/>
<path d="M186.28,212.69l3.45,5.7h-6.9z M186.28,216.09l0.7,1.1h-1.4z" fill="#ff0000" fill-rule="evenodd"/>
<path d="M190.40,233.76l3.45,5.7h-6.9z M190.40,237.16l0.7,1.1h-1.4z" fill="#ff0000" fill-rule="evenodd"/>
<path d="M194.52,255.65l3.45,5.7h-6.9z M194.52,259.05l0.7,1.1h-1.4z" fill="#ff0000" fill-rule="evenodd"/>
<path d="M198.63,231.95l3.45,5.7h-6.9z M198.63,235.35l0.7,1.1h-1.4z" fill="#ff0000" fill-rule="evenodd"/>
<path d="M202.75,218.78l3.45,5.7h-6.9z M202.75,222.18l0.7,1.1h-1.4z" fill="#ff0000" fill-rule="evenodd"/>
<path d="M206.87,260.09l3.45,5.7h-6.9z M206.87,263.49l0.7,1.1h-1.4z" fill="#ff0000" fill-rule="evenodd"/>
<path d="M210.98,233.76l3.45,5.7h-6.9z M210.98,237.16l0.7,1.1h-1.4z" fill="#ff0000" fill-rule="evenodd"/>
<path d="M215.10,199.53l3.45,5.7h-6.9z M215.10,202.93l0.7,1.1h-1.4z" fill="#ff0000" fill-rule="evenodd"/>
<path d="M219.22,200.35l3.45,5.7h-6.9z M219.22,203.75l0.7,1.1h-1.4z" fill="#ff0000" fill-rule="evenodd"/>
<path d="M223.33,218.78l3.45,5.7h-6.9z M223.33,222.18l0.7,1.1h-1.4z" fill="#ff0000" fill-rule="evenodd"/>
<path d="M227.45,210.88l3.45,5.7h-6.9z M227.45,214.28l0.7,1.1h-1.4z" fill="#ff0000" fill-rule="evenodd"/>
<path d="M231.57,223.23l3.45,5.7h-6.9z M231.57,226.63l0.7,1.1h-1.4z" fill="#ff0000" fill-rule="evenodd"/>
<path d="M235.68,221.75l3.45,5.7h-6.9z M235.68,225.15l0.7,1.1h-1.4z" fill="#ff0000" fill-rule="evenodd"/>
<path d="M239.80,228.49l3.45,5.7h-6.9z M239.80,231.89l0.7,1.1h-1.4z" fill="#ff0000" fill-rule="evenodd"/>
<path d="M243.92,238.20l3.45,5.7h-6.9z M243.92,241.60l0.7,1.1h-1.4z" fill="#ff0000" fill-rule="evenodd"/>
<path d="M248.03,228.49l3.45,5.7h-6.9z M248.03,231.89l0.7,1.1h-1.4z" fill="#ff0000" fill-rule="evenodd"/>
<path d="M252.15,207.43l3.45,5.7h-6.9z M252.15,210.83l0.7,1.1h-1.4z" fill="#ff0000" fill-rule="evenodd"/>
<path d="M256.27,225.04l3.45,5.7h-6.9z M256.27,228.44l0.7,1.1h-1.4z" fill="#ff0000" fill-rule="evenodd"/>
<path d="M260.38,228.99l3.45,5.7h-6.9z M260.38,232.39l0.7,1.1h-1.4z" fill="#ff0000" fill-rule="evenodd"/>
<path d="M264.50,230.80l3.45,5.7h-6.9z M264.50,234.20l0.7,1.1h-1.4z" fill="#ff0000" fill-rule="evenodd"/>
<path d="M268.62,259.10l3.45,5.7h-6.9z M268.62,262.50l0.7,1.1h-1.4z" fill="#ff0000" fill-rule="evenodd"/>
<path d="M272.73,231.62l3.45,5.7h-6.9z M272.73,235.02l0.7,1.1h-1.4z" fill="#ff0000" fill-rule="evenodd"/>
<path d="M276.85,222.07l3.45,5.7h-6.9z M276.85,225.47l0.7,1.1h-1.4z" fill="#ff0000" fill-rule="evenodd"/>
<path d="M280.97,231.13l3.45,5.7h-6.9z M280.97,234.53l0.7,1.1h-1.4z" fill="#ff0000" fill-rule="evenodd"/>
<path d="M285.08,233.27l3.45,5.7h-6.9z M285.08,236.67l0.7,1.1h-1.4z" fill="#ff0000" fill-rule="evenodd"/>
<path d="M289.20,258.28l3.45,5.7h-6.9z M289.20,261.68l0.7,1.1h-1.4z" fill="#ff0000" fill-rule="evenodd"/>
<path d="M293.32,229.97l3.45,5.7h-6.9z M293.32,233.37l0.7,1.1h-1.4z" fill="#ff0000" fill-rule="evenodd"/>
<path d="M297.43,217.14l3.45,5.7h-6.9z M297.43,220.54l0.7,1.1h-1.4z" fill="#ff0000" fill-rule="evenodd"/>
<path d="M301.55,228.00l3.45,5.7h-6.9z M301.55,231.40l0.7,1.1h-1.4z" fill="#ff0000" fill-rule="evenodd"/>
<path d="M305.67,228.00l3.45,5.7h-6.9z M305.67,231.40l0.7,1.1h-1.4z" fill="#ff0000" fill-rule="evenodd"/>
<path d="M309.78,225.04l3.45,5.7h-6.9z M309.78,228.44l0.7,1.1h-1.4z" fill="#ff0000" fill-rule="evenodd"/>
<path d="M313.90,226.68l3.45,5.7h-6.9z M313.90,230.08l0.7,1.1h-1.4z" fill="#ff0000" fill-rule="evenodd"/>
<path d="M318.02,226.68l3.45,5.7h-6.9z M318.02,230.08l0.7,1.1h-1.4z" fill="#ff0000" fill-rule="evenodd"/>
<path d="M322.13,225.04l3.45,5.7h-6.9z M322.13,228.44l0.7,1.1h-1.4z" fill="#ff0000" fill-rule="evenodd"/>
<path d="M326.25,204.79l3.45,5.7h-6.9z M326.25,208.19l0.7,1.1h-1.4z" fill="#ff0000" fill-rule="evenodd"/>
<path d="M330.37,198.05l3.45,5.7h-6.9z M330.37,201.45l0.7,1.1h-1.4z" fill="#ff0000" fill-rule="evenodd"/>
<path d="M334.48,206.61l3.45,5.7h-6.9z M334.48,210.01l0.7,1.1h-1.4z" fill="#ff0000" fill-rule="evenodd"/>
<path d="M338.60,209.24l3.45,5.7h-6.9z M338.60,212.64l0.7,1.1h-1.4z" fill="#ff0000" fill-rule="evenodd"/>
<path d="M342.72,241.33l3.45,5.7h-6.9z M342.72,244.73l0.7,1.1h-1.4z" fill="#ff0000" fill-rule="evenodd"/>
<path d="M346.83,216.15l3.45,5.7h-6.9z M346.83,219.55l0.7,1.1h-1.4z" fill="#ff0000" fill-rule="evenodd"/>
<path d="M350.95,257.46l3.45,5.7h-6.9z M350.95,260.86l0.7,1.1h-1.4z" fill="#ff0000" fill-rule="evenodd"/>
<path d="M355.07,226.68l3.45,5.7h-6.9z M355.07,230.08l0.7,1.1h-1.4z" fill="#ff0000" fill-rule="evenodd"/>
<path d="M359.18,231.95l3.45,5.7h-6.9z M359.18,235.35l0.7,1.1h-1.4z" fill="#ff0000" fill-rule="evenodd"/>
<path d="M363.30,227.51l3.45,5.7h-6.9z M363.30,230.91l0.7,1.1h-1.4z" fill="#ff0000" fill-rule="evenodd"/>
<path d="M367.42,231.13l3.45,5.7h-6.9z M367.42,234.53l0.7,1.1h-1.4z" fill="#ff0000" fill-rule="evenodd"/>
<path d="M371.53,238.20l3.45,5.7h-6.9z M371.53,241.60l0.7,1.1h-1.4z" fill="#ff0000" fill-rule="evenodd"/>
<path d="M375.65,231.13l3.45,5.7h-6.9z M375.65,234.53l0.7,1.1h-1.4z" fill="#ff0000" fill-rule="evenodd"/>
<path d="M379.77,215.33l3.45,5.7h-6.9z M379.77,218.73l0.7,1.1h-1.4z" fill="#ff0000" fill-rule="evenodd"/>
<path d="M383.88,228.49l3.45,5.7h-6.9z M383.88,231.89l0.7,1.1h-1.4z" fill="#ff0000" fill-rule="evenodd"/>
<path d="M388.00,228.33l3.45,5.7h-6.9z M388.00,231.73l0.7,1.1h-1.4z" fill="#ff0000" fill-rule="evenodd"/>
<path d="M392.12,223.39l3.45,5.7h-6.9z M392.12,226.79l0.7,1.1h-1.4z" fill="#ff0000" fill-rule="evenodd"/>
<path d="M396.23,213.52l3.45,5.7h-6.9z M396.23,216.92l0.7,1.1h-1.4z" fill="#ff0000" fill-rule="evenodd"/>
<path d="M400.35,218.78l3.45,5.7h-6.9z M400.35,222.18l0.7,1.1h-1.4z" fill="#ff0000" fill-rule="evenodd"/>
<path d="M404.47,218.78l3.45,5.7h-6.9z M404.47,222.18l0.7,1.1h-1.4z" fill="#ff0000" fill-rule="evenodd"/>
<path d="M408.58,227.51l3.45,5.7h-6.9z M408.58,230.91l0.7,1.1h-1.4z" fill="#ff0000" fill-rule="evenodd"/>
<path d="M412.70,257.46l3.45,5.7h-6.9z M412.70,260.86l0.7,1.1h-1.4z" fill="#ff0000" fill-rule="evenodd"/>
<path d="M416.82,229.15l3.45,5.7h-6.9z M416.82,232.55l0.7,1.1h-1.4z" fill="#ff0000" fill-rule="evenodd"/>
<path d="M420.93,233.76l3.45,5.7h-6.9z M420.93,237.16l0.7,1.1h-1.4z" fill="#ff0000" fill-rule="evenodd"/>
<path d="M425.05,229.97l3.45,5.7h-6.9z M425.05,233.37l0.7,1.1h-1.4z" fill="#ff0000" fill-rule="evenodd"/>
<path d="M429.17,229.65l3.45,5.7h-6.9z M429.17,233.05l0.7,1.1h-1.4z" fill="#ff0000" fill-rule="evenodd"/>
<path d="M54.55,225.91l2.7,2.95l-2.7,2.95l-2.7,-2.95z M54.55,228.06l0.75,0.8l-0.75,0.8l-0.75,-0.8z" fill="#00ffff" fill-rule="evenodd"/>
<path d="M58.67,223.28l2.7,2.95l-2.7,2.95l-2.7,-2.95z M58.67,225.43l0.75,0.8l-0.75,0.8l-0.75,-0.8z" fill="#00ffff" fill-rule="evenodd"/>
<path d="M62.78,224.10l2.7,2.95l-2.7,2.95l-2.7,-2.95z M62.78,226.25l0.75,0.8l-0.75,0.8l-0.75,-0.8z" fill="#00ffff" fill-rule="evenodd"/>
<path d="M66.90,225.91l2.7,2.95l-2.7,2.95l-2.7,-2.95z M66.90,228.06l0.75,0.8l-0.75,0.8l-0.75,-0.8z" fill="#00ffff" fill-rule="evenodd"/>
<path d="M71.02,255.70l2.7,2.95l-2.7,2.95l-2.7,-2.95z M71.02,257.85l0.75,0.8l-0.75,0.8l-0.75,-0.8z" fill="#00ffff" fill-rule="evenodd"/>
<path d="M75.13,226.73l2.7,2.95l-2.7,2.95l-2.7,-2.95z M75.13,228.88l0.75,0.8l-0.75,0.8l-0.75,-0.8z" fill="#00ffff" fill-rule="evenodd"/>
<path d="M79.25,218.50l2.7,2.95l-2.7,2.95l-2.7,-2.95z M79.25,220.65l0.75,0.8l-0.75,0.8l-0.75,-0.8z" fill="#00ffff" fill-rule="evenodd"/>
<path d="M83.37,219.16l2.7,2.95l-2.7,2.95l-2.7,-2.95z M83.37,221.31l0.75,0.8l-0.75,0.8l-0.75,-0.8z" fill="#00ffff" fill-rule="evenodd"/>
<path d="M87.48,216.20l2.7,2.95l-2.7,2.95l-2.7,-2.95z M87.48,218.35l0.75,0.8l-0.75,0.8l-0.75,-0.8z" fill="#00ffff" fill-rule="evenodd"/>
<path d="M91.60,209.29l2.7,2.95l-2.7,2.95l-2.7,-2.95z M91.60,211.44l0.75,0.8l-0.75,0.8l-0.75,-0.8z" fill="#00ffff" fill-rule="evenodd"/>
<path d="M95.72,214.55l2.7,2.95l-2.7,2.95l-2.7,-2.95z M95.72,216.70l0.75,0.8l-0.75,0.8l-0.75,-0.8z" fill="#00ffff" fill-rule="evenodd"/>
<path d="M99.83,220.64l2.7,2.95l-2.7,2.95l-2.7,-2.95z M99.83,222.79l0.75,0.8l-0.75,0.8l-0.75,-0.8z" fill="#00ffff" fill-rule="evenodd"/>
<path d="M108.07,223.28l2.7,2.95l-2.7,2.95l-2.7,-2.95z M108.07,225.43l0.75,0.8l-0.75,0.8l-0.75,-0.8z" fill="#00ffff" fill-rule="evenodd"/>
<path d="M112.18,221.47l2.7,2.95l-2.7,2.95l-2.7,-2.95z M112.18,223.62l0.75,0.8l-0.75,0.8l-0.75,-0.8z" fill="#00ffff" fill-rule="evenodd"/>
<path d="M116.30,225.58l2.7,2.95l-2.7,2.95l-2.7,-2.95z M116.30,227.73l0.75,0.8l-0.75,0.8l-0.75,-0.8z" fill="#00ffff" fill-rule="evenodd"/>
<path d="M120.42,255.70l2.7,2.95l-2.7,2.95l-2.7,-2.95z M120.42,257.85l0.75,0.8l-0.75,0.8l-0.75,-0.8z" fill="#00ffff" fill-rule="evenodd"/>
<path d="M124.53,229.37l2.7,2.95l-2.7,2.95l-2.7,-2.95z M124.53,231.52l0.75,0.8l-0.75,0.8l-0.75,-0.8z" fill="#00ffff" fill-rule="evenodd"/>
<path d="M128.65,225.91l2.7,2.95l-2.7,2.95l-2.7,-2.95z M128.65,228.06l0.75,0.8l-0.75,0.8l-0.75,-0.8z" fill="#00ffff" fill-rule="evenodd"/>
<path d="M132.77,219.82l2.7,2.95l-2.7,2.95l-2.7,-2.95z M132.77,221.97l0.75,0.8l-0.75,0.8l-0.75,-0.8z" fill="#00ffff" fill-rule="evenodd"/>
<path d="M136.88,219.82l2.7,2.95l-2.7,2.95l-2.7,-2.95z M136.88,221.97l0.75,0.8l-0.75,0.8l-0.75,-0.8z" fill="#00ffff" fill-rule="evenodd"/>
<path d="M141.00,219.82l2.7,2.95l-2.7,2.95l-2.7,-2.95z M141.00,221.97l0.75,0.8l-0.75,0.8l-0.75,-0.8z" fill="#00ffff" fill-rule="evenodd"/>
<path d="M145.12,222.45l2.7,2.95l-2.7,2.95l-2.7,-2.95z M145.12,224.60l0.75,0.8l-0.75,0.8l-0.75,-0.8z" fill="#00ffff" fill-rule="evenodd"/>
<path d="M149.23,223.28l2.7,2.95l-2.7,2.95l-2.7,-2.95z M149.23,225.43l0.75,0.8l-0.75,0.8l-0.75,-0.8z" fill="#00ffff" fill-rule="evenodd"/>
<path d="M153.35,222.45l2.7,2.95l-2.7,2.95l-2.7,-2.95z M153.35,224.60l0.75,0.8l-0.75,0.8l-0.75,-0.8z" fill="#00ffff" fill-rule="evenodd"/>
<path d="M157.47,223.28l2.7,2.95l-2.7,2.95l-2.7,-2.95z M157.47,225.43l0.75,0.8l-0.75,0.8l-0.75,-0.8z" fill="#00ffff" fill-rule="evenodd"/>
<path d="M161.58,224.10l2.7,2.95l-2.7,2.95l-2.7,-2.95z M161.58,226.25l0.75,0.8l-0.75,0.8l-0.75,-0.8z" fill="#00ffff" fill-rule="evenodd"/>
<path d="M165.70,225.91l2.7,2.95l-2.7,2.95l-2.7,-2.95z M165.70,228.06l0.75,0.8l-0.75,0.8l-0.75,-0.8z" fill="#00ffff" fill-rule="evenodd"/>
<path d="M169.82,229.04l2.7,2.95l-2.7,2.95l-2.7,-2.95z M169.82,231.19l0.75,0.8l-0.75,0.8l-0.75,-0.8z" fill="#00ffff" fill-rule="evenodd"/>
<path d="M173.93,257.51l2.7,2.95l-2.7,2.95l-2.7,-2.95z M173.93,259.66l0.75,0.8l-0.75,0.8l-0.75,-0.8z" fill="#00ffff" fill-rule="evenodd"/>
<path d="M178.05,229.04l2.7,2.95l-2.7,2.95l-2.7,-2.95z M178.05,231.19l0.75,0.8l-0.75,0.8l-0.75,-0.8z" fill="#00ffff" fill-rule="evenodd"/>
<path d="M182.17,215.38l2.7,2.95l-2.7,2.95l-2.7,-2.95z M182.17,217.53l0.75,0.8l-0.75,0.8l-0.75,-0.8z" fill="#00ffff" fill-rule="evenodd"/>
<path d="M186.28,213.57l2.7,2.95l-2.7,2.95l-2.7,-2.95z M186.28,215.72l0.75,0.8l-0.75,0.8l-0.75,-0.8z" fill="#00ffff" fill-rule="evenodd"/>
<path d="M190.40,223.77l2.7,2.95l-2.7,2.95l-2.7,-2.95z M190.40,225.92l0.75,0.8l-0.75,0.8l-0.75,-0.8z" fill="#00ffff" fill-rule="evenodd"/>
<path d="M194.52,253.06l2.7,2.95l-2.7,2.95l-2.7,-2.95z M194.52,255.21l0.75,0.8l-0.75,0.8l-0.75,-0.8z" fill="#00ffff" fill-rule="evenodd"/>
<path d="M198.63,230.35l2.7,2.95l-2.7,2.95l-2.7,-2.95z M198.63,232.50l0.75,0.8l-0.75,0.8l-0.75,-0.8z" fill="#00ffff" fill-rule="evenodd"/>
<path d="M202.75,222.45l2.7,2.95l-2.7,2.95l-2.7,-2.95z M202.75,224.60l0.75,0.8l-0.75,0.8l-0.75,-0.8z" fill="#00ffff" fill-rule="evenodd"/>
<path d="M206.87,256.68l2.7,2.95l-2.7,2.95l-2.7,-2.95z M206.87,258.83l0.75,0.8l-0.75,0.8l-0.75,-0.8z" fill="#00ffff" fill-rule="evenodd"/>
<path d="M210.98,231.18l2.7,2.95l-2.7,2.95l-2.7,-2.95z M210.98,233.33l0.75,0.8l-0.75,0.8l-0.75,-0.8z" fill="#00ffff" fill-rule="evenodd"/>
<path d="M215.10,222.45l2.7,2.95l-2.7,2.95l-2.7,-2.95z M215.10,224.60l0.75,0.8l-0.75,0.8l-0.75,-0.8z" fill="#00ffff" fill-rule="evenodd"/>
<path d="M219.22,223.28l2.7,2.95l-2.7,2.95l-2.7,-2.95z M219.22,225.43l0.75,0.8l-0.75,0.8l-0.75,-0.8z" fill="#00ffff" fill-rule="evenodd"/>
<path d="M223.33,219.82l2.7,2.95l-2.7,2.95l-2.7,-2.95z M223.33,221.97l0.75,0.8l-0.75,0.8l-0.75,-0.8z" fill="#00ffff" fill-rule="evenodd"/>
<path d="M227.45,217.19l2.7,2.95l-2.7,2.95l-2.7,-2.95z M227.45,219.34l0.75,0.8l-0.75,0.8l-0.75,-0.8z" fill="#00ffff" fill-rule="evenodd"/>
<path d="M231.57,219.82l2.7,2.95l-2.7,2.95l-2.7,-2.95z M231.57,221.97l0.75,0.8l-0.75,0.8l-0.75,-0.8z" fill="#00ffff" fill-rule="evenodd"/>
<path d="M235.68,219.82l2.7,2.95l-2.7,2.95l-2.7,-2.95z M235.68,221.97l0.75,0.8l-0.75,0.8l-0.75,-0.8z" fill="#00ffff" fill-rule="evenodd"/>
<path d="M239.80,222.45l2.7,2.95l-2.7,2.95l-2.7,-2.95z M239.80,224.60l0.75,0.8l-0.75,0.8l-0.75,-0.8z" fill="#00ffff" fill-rule="evenodd"/>
<path d="M243.92,239.08l2.7,2.95l-2.7,2.95l-2.7,-2.95z M243.92,241.23l0.75,0.8l-0.75,0.8l-0.75,-0.8z" fill="#00ffff" fill-rule="evenodd"/>
<path d="M248.03,226.73l2.7,2.95l-2.7,2.95l-2.7,-2.95z M248.03,228.88l0.75,0.8l-0.75,0.8l-0.75,-0.8z" fill="#00ffff" fill-rule="evenodd"/>
<path d="M252.15,219.82l2.7,2.95l-2.7,2.95l-2.7,-2.95z M252.15,221.97l0.75,0.8l-0.75,0.8l-0.75,-0.8z" fill="#00ffff" fill-rule="evenodd"/>
<path d="M256.27,223.77l2.7,2.95l-2.7,2.95l-2.7,-2.95z M256.27,225.92l0.75,0.8l-0.75,0.8l-0.75,-0.8z" fill="#00ffff" fill-rule="evenodd"/>
<path d="M260.38,225.58l2.7,2.95l-2.7,2.95l-2.7,-2.95z M260.38,227.73l0.75,0.8l-0.75,0.8l-0.75,-0.8z" fill="#00ffff" fill-rule="evenodd"/>
<path d="M264.50,229.04l2.7,2.95l-2.7,2.95l-2.7,-2.95z M264.50,231.19l0.75,0.8l-0.75,0.8l-0.75,-0.8z" fill="#00ffff" fill-rule="evenodd"/>
<path d="M268.62,255.70l2.7,2.95l-2.7,2.95l-2.7,-2.95z M268.62,257.85l0.75,0.8l-0.75,0.8l-0.75,-0.8z" fill="#00ffff" fill-rule="evenodd"/>
<path d="M272.73,231.18l2.7,2.95l-2.7,2.95l-2.7,-2.95z M272.73,233.33l0.75,0.8l-0.75,0.8l-0.75,-0.8z" fill="#00ffff" fill-rule="evenodd"/>
<path d="M276.85,227.23l2.7,2.95l-2.7,2.95l-2.7,-2.95z M276.85,229.38l0.75,0.8l-0.75,0.8l-0.75,-0.8z" fill="#00ffff" fill-rule="evenodd"/>
<path d="M280.97,229.04l2.7,2.95l-2.7,2.95l-2.7,-2.95z M280.97,231.19l0.75,0.8l-0.75,0.8l-0.75,-0.8z" fill="#00ffff" fill-rule="evenodd"/>
<path d="M285.08,234.30l2.7,2.95l-2.7,2.95l-2.7,-2.95z M285.08,236.45l0.75,0.8l-0.75,0.8l-0.75,-0.8z" fill="#00ffff" fill-rule="evenodd"/>
<path d="M289.20,253.06l2.7,2.95l-2.7,2.95l-2.7,-2.95z M289.20,255.21l0.75,0.8l-0.75,0.8l-0.75,-0.8z" fill="#00ffff" fill-rule="evenodd"/>
<path d="M293.32,229.86l2.7,2.95l-2.7,2.95l-2.7,-2.95z M293.32,232.01l0.75,0.8l-0.75,0.8l-0.75,-0.8z" fill="#00ffff" fill-rule="evenodd"/>
<path d="M297.43,226.73l2.7,2.95l-2.7,2.95l-2.7,-2.95z M297.43,228.88l0.75,0.8l-0.75,0.8l-0.75,-0.8z" fill="#00ffff" fill-rule="evenodd"/>
<path d="M301.55,226.73l2.7,2.95l-2.7,2.95l-2.7,-2.95z M301.55,228.88l0.75,0.8l-0.75,0.8l-0.75,-0.8z" fill="#00ffff" fill-rule="evenodd"/>
<path d="M305.67,224.10l2.7,2.95l-2.7,2.95l-2.7,-2.95z M305.67,226.25l0.75,0.8l-0.75,0.8l-0.75,-0.8z" fill="#00ffff" fill-rule="evenodd"/>
<path d="M309.78,223.77l2.7,2.95l-2.7,2.95l-2.7,-2.95z M309.78,225.92l0.75,0.8l-0.75,0.8l-0.75,-0.8z" fill="#00ffff" fill-rule="evenodd"/>
<path d="M313.90,225.91l2.7,2.95l-2.7,2.95l-2.7,-2.95z M313.90,228.06l0.75,0.8l-0.75,0.8l-0.75,-0.8z" fill="#00ffff" fill-rule="evenodd"/>
<path d="M318.02,223.77l2.7,2.95l-2.7,2.95l-2.7,-2.95z M318.02,225.92l0.75,0.8l-0.75,0.8l-0.75,-0.8z" fill="#00ffff" fill-rule="evenodd"/>
<path d="M322.13,224.10l2.7,2.95l-2.7,2.95l-2.7,-2.95z M322.13,226.25l0.75,0.8l-0.75,0.8l-0.75,-0.8z" fill="#00ffff" fill-rule="evenodd"/>
<path d="M326.25,217.19l2.7,2.95l-2.7,2.95l-2.7,-2.95z M326.25,219.34l0.75,0.8l-0.75,0.8l-0.75,-0.8z" fill="#00ffff" fill-rule="evenodd"/>
<path d="M330.37,216.20l2.7,2.95l-2.7,2.95l-2.7,-2.95z M330.37,218.35l0.75,0.8l-0.75,0.8l-0.75,-0.8z" fill="#00ffff" fill-rule="evenodd"/>
<path d="M334.48,214.55l2.7,2.95l-2.7,2.95l-2.7,-2.95z M334.48,216.70l0.75,0.8l-0.75,0.8l-0.75,-0.8z" fill="#00ffff" fill-rule="evenodd"/>
<path d="M338.60,212.74l2.7,2.95l-2.7,2.95l-2.7,-2.95z M338.60,214.89l0.75,0.8l-0.75,0.8l-0.75,-0.8z" fill="#00ffff" fill-rule="evenodd"/>
<path d="M342.72,224.10l2.7,2.95l-2.7,2.95l-2.7,-2.95z M342.72,226.25l0.75,0.8l-0.75,0.8l-0.75,-0.8z" fill="#00ffff" fill-rule="evenodd"/>
<path d="M346.83,220.64l2.7,2.95l-2.7,2.95l-2.7,-2.95z M346.83,222.79l0.75,0.8l-0.75,0.8l-0.75,-0.8z" fill="#00ffff" fill-rule="evenodd"/>
<path d="M350.95,250.76l2.7,2.95l-2.7,2.95l-2.7,-2.95z M350.95,252.91l0.75,0.8l-0.75,0.8l-0.75,-0.8z" fill="#00ffff" fill-rule="evenodd"/>
<path d="M355.07,227.23l2.7,2.95l-2.7,2.95l-2.7,-2.95z M355.07,229.38l0.75,0.8l-0.75,0.8l-0.75,-0.8z" fill="#00ffff" fill-rule="evenodd"/>
<path d="M359.18,224.10l2.7,2.95l-2.7,2.95l-2.7,-2.95z M359.18,226.25l0.75,0.8l-0.75,0.8l-0.75,-0.8z" fill="#00ffff" fill-rule="evenodd"/>
<path d="M363.30,228.05l2.7,2.95l-2.7,2.95l-2.7,-2.95z M363.30,230.20l0.75,0.8l-0.75,0.8l-0.75,-0.8z" fill="#00ffff" fill-rule="evenodd"/>
<path d="M367.42,229.04l2.7,2.95l-2.7,2.95l-2.7,-2.95z M367.42,231.19l0.75,0.8l-0.75,0.8l-0.75,-0.8z" fill="#00ffff" fill-rule="evenodd"/>
<path d="M371.53,239.08l2.7,2.95l-2.7,2.95l-2.7,-2.95z M371.53,241.23l0.75,0.8l-0.75,0.8l-0.75,-0.8z" fill="#00ffff" fill-rule="evenodd"/>
<path d="M375.65,227.72l2.7,2.95l-2.7,2.95l-2.7,-2.95z M375.65,229.87l0.75,0.8l-0.75,0.8l-0.75,-0.8z" fill="#00ffff" fill-rule="evenodd"/>
<path d="M379.77,224.10l2.7,2.95l-2.7,2.95l-2.7,-2.95z M379.77,226.25l0.75,0.8l-0.75,0.8l-0.75,-0.8z" fill="#00ffff" fill-rule="evenodd"/>
<path d="M383.88,227.23l2.7,2.95l-2.7,2.95l-2.7,-2.95z M383.88,229.38l0.75,0.8l-0.75,0.8l-0.75,-0.8z" fill="#00ffff" fill-rule="evenodd"/>
<path d="M388.00,225.09l2.7,2.95l-2.7,2.95l-2.7,-2.95z M388.00,227.24l0.75,0.8l-0.75,0.8l-0.75,-0.8z" fill="#00ffff" fill-rule="evenodd"/>
<path d="M392.12,223.28l2.7,2.95l-2.7,2.95l-2.7,-2.95z M392.12,225.43l0.75,0.8l-0.75,0.8l-0.75,-0.8z" fill="#00ffff" fill-rule="evenodd"/>
<path d="M396.23,221.47l2.7,2.95l-2.7,2.95l-2.7,-2.95z M396.23,223.62l0.75,0.8l-0.75,0.8l-0.75,-0.8z" fill="#00ffff" fill-rule="evenodd"/>
<path d="M400.35,225.09l2.7,2.95l-2.7,2.95l-2.7,-2.95z M400.35,227.24l0.75,0.8l-0.75,0.8l-0.75,-0.8z" fill="#00ffff" fill-rule="evenodd"/>
<path d="M404.47,225.91l2.7,2.95l-2.7,2.95l-2.7,-2.95z M404.47,228.06l0.75,0.8l-0.75,0.8l-0.75,-0.8z" fill="#00ffff" fill-rule="evenodd"/>
<path d="M408.58,225.91l2.7,2.95l-2.7,2.95l-2.7,-2.95z M408.58,228.06l0.75,0.8l-0.75,0.8l-0.75,-0.8z" fill="#00ffff" fill-rule="evenodd"/>
<path d="M412.70,254.87l2.7,2.95l-2.7,2.95l-2.7,-2.95z M412.70,257.02l0.75,0.8l-0.75,0.8l-0.75,-0.8z" fill="#00ffff" fill-rule="evenodd"/>
<path d="M416.82,229.04l2.7,2.95l-2.7,2.95l-2.7,-2.95z M416.82,231.19l0.75,0.8l-0.75,0.8l-0.75,-0.8z" fill="#00ffff" fill-rule="evenodd"/>
<path d="M420.93,227.72l2.7,2.95l-2.7,2.95l-2.7,-2.95z M420.93,229.87l0.75,0.8l-0.75,0.8l-0.75,-0.8z" fill="#00ffff" fill-rule="evenodd"/>
<path d="M425.05,228.54l2.7,2.95l-2.7,2.95l-2.7,-2.95z M425.05,230.69l0.75,0.8l-0.75,0.8l-0.75,-0.8z" fill="#00ffff" fill-rule="evenodd"/>
<path d="M429.17,221.47l2.7,2.95l-2.7,2.95l-2.7,-2.95z M429.17,223.62l0.75,0.8l-0.75,0.8l-0.75,-0.8z" fill="#00ffff" fill-rule="evenodd"/>
<line x1="55.36" y1="325.03" x2="55.36" y2="368.00" stroke="#b98a8a" stroke-width="1.9"/>
<line x1="59.48" y1="325.03" x2="59.48" y2="368.00" stroke="#b98a8a" stroke-width="1.9"/>
<line x1="63.60" y1="325.03" x2="63.60" y2="368.00" stroke="#b98a8a" stroke-width="1.9"/>
<line x1="67.73" y1="325.03" x2="67.73" y2="368.00" stroke="#b98a8a" stroke-width="1.9"/>
<line x1="71.85" y1="325.03" x2="71.85" y2="370.48" stroke="#b98a8a" stroke-width="1.9"/>
<line x1="75.97" y1="325.03" x2="75.97" y2="370.48" stroke="#b98a8a" stroke-width="1.9"/>
<line x1="80.09" y1="325.03" x2="80.09" y2="370.48" stroke="#b98a8a" stroke-width="1.9"/>
<line x1="84.21" y1="325.03" x2="84.21" y2="370.48" stroke="#b98a8a" stroke-width="1.9"/>
<line x1="88.33" y1="325.03" x2="88.33" y2="370.48" stroke="#b98a8a" stroke-width="1.9"/>
<line x1="92.45" y1="325.03" x2="92.45" y2="370.48" stroke="#b98a8a" stroke-width="1.9"/>
<line x1="96.57" y1="325.03" x2="96.57" y2="370.48" stroke="#b98a8a" stroke-width="1.9"/>
<line x1="100.69" y1="325.03" x2="100.69" y2="370.48" stroke="#b98a8a" stroke-width="1.9"/>
<line x1="108.93" y1="325.03" x2="108.93" y2="370.48" stroke="#b98a8a" stroke-width="1.9"/>
<line x1="113.05" y1="325.03" x2="113.05" y2="370.48" stroke="#b98a8a" stroke-width="1.9"/>
<line x1="117.17" y1="325.03" x2="117.17" y2="370.48" stroke="#b98a8a" stroke-width="1.9"/>
<line x1="121.30" y1="325.03" x2="121.30" y2="384.70" stroke="#b98a8a" stroke-width="1.9"/>
<line x1="125.42" y1="325.03" x2="125.42" y2="370.48" stroke="#b98a8a" stroke-width="1.9"/>
<line x1="129.54" y1="325.03" x2="129.54" y2="370.48" stroke="#b98a8a" stroke-width="1.9"/>
<line x1="133.66" y1="325.03" x2="133.66" y2="370.48" stroke="#b98a8a" stroke-width="1.9"/>
<line x1="137.78" y1="325.03" x2="137.78" y2="370.48" stroke="#b98a8a" stroke-width="1.9"/>
<line x1="141.90" y1="325.03" x2="141.90" y2="370.48" stroke="#b98a8a" stroke-width="1.9"/>
<line x1="146.02" y1="325.03" x2="146.02" y2="384.70" stroke="#b98a8a" stroke-width="1.9"/>
<line x1="154.26" y1="325.03" x2="154.26" y2="370.48" stroke="#b98a8a" stroke-width="1.9"/>
<line x1="170.75" y1="325.03" x2="170.75" y2="370.48" stroke="#b98a8a" stroke-width="1.9"/>
<line x1="174.87" y1="325.03" x2="174.87" y2="370.48" stroke="#b98a8a" stroke-width="1.9"/>
<line x1="178.99" y1="325.03" x2="178.99" y2="370.48" stroke="#b98a8a" stroke-width="1.9"/>
<line x1="183.11" y1="325.03" x2="183.11" y2="370.48" stroke="#b98a8a" stroke-width="1.9"/>
<line x1="187.23" y1="325.03" x2="187.23" y2="370.48" stroke="#b98a8a" stroke-width="1.9"/>
<line x1="191.35" y1="325.03" x2="191.35" y2="370.48" stroke="#b98a8a" stroke-width="1.9"/>
<line x1="195.47" y1="325.03" x2="195.47" y2="370.48" stroke="#b98a8a" stroke-width="1.9"/>
<line x1="199.59" y1="325.03" x2="199.59" y2="370.48" stroke="#b98a8a" stroke-width="1.9"/>
<line x1="203.71" y1="325.03" x2="203.71" y2="370.48" stroke="#b98a8a" stroke-width="1.9"/>
<line x1="207.83" y1="325.03" x2="207.83" y2="370.48" stroke="#b98a8a" stroke-width="1.9"/>
<line x1="211.95" y1="325.03" x2="211.95" y2="370.48" stroke="#b98a8a" stroke-width="1.9"/>
<line x1="216.08" y1="325.03" x2="216.08" y2="370.48" stroke="#b98a8a" stroke-width="1.9"/>
<line x1="220.20" y1="325.03" x2="220.20" y2="370.48" stroke="#b98a8a" stroke-width="1.9"/>
<line x1="224.32" y1="325.03" x2="224.32" y2="370.48" stroke="#b98a8a" stroke-width="1.9"/>
<line x1="228.44" y1="325.03" x2="228.44" y2="370.48" stroke="#b98a8a" stroke-width="1.9"/>
<line x1="236.68" y1="325.03" x2="236.68" y2="389.99" stroke="#b98a8a" stroke-width="1.9"/>
<line x1="240.80" y1="325.03" x2="240.80" y2="370.48" stroke="#b98a8a" stroke-width="1.9"/>
<line x1="249.04" y1="325.03" x2="249.04" y2="370.48" stroke="#b98a8a" stroke-width="1.9"/>
<line x1="253.16" y1="325.03" x2="253.16" y2="370.48" stroke="#b98a8a" stroke-width="1.9"/>
<line x1="257.28" y1="325.03" x2="257.28" y2="370.48" stroke="#b98a8a" stroke-width="1.9"/>
<line x1="261.40" y1="325.03" x2="261.40" y2="370.48" stroke="#b98a8a" stroke-width="1.9"/>
<line x1="265.52" y1="325.03" x2="265.52" y2="370.48" stroke="#b98a8a" stroke-width="1.9"/>
<line x1="269.65" y1="325.03" x2="269.65" y2="370.48" stroke="#b98a8a" stroke-width="1.9"/>
<line x1="273.77" y1="325.03" x2="273.77" y2="370.48" stroke="#b98a8a" stroke-width="1.9"/>
<line x1="277.89" y1="325.03" x2="277.89" y2="370.48" stroke="#b98a8a" stroke-width="1.9"/>
<line x1="282.01" y1="325.03" x2="282.01" y2="370.48" stroke="#b98a8a" stroke-width="1.9"/>
<line x1="286.13" y1="325.03" x2="286.13" y2="370.48" stroke="#b98a8a" stroke-width="1.9"/>
<line x1="290.25" y1="325.03" x2="290.25" y2="377.92" stroke="#b98a8a" stroke-width="1.9"/>
<line x1="294.37" y1="325.03" x2="294.37" y2="370.48" stroke="#b98a8a" stroke-width="1.9"/>
<line x1="298.49" y1="325.03" x2="298.49" y2="370.48" stroke="#b98a8a" stroke-width="1.9"/>
<line x1="302.61" y1="325.03" x2="302.61" y2="370.48" stroke="#b98a8a" stroke-width="1.9"/>
<line x1="306.73" y1="325.03" x2="306.73" y2="370.48" stroke="#b98a8a" stroke-width="1.9"/>
<line x1="319.10" y1="325.03" x2="319.10" y2="370.48" stroke="#b98a8a" stroke-width="1.9"/>
<line x1="323.22" y1="325.03" x2="323.22" y2="370.48" stroke="#b98a8a" stroke-width="1.9"/>
<line x1="327.34" y1="325.03" x2="327.34" y2="370.48" stroke="#b98a8a" stroke-width="1.9"/>
<line x1="331.46" y1="325.03" x2="331.46" y2="370.48" stroke="#b98a8a" stroke-width="1.9"/>
<line x1="335.58" y1="325.03" x2="335.58" y2="370.48" stroke="#b98a8a" stroke-width="1.9"/>
<line x1="339.70" y1="325.03" x2="339.70" y2="370.48" stroke="#b98a8a" stroke-width="1.9"/>
<line x1="343.82" y1="325.03" x2="343.82" y2="370.48" stroke="#b98a8a" stroke-width="1.9"/>
<line x1="347.94" y1="325.03" x2="347.94" y2="370.48" stroke="#b98a8a" stroke-width="1.9"/>
<line x1="352.06" y1="325.03" x2="352.06" y2="370.48" stroke="#b98a8a" stroke-width="1.9"/>
<line x1="356.18" y1="325.03" x2="356.18" y2="370.48" stroke="#b98a8a" stroke-width="1.9"/>
<line x1="360.30" y1="325.03" x2="360.30" y2="370.48" stroke="#b98a8a" stroke-width="1.9"/>
<line x1="364.43" y1="325.03" x2="364.43" y2="370.48" stroke="#b98a8a" stroke-width="1.9"/>
<line x1="368.55" y1="325.03" x2="368.55" y2="370.48" stroke="#b98a8a" stroke-width="1.9"/>
<line x1="376.79" y1="325.03" x2="376.79" y2="370.48" stroke="#b98a8a" stroke-width="1.9"/>
<line x1="380.91" y1="325.03" x2="380.91" y2="370.48" stroke="#b98a8a" stroke-width="1.9"/>
<line x1="385.03" y1="325.03" x2="385.03" y2="370.48" stroke="#b98a8a" stroke-width="1.9"/>
<line x1="397.39" y1="325.03" x2="397.39" y2="370.48" stroke="#b98a8a" stroke-width="1.9"/>
<line x1="401.51" y1="325.03" x2="401.51" y2="370.48" stroke="#b98a8a" stroke-width="1.9"/>
<line x1="405.63" y1="325.03" x2="405.63" y2="370.48" stroke="#b98a8a" stroke-width="1.9"/>
<line x1="409.75" y1="325.03" x2="409.75" y2="370.48" stroke="#b98a8a" stroke-width="1.9"/>
<line x1="413.88" y1="325.03" x2="413.88" y2="390.65" stroke="#b98a8a" stroke-width="1.9"/>
<line x1="418.00" y1="325.03" x2="418.00" y2="370.48" stroke="#b98a8a" stroke-width="1.9"/>
<line x1="422.12" y1="325.03" x2="422.12" y2="370.48" stroke="#b98a8a" stroke-width="1.9"/>
<line x1="426.24" y1="325.03" x2="426.24" y2="370.48" stroke="#b98a8a" stroke-width="1.9"/>
<line x1="430.36" y1="325.03" x2="430.36" y2="370.48" stroke="#b98a8a" stroke-width="1.9"/>
<circle cx="55.36" cy="372.13" r="2.55" fill="none" stroke="#009000" stroke-width="1.8"/>
<circle cx="59.48" cy="367.67" r="2.55" fill="none" stroke="#009000" stroke-width="1.8"/>
<circle cx="63.60" cy="372.13" r="2.55" fill="none" stroke="#009000" stroke-width="1.8"/>
<circle cx="67.73" cy="372.96" r="2.55" fill="none" stroke="#009000" stroke-width="1.8"/>
<circle cx="71.85" cy="377.92" r="2.55" fill="none" stroke="#009000" stroke-width="1.8"/>
<circle cx="75.97" cy="371.31" r="2.55" fill="none" stroke="#009000" stroke-width="1.8"/>
<circle cx="80.09" cy="374.45" r="2.55" fill="none" stroke="#009000" stroke-width="1.8"/>
<circle cx="84.21" cy="364.37" r="2.55" fill="none" stroke="#009000" stroke-width="1.8"/>
<circle cx="88.33" cy="382.71" r="2.55" fill="none" stroke="#009000" stroke-width="1.8"/>
<circle cx="92.45" cy="386.68" r="2.55" fill="none" stroke="#009000" stroke-width="1.8"/>
<circle cx="96.57" cy="374.61" r="2.55" fill="none" stroke="#009000" stroke-width="1.8"/>
<circle cx="100.69" cy="377.09" r="2.55" fill="none" stroke="#009000" stroke-width="1.8"/>
<circle cx="108.93" cy="371.31" r="2.55" fill="none" stroke="#009000" stroke-width="1.8"/>
<circle cx="113.05" cy="371.31" r="2.55" fill="none" stroke="#009000" stroke-width="1.8"/>
<circle cx="117.17" cy="368.33" r="2.55" fill="none" stroke="#009000" stroke-width="1.8"/>
<circle cx="121.30" cy="376.27" r="2.55" fill="none" stroke="#009000" stroke-width="1.8"/>
<circle cx="125.42" cy="372.13" r="2.55" fill="none" stroke="#009000" stroke-width="1.8"/>
<circle cx="129.54" cy="365.69" r="2.55" fill="none" stroke="#009000" stroke-width="1.8"/>
<circle cx="133.66" cy="360.40" r="2.55" fill="none" stroke="#009000" stroke-width="1.8"/>
<circle cx="137.78" cy="369.66" r="2.55" fill="none" stroke="#009000" stroke-width="1.8"/>
<circle cx="141.90" cy="355.61" r="2.55" fill="none" stroke="#009000" stroke-width="1.8"/>
<circle cx="146.02" cy="371.31" r="2.55" fill="none" stroke="#009000" stroke-width="1.8"/>
<circle cx="154.26" cy="363.71" r="2.55" fill="none" stroke="#009000" stroke-width="1.8"/>
<circle cx="170.75" cy="364.70" r="2.55" fill="none" stroke="#009000" stroke-width="1.8"/>
<circle cx="174.87" cy="368.33" r="2.55" fill="none" stroke="#009000" stroke-width="1.8"/>
<circle cx="178.99" cy="374.61" r="2.55" fill="none" stroke="#009000" stroke-width="1.8"/>
<circle cx="183.11" cy="378.09" r="2.55" fill="none" stroke="#009000" stroke-width="1.8"/>
<circle cx="187.23" cy="384.04" r="2.55" fill="none" stroke="#009000" stroke-width="1.8"/>
<circle cx="191.35" cy="363.37" r="2.55" fill="none" stroke="#009000" stroke-width="1.8"/>
<circle cx="195.47" cy="384.53" r="2.55" fill="none" stroke="#009000" stroke-width="1.8"/>
<circle cx="199.59" cy="371.64" r="2.55" fill="none" stroke="#009000" stroke-width="1.8"/>
<circle cx="203.71" cy="377.42" r="2.55" fill="none" stroke="#009000" stroke-width="1.8"/>
<circle cx="207.83" cy="375.44" r="2.55" fill="none" stroke="#009000" stroke-width="1.8"/>
<circle cx="211.95" cy="371.31" r="2.55" fill="none" stroke="#009000" stroke-width="1.8"/>
<circle cx="216.08" cy="383.37" r="2.55" fill="none" stroke="#009000" stroke-width="1.8"/>
<circle cx="220.20" cy="386.02" r="2.55" fill="none" stroke="#009000" stroke-width="1.8"/>
<circle cx="224.32" cy="369.66" r="2.55" fill="none" stroke="#009000" stroke-width="1.8"/>
<circle cx="228.44" cy="371.80" r="2.55" fill="none" stroke="#009000" stroke-width="1.8"/>
<circle cx="236.68" cy="371.31" r="2.55" fill="none" stroke="#009000" stroke-width="1.8"/>
<circle cx="240.80" cy="366.35" r="2.55" fill="none" stroke="#009000" stroke-width="1.8"/>
<circle cx="249.04" cy="372.96" r="2.55" fill="none" stroke="#009000" stroke-width="1.8"/>
<circle cx="253.16" cy="378.09" r="2.55" fill="none" stroke="#009000" stroke-width="1.8"/>
<circle cx="257.28" cy="369.66" r="2.55" fill="none" stroke="#009000" stroke-width="1.8"/>
<circle cx="261.40" cy="366.35" r="2.55" fill="none" stroke="#009000" stroke-width="1.8"/>
<circle cx="265.52" cy="363.71" r="2.55" fill="none" stroke="#009000" stroke-width="1.8"/>
<circle cx="269.65" cy="371.31" r="2.55" fill="none" stroke="#009000" stroke-width="1.8"/>
<circle cx="273.77" cy="370.65" r="2.55" fill="none" stroke="#009000" stroke-width="1.8"/>
<circle cx="277.89" cy="372.30" r="2.55" fill="none" stroke="#009000" stroke-width="1.8"/>
<circle cx="282.01" cy="366.35" r="2.55" fill="none" stroke="#009000" stroke-width="1.8"/>
<circle cx="286.13" cy="364.70" r="2.55" fill="none" stroke="#009000" stroke-width="1.8"/>
<circle cx="290.25" cy="376.27" r="2.55" fill="none" stroke="#009000" stroke-width="1.8"/>
<circle cx="294.37" cy="372.13" r="2.55" fill="none" stroke="#009000" stroke-width="1.8"/>
<circle cx="298.49" cy="375.61" r="2.55" fill="none" stroke="#009000" stroke-width="1.8"/>
<circle cx="302.61" cy="366.35" r="2.55" fill="none" stroke="#009000" stroke-width="1.8"/>
<circle cx="306.73" cy="366.35" r="2.55" fill="none" stroke="#009000" stroke-width="1.8"/>
<circle cx="319.10" cy="368.33" r="2.55" fill="none" stroke="#009000" stroke-width="1.8"/>
<circle cx="323.22" cy="367.67" r="2.55" fill="none" stroke="#009000" stroke-width="1.8"/>
<circle cx="327.34" cy="384.70" r="2.55" fill="none" stroke="#009000" stroke-width="1.8"/>
<circle cx="331.46" cy="390.65" r="2.55" fill="none" stroke="#009000" stroke-width="1.8"/>
<circle cx="335.58" cy="376.27" r="2.55" fill="none" stroke="#009000" stroke-width="1.8"/>
<circle cx="339.70" cy="373.79" r="2.55" fill="none" stroke="#009000" stroke-width="1.8"/>
<circle cx="343.82" cy="359.74" r="2.55" fill="none" stroke="#009000" stroke-width="1.8"/>
<circle cx="347.94" cy="375.44" r="2.55" fill="none" stroke="#009000" stroke-width="1.8"/>
<circle cx="352.06" cy="376.27" r="2.55" fill="none" stroke="#009000" stroke-width="1.8"/>
<circle cx="356.18" cy="372.30" r="2.55" fill="none" stroke="#009000" stroke-width="1.8"/>
<circle cx="360.30" cy="368.33" r="2.55" fill="none" stroke="#009000" stroke-width="1.8"/>
<circle cx="364.43" cy="367.18" r="2.55" fill="none" stroke="#009000" stroke-width="1.8"/>
<circle cx="368.55" cy="363.04" r="2.55" fill="none" stroke="#009000" stroke-width="1.8"/>
<circle cx="376.79" cy="372.96" r="2.55" fill="none" stroke="#009000" stroke-width="1.8"/>
<circle cx="380.91" cy="370.48" r="2.55" fill="none" stroke="#009000" stroke-width="1.8"/>
<circle cx="385.03" cy="361.72" r="2.55" fill="none" stroke="#009000" stroke-width="1.8"/>
<circle cx="397.39" cy="379.24" r="2.55" fill="none" stroke="#009000" stroke-width="1.8"/>
<circle cx="401.51" cy="375.77" r="2.55" fill="none" stroke="#009000" stroke-width="1.8"/>
<circle cx="405.63" cy="365.52" r="2.55" fill="none" stroke="#009000" stroke-width="1.8"/>
<circle cx="409.75" cy="371.31" r="2.55" fill="none" stroke="#009000" stroke-width="1.8"/>
<circle cx="413.88" cy="373.79" r="2.55" fill="none" stroke="#009000" stroke-width="1.8"/>
<circle cx="418.00" cy="373.79" r="2.55" fill="none" stroke="#009000" stroke-width="1.8"/>
<circle cx="422.12" cy="362.38" r="2.55" fill="none" stroke="#009000" stroke-width="1.8"/>
<circle cx="426.24" cy="368.00" r="2.55" fill="none" stroke="#009000" stroke-width="1.8"/>
<circle cx="430.36" cy="367.18" r="2.55" fill="none" stroke="#009000" stroke-width="1.8"/>
<rect x="53.36" y="369.64" width="4.0" height="4.0" fill="none" stroke="#0000ff" stroke-width="1.75"/>
<rect x="57.48" y="369.31" width="4.0" height="4.0" fill="none" stroke="#0000ff" stroke-width="1.75"/>
<rect x="61.60" y="369.64" width="4.0" height="4.0" fill="none" stroke="#0000ff" stroke-width="1.75"/>
<rect x="65.73" y="370.13" width="4.0" height="4.0" fill="none" stroke="#0000ff" stroke-width="1.75"/>
<rect x="69.85" y="377.41" width="4.0" height="4.0" fill="none" stroke="#0000ff" stroke-width="1.75"/>
<rect x="73.97" y="368.48" width="4.0" height="4.0" fill="none" stroke="#0000ff" stroke-width="1.75"/>
<rect x="78.09" y="369.64" width="4.0" height="4.0" fill="none" stroke="#0000ff" stroke-width="1.75"/>
<rect x="82.21" y="370.96" width="4.0" height="4.0" fill="none" stroke="#0000ff" stroke-width="1.75"/>
<rect x="86.33" y="372.45" width="4.0" height="4.0" fill="none" stroke="#0000ff" stroke-width="1.75"/>
<rect x="90.45" y="376.09" width="4.0" height="4.0" fill="none" stroke="#0000ff" stroke-width="1.75"/>
<rect x="94.57" y="373.44" width="4.0" height="4.0" fill="none" stroke="#0000ff" stroke-width="1.75"/>
<rect x="98.69" y="369.31" width="4.0" height="4.0" fill="none" stroke="#0000ff" stroke-width="1.75"/>
<rect x="106.93" y="365.67" width="4.0" height="4.0" fill="none" stroke="#0000ff" stroke-width="1.75"/>
<rect x="111.05" y="368.32" width="4.0" height="4.0" fill="none" stroke="#0000ff" stroke-width="1.75"/>
<rect x="115.17" y="368.48" width="4.0" height="4.0" fill="none" stroke="#0000ff" stroke-width="1.75"/>
<rect x="119.30" y="376.09" width="4.0" height="4.0" fill="none" stroke="#0000ff" stroke-width="1.75"/>
<rect x="123.42" y="371.62" width="4.0" height="4.0" fill="none" stroke="#0000ff" stroke-width="1.75"/>
<rect x="127.54" y="366.99" width="4.0" height="4.0" fill="none" stroke="#0000ff" stroke-width="1.75"/>
<rect x="131.66" y="371.62" width="4.0" height="4.0" fill="none" stroke="#0000ff" stroke-width="1.75"/>
<rect x="135.78" y="367.66" width="4.0" height="4.0" fill="none" stroke="#0000ff" stroke-width="1.75"/>
<rect x="139.90" y="368.48" width="4.0" height="4.0" fill="none" stroke="#0000ff" stroke-width="1.75"/>
<rect x="144.02" y="367.66" width="4.0" height="4.0" fill="none" stroke="#0000ff" stroke-width="1.75"/>
<rect x="152.26" y="370.30" width="4.0" height="4.0" fill="none" stroke="#0000ff" stroke-width="1.75"/>
<rect x="168.75" y="365.84" width="4.0" height="4.0" fill="none" stroke="#0000ff" stroke-width="1.75"/>
<rect x="172.87" y="371.62" width="4.0" height="4.0" fill="none" stroke="#0000ff" stroke-width="1.75"/>
<rect x="176.99" y="370.13" width="4.0" height="4.0" fill="none" stroke="#0000ff" stroke-width="1.75"/>
<rect x="181.11" y="372.94" width="4.0" height="4.0" fill="none" stroke="#0000ff" stroke-width="1.75"/>
<rect x="185.23" y="372.28" width="4.0" height="4.0" fill="none" stroke="#0000ff" stroke-width="1.75"/>
<rect x="189.35" y="368.32" width="4.0" height="4.0" fill="none" stroke="#0000ff" stroke-width="1.75"/>
<rect x="193.47" y="382.53" width="4.0" height="4.0" fill="none" stroke="#0000ff" stroke-width="1.75"/>
<rect x="197.59" y="369.64" width="4.0" height="4.0" fill="none" stroke="#0000ff" stroke-width="1.75"/>
<rect x="201.71" y="369.64" width="4.0" height="4.0" fill="none" stroke="#0000ff" stroke-width="1.75"/>
<rect x="205.83" y="376.75" width="4.0" height="4.0" fill="none" stroke="#0000ff" stroke-width="1.75"/>
<rect x="209.95" y="367.66" width="4.0" height="4.0" fill="none" stroke="#0000ff" stroke-width="1.75"/>
<rect x="214.08" y="366.66" width="4.0" height="4.0" fill="none" stroke="#0000ff" stroke-width="1.75"/>
<rect x="218.20" y="369.31" width="4.0" height="4.0" fill="none" stroke="#0000ff" stroke-width="1.75"/>
<rect x="222.32" y="366.33" width="4.0" height="4.0" fill="none" stroke="#0000ff" stroke-width="1.75"/>
<rect x="226.44" y="375.42" width="4.0" height="4.0" fill="none" stroke="#0000ff" stroke-width="1.75"/>
<rect x="234.68" y="367.99" width="4.0" height="4.0" fill="none" stroke="#0000ff" stroke-width="1.75"/>
<rect x="238.80" y="371.13" width="4.0" height="4.0" fill="none" stroke="#0000ff" stroke-width="1.75"/>
<rect x="247.04" y="370.96" width="4.0" height="4.0" fill="none" stroke="#0000ff" stroke-width="1.75"/>
<rect x="251.16" y="369.31" width="4.0" height="4.0" fill="none" stroke="#0000ff" stroke-width="1.75"/>
<rect x="255.28" y="365.67" width="4.0" height="4.0" fill="none" stroke="#0000ff" stroke-width="1.75"/>
<rect x="259.40" y="367.66" width="4.0" height="4.0" fill="none" stroke="#0000ff" stroke-width="1.75"/>
<rect x="263.52" y="364.35" width="4.0" height="4.0" fill="none" stroke="#0000ff" stroke-width="1.75"/>
<rect x="267.65" y="378.07" width="4.0" height="4.0" fill="none" stroke="#0000ff" stroke-width="1.75"/>
<rect x="271.77" y="367.66" width="4.0" height="4.0" fill="none" stroke="#0000ff" stroke-width="1.75"/>
<rect x="275.89" y="364.35" width="4.0" height="4.0" fill="none" stroke="#0000ff" stroke-width="1.75"/>
<rect x="280.01" y="366.33" width="4.0" height="4.0" fill="none" stroke="#0000ff" stroke-width="1.75"/>
<rect x="284.13" y="362.04" width="4.0" height="4.0" fill="none" stroke="#0000ff" stroke-width="1.75"/>
<rect x="288.25" y="380.71" width="4.0" height="4.0" fill="none" stroke="#0000ff" stroke-width="1.75"/>
<rect x="292.37" y="370.96" width="4.0" height="4.0" fill="none" stroke="#0000ff" stroke-width="1.75"/>
<rect x="296.49" y="376.09" width="4.0" height="4.0" fill="none" stroke="#0000ff" stroke-width="1.75"/>
<rect x="300.61" y="367.66" width="4.0" height="4.0" fill="none" stroke="#0000ff" stroke-width="1.75"/>
<rect x="304.73" y="367.66" width="4.0" height="4.0" fill="none" stroke="#0000ff" stroke-width="1.75"/>
<rect x="317.10" y="371.62" width="4.0" height="4.0" fill="none" stroke="#0000ff" stroke-width="1.75"/>
<rect x="321.22" y="368.48" width="4.0" height="4.0" fill="none" stroke="#0000ff" stroke-width="1.75"/>
<rect x="325.34" y="374.10" width="4.0" height="4.0" fill="none" stroke="#0000ff" stroke-width="1.75"/>
<rect x="329.46" y="372.45" width="4.0" height="4.0" fill="none" stroke="#0000ff" stroke-width="1.75"/>
<rect x="333.58" y="374.27" width="4.0" height="4.0" fill="none" stroke="#0000ff" stroke-width="1.75"/>
<rect x="337.70" y="378.73" width="4.0" height="4.0" fill="none" stroke="#0000ff" stroke-width="1.75"/>
<rect x="341.82" y="372.94" width="4.0" height="4.0" fill="none" stroke="#0000ff" stroke-width="1.75"/>
<rect x="345.94" y="372.61" width="4.0" height="4.0" fill="none" stroke="#0000ff" stroke-width="1.75"/>
<rect x="350.06" y="382.04" width="4.0" height="4.0" fill="none" stroke="#0000ff" stroke-width="1.75"/>
<rect x="354.18" y="374.10" width="4.0" height="4.0" fill="none" stroke="#0000ff" stroke-width="1.75"/>
<rect x="358.30" y="371.62" width="4.0" height="4.0" fill="none" stroke="#0000ff" stroke-width="1.75"/>
<rect x="362.43" y="355.09" width="4.0" height="4.0" fill="none" stroke="#0000ff" stroke-width="1.75"/>
<rect x="366.55" y="363.52" width="4.0" height="4.0" fill="none" stroke="#0000ff" stroke-width="1.75"/>
<rect x="374.79" y="369.97" width="4.0" height="4.0" fill="none" stroke="#0000ff" stroke-width="1.75"/>
<rect x="378.91" y="373.28" width="4.0" height="4.0" fill="none" stroke="#0000ff" stroke-width="1.75"/>
<rect x="383.03" y="365.01" width="4.0" height="4.0" fill="none" stroke="#0000ff" stroke-width="1.75"/>
<rect x="395.39" y="369.64" width="4.0" height="4.0" fill="none" stroke="#0000ff" stroke-width="1.75"/>
<rect x="399.51" y="363.69" width="4.0" height="4.0" fill="none" stroke="#0000ff" stroke-width="1.75"/>
<rect x="403.63" y="352.78" width="4.0" height="4.0" fill="none" stroke="#0000ff" stroke-width="1.75"/>
<rect x="407.75" y="363.03" width="4.0" height="4.0" fill="none" stroke="#0000ff" stroke-width="1.75"/>
<rect x="411.88" y="373.61" width="4.0" height="4.0" fill="none" stroke="#0000ff" stroke-width="1.75"/>
<rect x="416.00" y="370.96" width="4.0" height="4.0" fill="none" stroke="#0000ff" stroke-width="1.75"/>
<rect x="420.12" y="360.22" width="4.0" height="4.0" fill="none" stroke="#0000ff" stroke-width="1.75"/>
<rect x="424.24" y="355.09" width="4.0" height="4.0" fill="none" stroke="#0000ff" stroke-width="1.75"/>
<rect x="428.36" y="370.96" width="4.0" height="4.0" fill="none" stroke="#0000ff" stroke-width="1.75"/>
<path d="M55.36,369.96l3.45,5.7h-6.9z M55.36,373.36l0.7,1.1h-1.4z" fill="#ff0000" fill-rule="evenodd"/>
<path d="M59.48,366.66l3.45,5.7h-6.9z M59.48,370.06l0.7,1.1h-1.4z" fill="#ff0000" fill-rule="evenodd"/>
<path d="M63.60,371.94l3.45,5.7h-6.9z M63.60,375.34l0.7,1.1h-1.4z" fill="#ff0000" fill-rule="evenodd"/>
<path d="M67.73,370.62l3.45,5.7h-6.9z M67.73,374.02l0.7,1.1h-1.4z" fill="#ff0000" fill-rule="evenodd"/>
<path d="M71.85,374.92l3.45,5.7h-6.9z M71.85,378.32l0.7,1.1h-1.4z" fill="#ff0000" fill-rule="evenodd"/>
<path d="M75.97,367.48l3.45,5.7h-6.9z M75.97,370.88l0.7,1.1h-1.4z" fill="#ff0000" fill-rule="evenodd"/>
<path d="M80.09,373.76l3.45,5.7h-6.9z M80.09,377.16l0.7,1.1h-1.4z" fill="#ff0000" fill-rule="evenodd"/>
<path d="M84.21,365.33l3.45,5.7h-6.9z M84.21,368.73l0.7,1.1h-1.4z" fill="#ff0000" fill-rule="evenodd"/>
<path d="M88.33,378.39l3.45,5.7h-6.9z M88.33,381.79l0.7,1.1h-1.4z" fill="#ff0000" fill-rule="evenodd"/>
<path d="M92.45,381.70l3.45,5.7h-6.9z M92.45,385.10l0.7,1.1h-1.4z" fill="#ff0000" fill-rule="evenodd"/>
<path d="M96.57,369.30l3.45,5.7h-6.9z M96.57,372.70l0.7,1.1h-1.4z" fill="#ff0000" fill-rule="evenodd"/>
<path d="M100.69,371.61l3.45,5.7h-6.9z M100.69,375.01l0.7,1.1h-1.4z" fill="#ff0000" fill-rule="evenodd"/>
<path d="M108.93,368.64l3.45,5.7h-6.9z M108.93,372.04l0.7,1.1h-1.4z" fill="#ff0000" fill-rule="evenodd"/>
<path d="M113.05,367.32l3.45,5.7h-6.9z M113.05,370.72l0.7,1.1h-1.4z" fill="#ff0000" fill-rule="evenodd"/>
<path d="M117.17,366.66l3.45,5.7h-6.9z M117.17,370.06l0.7,1.1h-1.4z" fill="#ff0000" fill-rule="evenodd"/>
<path d="M121.30,371.28l3.45,5.7h-6.9z M121.30,374.68l0.7,1.1h-1.4z" fill="#ff0000" fill-rule="evenodd"/>
<path d="M125.42,369.13l3.45,5.7h-6.9z M125.42,372.53l0.7,1.1h-1.4z" fill="#ff0000" fill-rule="evenodd"/>
<path d="M129.54,363.35l3.45,5.7h-6.9z M129.54,366.75l0.7,1.1h-1.4z" fill="#ff0000" fill-rule="evenodd"/>
<path d="M133.66,361.37l3.45,5.7h-6.9z M133.66,364.77l0.7,1.1h-1.4z" fill="#ff0000" fill-rule="evenodd"/>
<path d="M137.78,365.33l3.45,5.7h-6.9z M137.78,368.73l0.7,1.1h-1.4z" fill="#ff0000" fill-rule="evenodd"/>
<path d="M141.90,356.41l3.45,5.7h-6.9z M141.90,359.81l0.7,1.1h-1.4z" fill="#ff0000" fill-rule="evenodd"/>
<path d="M146.02,368.64l3.45,5.7h-6.9z M146.02,372.04l0.7,1.1h-1.4z" fill="#ff0000" fill-rule="evenodd"/>
<path d="M154.26,364.67l3.45,5.7h-6.9z M154.26,368.07l0.7,1.1h-1.4z" fill="#ff0000" fill-rule="evenodd"/>
<path d="M170.75,359.71l3.45,5.7h-6.9z M170.75,363.11l0.7,1.1h-1.4z" fill="#ff0000" fill-rule="evenodd"/>
<path d="M174.87,368.31l3.45,5.7h-6.9z M174.87,371.71l0.7,1.1h-1.4z" fill="#ff0000" fill-rule="evenodd"/>
<path d="M178.99,370.29l3.45,5.7h-6.9z M178.99,373.69l0.7,1.1h-1.4z" fill="#ff0000" fill-rule="evenodd"/>
<path d="M183.11,374.42l3.45,5.7h-6.9z M183.11,377.82l0.7,1.1h-1.4z" fill="#ff0000" fill-rule="evenodd"/>
<path d="M187.23,378.39l3.45,5.7h-6.9z M187.23,381.79l0.7,1.1h-1.4z" fill="#ff0000" fill-rule="evenodd"/>
<path d="M191.35,360.71l3.45,5.7h-6.9z M191.35,364.11l0.7,1.1h-1.4z" fill="#ff0000" fill-rule="evenodd"/>
<path d="M195.47,381.86l3.45,5.7h-6.9z M195.47,385.26l0.7,1.1h-1.4z" fill="#ff0000" fill-rule="evenodd"/>
<path d="M199.59,369.13l3.45,5.7h-6.9z M199.59,372.53l0.7,1.1h-1.4z" fill="#ff0000" fill-rule="evenodd"/>
<path d="M203.71,371.94l3.45,5.7h-6.9z M203.71,375.34l0.7,1.1h-1.4z" fill="#ff0000" fill-rule="evenodd"/>
<path d="M207.83,371.45l3.45,5.7h-6.9z M207.83,374.85l0.7,1.1h-1.4z" fill="#ff0000" fill-rule="evenodd"/>
<path d="M211.95,368.31l3.45,5.7h-6.9z M211.95,371.71l0.7,1.1h-1.4z" fill="#ff0000" fill-rule="evenodd"/>
<path d="M216.08,380.37l3.45,5.7h-6.9z M216.08,383.77l0.7,1.1h-1.4z" fill="#ff0000" fill-rule="evenodd"/>
<path d="M220.20,384.34l3.45,5.7h-6.9z M220.20,387.74l0.7,1.1h-1.4z" fill="#ff0000" fill-rule="evenodd"/>
<path d="M224.32,366.66l3.45,5.7h-6.9z M224.32,370.06l0.7,1.1h-1.4z" fill="#ff0000" fill-rule="evenodd"/>
<path d="M228.44,368.64l3.45,5.7h-6.9z M228.44,372.04l0.7,1.1h-1.4z" fill="#ff0000" fill-rule="evenodd"/>
<path d="M236.68,368.31l3.45,5.7h-6.9z M236.68,371.71l0.7,1.1h-1.4z" fill="#ff0000" fill-rule="evenodd"/>
<path d="M240.80,362.69l3.45,5.7h-6.9z M240.80,366.09l0.7,1.1h-1.4z" fill="#ff0000" fill-rule="evenodd"/>
<path d="M249.04,369.96l3.45,5.7h-6.9z M249.04,373.36l0.7,1.1h-1.4z" fill="#ff0000" fill-rule="evenodd"/>
<path d="M253.16,378.39l3.45,5.7h-6.9z M253.16,381.79l0.7,1.1h-1.4z" fill="#ff0000" fill-rule="evenodd"/>
<path d="M257.28,366.66l3.45,5.7h-6.9z M257.28,370.06l0.7,1.1h-1.4z" fill="#ff0000" fill-rule="evenodd"/>
<path d="M261.40,361.37l3.45,5.7h-6.9z M261.40,364.77l0.7,1.1h-1.4z" fill="#ff0000" fill-rule="evenodd"/>
<path d="M265.52,361.70l3.45,5.7h-6.9z M265.52,365.10l0.7,1.1h-1.4z" fill="#ff0000" fill-rule="evenodd"/>
<path d="M269.65,368.31l3.45,5.7h-6.9z M269.65,371.71l0.7,1.1h-1.4z" fill="#ff0000" fill-rule="evenodd"/>
<path d="M273.77,367.48l3.45,5.7h-6.9z M273.77,370.88l0.7,1.1h-1.4z" fill="#ff0000" fill-rule="evenodd"/>
<path d="M277.89,366.66l3.45,5.7h-6.9z M277.89,370.06l0.7,1.1h-1.4z" fill="#ff0000" fill-rule="evenodd"/>
<path d="M282.01,361.70l3.45,5.7h-6.9z M282.01,365.10l0.7,1.1h-1.4z" fill="#ff0000" fill-rule="evenodd"/>
<path d="M286.13,361.70l3.45,5.7h-6.9z M286.13,365.10l0.7,1.1h-1.4z" fill="#ff0000" fill-rule="evenodd"/>
<path d="M290.25,373.60l3.45,5.7h-6.9z M290.25,377.00l0.7,1.1h-1.4z" fill="#ff0000" fill-rule="evenodd"/>
<path d="M294.37,369.13l3.45,5.7h-6.9z M294.37,372.53l0.7,1.1h-1.4z" fill="#ff0000" fill-rule="evenodd"/>
<path d="M298.49,372.61l3.45,5.7h-6.9z M298.49,376.01l0.7,1.1h-1.4z" fill="#ff0000" fill-rule="evenodd"/>
<path d="M302.61,361.70l3.45,5.7h-6.9z M302.61,365.10l0.7,1.1h-1.4z" fill="#ff0000" fill-rule="evenodd"/>
<path d="M306.73,362.03l3.45,5.7h-6.9z M306.73,365.43l0.7,1.1h-1.4z" fill="#ff0000" fill-rule="evenodd"/>
<path d="M319.10,365.33l3.45,5.7h-6.9z M319.10,368.73l0.7,1.1h-1.4z" fill="#ff0000" fill-rule="evenodd"/>
<path d="M323.22,368.31l3.45,5.7h-6.9z M323.22,371.71l0.7,1.1h-1.4z" fill="#ff0000" fill-rule="evenodd"/>
<path d="M327.34,376.41l3.45,5.7h-6.9z M327.34,379.81l0.7,1.1h-1.4z" fill="#ff0000" fill-rule="evenodd"/>
<path d="M331.46,386.32l3.45,5.7h-6.9z M331.46,389.72l0.7,1.1h-1.4z" fill="#ff0000" fill-rule="evenodd"/>
<path d="M335.58,372.61l3.45,5.7h-6.9z M335.58,376.01l0.7,1.1h-1.4z" fill="#ff0000" fill-rule="evenodd"/>
<path d="M339.70,369.30l3.45,5.7h-6.9z M339.70,372.70l0.7,1.1h-1.4z" fill="#ff0000" fill-rule="evenodd"/>
<path d="M343.82,357.40l3.45,5.7h-6.9z M343.82,360.80l0.7,1.1h-1.4z" fill="#ff0000" fill-rule="evenodd"/>
<path d="M347.94,373.93l3.45,5.7h-6.9z M347.94,377.33l0.7,1.1h-1.4z" fill="#ff0000" fill-rule="evenodd"/>
<path d="M352.06,373.93l3.45,5.7h-6.9z M352.06,377.33l0.7,1.1h-1.4z" fill="#ff0000" fill-rule="evenodd"/>
<path d="M356.18,369.96l3.45,5.7h-6.9z M356.18,373.36l0.7,1.1h-1.4z" fill="#ff0000" fill-rule="evenodd"/>
<path d="M360.30,360.71l3.45,5.7h-6.9z M360.30,364.11l0.7,1.1h-1.4z" fill="#ff0000" fill-rule="evenodd"/>
<path d="M364.43,363.35l3.45,5.7h-6.9z M364.43,366.75l0.7,1.1h-1.4z" fill="#ff0000" fill-rule="evenodd"/>
<path d="M368.55,358.06l3.45,5.7h-6.9z M368.55,361.46l0.7,1.1h-1.4z" fill="#ff0000" fill-rule="evenodd"/>
<path d="M376.79,369.96l3.45,5.7h-6.9z M376.79,373.36l0.7,1.1h-1.4z" fill="#ff0000" fill-rule="evenodd"/>
<path d="M380.91,367.48l3.45,5.7h-6.9z M380.91,370.88l0.7,1.1h-1.4z" fill="#ff0000" fill-rule="evenodd"/>
<path d="M385.03,362.03l3.45,5.7h-6.9z M385.03,365.43l0.7,1.1h-1.4z" fill="#ff0000" fill-rule="evenodd"/>
<path d="M397.39,375.09l3.45,5.7h-6.9z M397.39,378.49l0.7,1.1h-1.4z" fill="#ff0000" fill-rule="evenodd"/>
<path d="M401.51,372.61l3.45,5.7h-6.9z M401.51,376.01l0.7,1.1h-1.4z" fill="#ff0000" fill-rule="evenodd"/>
<path d="M405.63,361.37l3.45,5.7h-6.9z M405.63,364.77l0.7,1.1h-1.4z" fill="#ff0000" fill-rule="evenodd"/>
<path d="M409.75,369.13l3.45,5.7h-6.9z M409.75,372.53l0.7,1.1h-1.4z" fill="#ff0000" fill-rule="evenodd"/>
<path d="M413.88,370.79l3.45,5.7h-6.9z M413.88,374.19l0.7,1.1h-1.4z" fill="#ff0000" fill-rule="evenodd"/>
<path d="M418.00,371.61l3.45,5.7h-6.9z M418.00,375.01l0.7,1.1h-1.4z" fill="#ff0000" fill-rule="evenodd"/>
<path d="M422.12,358.06l3.45,5.7h-6.9z M422.12,361.46l0.7,1.1h-1.4z" fill="#ff0000" fill-rule="evenodd"/>
<path d="M426.24,364.18l3.45,5.7h-6.9z M426.24,367.58l0.7,1.1h-1.4z" fill="#ff0000" fill-rule="evenodd"/>
<path d="M430.36,362.69l3.45,5.7h-6.9z M430.36,366.09l0.7,1.1h-1.4z" fill="#ff0000" fill-rule="evenodd"/>
<path d="M55.36,368.69l2.7,2.95l-2.7,2.95l-2.7,-2.95z M55.36,370.84l0.75,0.8l-0.75,0.8l-0.75,-0.8z" fill="#00ffff" fill-rule="evenodd"/>
<path d="M59.48,367.04l2.7,2.95l-2.7,2.95l-2.7,-2.95z M59.48,369.19l0.75,0.8l-0.75,0.8l-0.75,-0.8z" fill="#00ffff" fill-rule="evenodd"/>
<path d="M63.60,368.03l2.7,2.95l-2.7,2.95l-2.7,-2.95z M63.60,370.18l0.75,0.8l-0.75,0.8l-0.75,-0.8z" fill="#00ffff" fill-rule="evenodd"/>
<path d="M67.73,368.36l2.7,2.95l-2.7,2.95l-2.7,-2.95z M67.73,370.51l0.75,0.8l-0.75,0.8l-0.75,-0.8z" fill="#00ffff" fill-rule="evenodd"/>
<path d="M71.85,375.80l2.7,2.95l-2.7,2.95l-2.7,-2.95z M71.85,377.95l0.75,0.8l-0.75,0.8l-0.75,-0.8z" fill="#00ffff" fill-rule="evenodd"/>
<path d="M75.97,368.03l2.7,2.95l-2.7,2.95l-2.7,-2.95z M75.97,370.18l0.75,0.8l-0.75,0.8l-0.75,-0.8z" fill="#00ffff" fill-rule="evenodd"/>
<path d="M80.09,371.00l2.7,2.95l-2.7,2.95l-2.7,-2.95z M80.09,373.15l0.75,0.8l-0.75,0.8l-0.75,-0.8z" fill="#00ffff" fill-rule="evenodd"/>
<path d="M84.21,370.01l2.7,2.95l-2.7,2.95l-2.7,-2.95z M84.21,372.16l0.75,0.8l-0.75,0.8l-0.75,-0.8z" fill="#00ffff" fill-rule="evenodd"/>
<path d="M88.33,371.50l2.7,2.95l-2.7,2.95l-2.7,-2.95z M88.33,373.65l0.75,0.8l-0.75,0.8l-0.75,-0.8z" fill="#00ffff" fill-rule="evenodd"/>
<path d="M92.45,375.14l2.7,2.95l-2.7,2.95l-2.7,-2.95z M92.45,377.29l0.75,0.8l-0.75,0.8l-0.75,-0.8z" fill="#00ffff" fill-rule="evenodd"/>
<path d="M96.57,373.15l2.7,2.95l-2.7,2.95l-2.7,-2.95z M96.57,375.30l0.75,0.8l-0.75,0.8l-0.75,-0.8z" fill="#00ffff" fill-rule="evenodd"/>
<path d="M100.69,368.85l2.7,2.95l-2.7,2.95l-2.7,-2.95z M100.69,371.00l0.75,0.8l-0.75,0.8l-0.75,-0.8z" fill="#00ffff" fill-rule="evenodd"/>
<path d="M108.93,367.37l2.7,2.95l-2.7,2.95l-2.7,-2.95z M108.93,369.52l0.75,0.8l-0.75,0.8l-0.75,-0.8z" fill="#00ffff" fill-rule="evenodd"/>
<path d="M113.05,370.67l2.7,2.95l-2.7,2.95l-2.7,-2.95z M113.05,372.82l0.75,0.8l-0.75,0.8l-0.75,-0.8z" fill="#00ffff" fill-rule="evenodd"/>
<path d="M117.17,367.37l2.7,2.95l-2.7,2.95l-2.7,-2.95z M117.17,369.52l0.75,0.8l-0.75,0.8l-0.75,-0.8z" fill="#00ffff" fill-rule="evenodd"/>
<path d="M121.30,376.46l2.7,2.95l-2.7,2.95l-2.7,-2.95z M121.30,378.61l0.75,0.8l-0.75,0.8l-0.75,-0.8z" fill="#00ffff" fill-rule="evenodd"/>
<path d="M125.42,368.69l2.7,2.95l-2.7,2.95l-2.7,-2.95z M125.42,370.84l0.75,0.8l-0.75,0.8l-0.75,-0.8z" fill="#00ffff" fill-rule="evenodd"/>
<path d="M129.54,365.38l2.7,2.95l-2.7,2.95l-2.7,-2.95z M129.54,367.53l0.75,0.8l-0.75,0.8l-0.75,-0.8z" fill="#00ffff" fill-rule="evenodd"/>
<path d="M133.66,368.69l2.7,2.95l-2.7,2.95l-2.7,-2.95z M133.66,370.84l0.75,0.8l-0.75,0.8l-0.75,-0.8z" fill="#00ffff" fill-rule="evenodd"/>
<path d="M137.78,368.03l2.7,2.95l-2.7,2.95l-2.7,-2.95z M137.78,370.18l0.75,0.8l-0.75,0.8l-0.75,-0.8z" fill="#00ffff" fill-rule="evenodd"/>
<path d="M141.90,369.35l2.7,2.95l-2.7,2.95l-2.7,-2.95z M141.90,371.50l0.75,0.8l-0.75,0.8l-0.75,-0.8z" fill="#00ffff" fill-rule="evenodd"/>
<path d="M146.02,367.04l2.7,2.95l-2.7,2.95l-2.7,-2.95z M146.02,369.19l0.75,0.8l-0.75,0.8l-0.75,-0.8z" fill="#00ffff" fill-rule="evenodd"/>
<path d="M154.26,368.03l2.7,2.95l-2.7,2.95l-2.7,-2.95z M154.26,370.18l0.75,0.8l-0.75,0.8l-0.75,-0.8z" fill="#00ffff" fill-rule="evenodd"/>
<path d="M170.75,364.06l2.7,2.95l-2.7,2.95l-2.7,-2.95z M170.75,366.21l0.75,0.8l-0.75,0.8l-0.75,-0.8z" fill="#00ffff" fill-rule="evenodd"/>
<path d="M174.87,369.35l2.7,2.95l-2.7,2.95l-2.7,-2.95z M174.87,371.50l0.75,0.8l-0.75,0.8l-0.75,-0.8z" fill="#00ffff" fill-rule="evenodd"/>
<path d="M178.99,368.69l2.7,2.95l-2.7,2.95l-2.7,-2.95z M178.99,370.84l0.75,0.8l-0.75,0.8l-0.75,-0.8z" fill="#00ffff" fill-rule="evenodd"/>
<path d="M183.11,371.99l2.7,2.95l-2.7,2.95l-2.7,-2.95z M183.11,374.14l0.75,0.8l-0.75,0.8l-0.75,-0.8z" fill="#00ffff" fill-rule="evenodd"/>
<path d="M187.23,373.15l2.7,2.95l-2.7,2.95l-2.7,-2.95z M187.23,375.30l0.75,0.8l-0.75,0.8l-0.75,-0.8z" fill="#00ffff" fill-rule="evenodd"/>
<path d="M191.35,366.71l2.7,2.95l-2.7,2.95l-2.7,-2.95z M191.35,368.86l0.75,0.8l-0.75,0.8l-0.75,-0.8z" fill="#00ffff" fill-rule="evenodd"/>
<path d="M195.47,380.42l2.7,2.95l-2.7,2.95l-2.7,-2.95z M195.47,382.57l0.75,0.8l-0.75,0.8l-0.75,-0.8z" fill="#00ffff" fill-rule="evenodd"/>
<path d="M199.59,368.36l2.7,2.95l-2.7,2.95l-2.7,-2.95z M199.59,370.51l0.75,0.8l-0.75,0.8l-0.75,-0.8z" fill="#00ffff" fill-rule="evenodd"/>
<path d="M203.71,368.69l2.7,2.95l-2.7,2.95l-2.7,-2.95z M203.71,370.84l0.75,0.8l-0.75,0.8l-0.75,-0.8z" fill="#00ffff" fill-rule="evenodd"/>
<path d="M207.83,374.47l2.7,2.95l-2.7,2.95l-2.7,-2.95z M207.83,376.62l0.75,0.8l-0.75,0.8l-0.75,-0.8z" fill="#00ffff" fill-rule="evenodd"/>
<path d="M211.95,367.53l2.7,2.95l-2.7,2.95l-2.7,-2.95z M211.95,369.68l0.75,0.8l-0.75,0.8l-0.75,-0.8z" fill="#00ffff" fill-rule="evenodd"/>
<path d="M216.08,367.37l2.7,2.95l-2.7,2.95l-2.7,-2.95z M216.08,369.52l0.75,0.8l-0.75,0.8l-0.75,-0.8z" fill="#00ffff" fill-rule="evenodd"/>
<path d="M220.20,370.01l2.7,2.95l-2.7,2.95l-2.7,-2.95z M220.20,372.16l0.75,0.8l-0.75,0.8l-0.75,-0.8z" fill="#00ffff" fill-rule="evenodd"/>
<path d="M224.32,366.21l2.7,2.95l-2.7,2.95l-2.7,-2.95z M224.32,368.36l0.75,0.8l-0.75,0.8l-0.75,-0.8z" fill="#00ffff" fill-rule="evenodd"/>
<path d="M228.44,373.81l2.7,2.95l-2.7,2.95l-2.7,-2.95z M228.44,375.96l0.75,0.8l-0.75,0.8l-0.75,-0.8z" fill="#00ffff" fill-rule="evenodd"/>
<path d="M236.68,368.36l2.7,2.95l-2.7,2.95l-2.7,-2.95z M236.68,370.51l0.75,0.8l-0.75,0.8l-0.75,-0.8z" fill="#00ffff" fill-rule="evenodd"/>
<path d="M240.80,366.71l2.7,2.95l-2.7,2.95l-2.7,-2.95z M240.80,368.86l0.75,0.8l-0.75,0.8l-0.75,-0.8z" fill="#00ffff" fill-rule="evenodd"/>
<path d="M249.04,369.35l2.7,2.95l-2.7,2.95l-2.7,-2.95z M249.04,371.50l0.75,0.8l-0.75,0.8l-0.75,-0.8z" fill="#00ffff" fill-rule="evenodd"/>
<path d="M253.16,369.35l2.7,2.95l-2.7,2.95l-2.7,-2.95z M253.16,371.50l0.75,0.8l-0.75,0.8l-0.75,-0.8z" fill="#00ffff" fill-rule="evenodd"/>
<path d="M257.28,368.69l2.7,2.95l-2.7,2.95l-2.7,-2.95z M257.28,370.84l0.75,0.8l-0.75,0.8l-0.75,-0.8z" fill="#00ffff" fill-rule="evenodd"/>
<path d="M261.40,366.71l2.7,2.95l-2.7,2.95l-2.7,-2.95z M261.40,368.86l0.75,0.8l-0.75,0.8l-0.75,-0.8z" fill="#00ffff" fill-rule="evenodd"/>
<path d="M265.52,361.75l2.7,2.95l-2.7,2.95l-2.7,-2.95z M265.52,363.90l0.75,0.8l-0.75,0.8l-0.75,-0.8z" fill="#00ffff" fill-rule="evenodd"/>
<path d="M269.65,375.14l2.7,2.95l-2.7,2.95l-2.7,-2.95z M269.65,377.29l0.75,0.8l-0.75,0.8l-0.75,-0.8z" fill="#00ffff" fill-rule="evenodd"/>
<path d="M273.77,367.37l2.7,2.95l-2.7,2.95l-2.7,-2.95z M273.77,369.52l0.75,0.8l-0.75,0.8l-0.75,-0.8z" fill="#00ffff" fill-rule="evenodd"/>
<path d="M277.89,368.03l2.7,2.95l-2.7,2.95l-2.7,-2.95z M277.89,370.18l0.75,0.8l-0.75,0.8l-0.75,-0.8z" fill="#00ffff" fill-rule="evenodd"/>
<path d="M282.01,364.39l2.7,2.95l-2.7,2.95l-2.7,-2.95z M282.01,366.54l0.75,0.8l-0.75,0.8l-0.75,-0.8z" fill="#00ffff" fill-rule="evenodd"/>
<path d="M286.13,360.76l2.7,2.95l-2.7,2.95l-2.7,-2.95z M286.13,362.91l0.75,0.8l-0.75,0.8l-0.75,-0.8z" fill="#00ffff" fill-rule="evenodd"/>
<path d="M290.25,378.44l2.7,2.95l-2.7,2.95l-2.7,-2.95z M290.25,380.59l0.75,0.8l-0.75,0.8l-0.75,-0.8z" fill="#00ffff" fill-rule="evenodd"/>
<path d="M294.37,368.69l2.7,2.95l-2.7,2.95l-2.7,-2.95z M294.37,370.84l0.75,0.8l-0.75,0.8l-0.75,-0.8z" fill="#00ffff" fill-rule="evenodd"/>
<path d="M298.49,366.71l2.7,2.95l-2.7,2.95l-2.7,-2.95z M298.49,368.86l0.75,0.8l-0.75,0.8l-0.75,-0.8z" fill="#00ffff" fill-rule="evenodd"/>
<path d="M302.61,366.04l2.7,2.95l-2.7,2.95l-2.7,-2.95z M302.61,368.19l0.75,0.8l-0.75,0.8l-0.75,-0.8z" fill="#00ffff" fill-rule="evenodd"/>
<path d="M306.73,369.35l2.7,2.95l-2.7,2.95l-2.7,-2.95z M306.73,371.50l0.75,0.8l-0.75,0.8l-0.75,-0.8z" fill="#00ffff" fill-rule="evenodd"/>
<path d="M319.10,369.68l2.7,2.95l-2.7,2.95l-2.7,-2.95z M319.10,371.83l0.75,0.8l-0.75,0.8l-0.75,-0.8z" fill="#00ffff" fill-rule="evenodd"/>
<path d="M323.22,367.37l2.7,2.95l-2.7,2.95l-2.7,-2.95z M323.22,369.52l0.75,0.8l-0.75,0.8l-0.75,-0.8z" fill="#00ffff" fill-rule="evenodd"/>
<path d="M327.34,371.50l2.7,2.95l-2.7,2.95l-2.7,-2.95z M327.34,373.65l0.75,0.8l-0.75,0.8l-0.75,-0.8z" fill="#00ffff" fill-rule="evenodd"/>
<path d="M331.46,371.50l2.7,2.95l-2.7,2.95l-2.7,-2.95z M331.46,373.65l0.75,0.8l-0.75,0.8l-0.75,-0.8z" fill="#00ffff" fill-rule="evenodd"/>
<path d="M335.58,376.29l2.7,2.95l-2.7,2.95l-2.7,-2.95z M335.58,378.44l0.75,0.8l-0.75,0.8l-0.75,-0.8z" fill="#00ffff" fill-rule="evenodd"/>
<path d="M339.70,374.47l2.7,2.95l-2.7,2.95l-2.7,-2.95z M339.70,376.62l0.75,0.8l-0.75,0.8l-0.75,-0.8z" fill="#00ffff" fill-rule="evenodd"/>
<path d="M343.82,368.69l2.7,2.95l-2.7,2.95l-2.7,-2.95z M343.82,370.84l0.75,0.8l-0.75,0.8l-0.75,-0.8z" fill="#00ffff" fill-rule="evenodd"/>
<path d="M347.94,370.67l2.7,2.95l-2.7,2.95l-2.7,-2.95z M347.94,372.82l0.75,0.8l-0.75,0.8l-0.75,-0.8z" fill="#00ffff" fill-rule="evenodd"/>
<path d="M352.06,378.94l2.7,2.95l-2.7,2.95l-2.7,-2.95z M352.06,381.09l0.75,0.8l-0.75,0.8l-0.75,-0.8z" fill="#00ffff" fill-rule="evenodd"/>
<path d="M356.18,369.35l2.7,2.95l-2.7,2.95l-2.7,-2.95z M356.18,371.50l0.75,0.8l-0.75,0.8l-0.75,-0.8z" fill="#00ffff" fill-rule="evenodd"/>
<path d="M360.30,366.71l2.7,2.95l-2.7,2.95l-2.7,-2.95z M360.30,368.86l0.75,0.8l-0.75,0.8l-0.75,-0.8z" fill="#00ffff" fill-rule="evenodd"/>
<path d="M364.43,360.92l2.7,2.95l-2.7,2.95l-2.7,-2.95z M364.43,363.07l0.75,0.8l-0.75,0.8l-0.75,-0.8z" fill="#00ffff" fill-rule="evenodd"/>
<path d="M368.55,361.75l2.7,2.95l-2.7,2.95l-2.7,-2.95z M368.55,363.90l0.75,0.8l-0.75,0.8l-0.75,-0.8z" fill="#00ffff" fill-rule="evenodd"/>
<path d="M376.79,369.35l2.7,2.95l-2.7,2.95l-2.7,-2.95z M376.79,371.50l0.75,0.8l-0.75,0.8l-0.75,-0.8z" fill="#00ffff" fill-rule="evenodd"/>
<path d="M380.91,366.71l2.7,2.95l-2.7,2.95l-2.7,-2.95z M380.91,368.86l0.75,0.8l-0.75,0.8l-0.75,-0.8z" fill="#00ffff" fill-rule="evenodd"/>
<path d="M385.03,365.38l2.7,2.95l-2.7,2.95l-2.7,-2.95z M385.03,367.53l0.75,0.8l-0.75,0.8l-0.75,-0.8z" fill="#00ffff" fill-rule="evenodd"/>
<path d="M397.39,369.35l2.7,2.95l-2.7,2.95l-2.7,-2.95z M397.39,371.50l0.75,0.8l-0.75,0.8l-0.75,-0.8z" fill="#00ffff" fill-rule="evenodd"/>
<path d="M401.51,368.36l2.7,2.95l-2.7,2.95l-2.7,-2.95z M401.51,370.51l0.75,0.8l-0.75,0.8l-0.75,-0.8z" fill="#00ffff" fill-rule="evenodd"/>
<path d="M405.63,355.47l2.7,2.95l-2.7,2.95l-2.7,-2.95z M405.63,357.62l0.75,0.8l-0.75,0.8l-0.75,-0.8z" fill="#00ffff" fill-rule="evenodd"/>
<path d="M409.75,368.03l2.7,2.95l-2.7,2.95l-2.7,-2.95z M409.75,370.18l0.75,0.8l-0.75,0.8l-0.75,-0.8z" fill="#00ffff" fill-rule="evenodd"/>
<path d="M413.88,369.35l2.7,2.95l-2.7,2.95l-2.7,-2.95z M413.88,371.50l0.75,0.8l-0.75,0.8l-0.75,-0.8z" fill="#00ffff" fill-rule="evenodd"/>
<path d="M418.00,370.67l2.7,2.95l-2.7,2.95l-2.7,-2.95z M418.00,372.82l0.75,0.8l-0.75,0.8l-0.75,-0.8z" fill="#00ffff" fill-rule="evenodd"/>
<path d="M422.12,366.71l2.7,2.95l-2.7,2.95l-2.7,-2.95z M422.12,368.86l0.75,0.8l-0.75,0.8l-0.75,-0.8z" fill="#00ffff" fill-rule="evenodd"/>
<path d="M426.24,364.72l2.7,2.95l-2.7,2.95l-2.7,-2.95z M426.24,366.87l0.75,0.8l-0.75,0.8l-0.75,-0.8z" fill="#00ffff" fill-rule="evenodd"/>
<path d="M430.36,369.35l2.7,2.95l-2.7,2.95l-2.7,-2.95z M430.36,371.50l0.75,0.8l-0.75,0.8l-0.75,-0.8z" fill="#00ffff" fill-rule="evenodd"/>
<rect x="98.5" y="388.5" width="107" height="29.8" fill="#fff" stroke="#444" stroke-width="0.8"/>
<line x1="104.60" y1="390.50" x2="104.60" y2="396.00" stroke="#b98a8a" stroke-width="1.6"/>
<text x="115.10" y="396.00" font-size="8.2" text-anchor="start" font-weight="normal" font-style="normal" >Experiment</text>
<circle cx="104.6" cy="403" r="2.3" fill="none" stroke="#009000" stroke-width="1.3"/>
<text x="115.10" y="406.00" font-size="8.2" text-anchor="start" font-weight="normal" font-style="normal" >Standard MD (a03ws)</text>
<rect x="102.4" y="410.8" width="4.4" height="4.4" fill="none" stroke="#0000ff" stroke-width="1.3"/>
<text x="115.10" y="416.00" font-size="8.2" text-anchor="start" font-weight="normal" font-style="normal" >Standard MD (a99SB-disp)</text>
<rect x="211.4" y="397.6" width="93.4" height="20.7" fill="#fff" stroke="#444" stroke-width="0.8"/>
<path d="M216.6,399.6 L219.4,404.4 L213.8,404.4Z" fill="#ff0000"/>
<text x="227.50" y="405.50" font-size="8.2" text-anchor="start" font-weight="normal" font-style="normal" >HREMD (a03ws)</text>
<path d="M216.6,410 L219,412.5 L216.6,415 L214.2,412.5Z" fill="#00ffff" stroke="#00ffff" stroke-width="0.8"/>
<text x="227.50" y="415.50" font-size="8.2" text-anchor="start" font-weight="normal" font-style="normal" >HREMD (a99SB-disp)</text>
<text x="404.00" y="41.60" font-size="16" font-style="italic">N</text>
<text x="413.80" y="37.00" font-size="10.8" font-style="italic">H</text>
<text x="417.90" y="275.50" font-size="16" font-style="italic">C</text>
<text x="428.60" y="271.00" font-size="10.8" font-style="italic">α</text>
<text x="419.40" y="417.90" font-size="16" font-style="italic">C</text>
<text x="429.40" y="413.60" font-size="10.8" font-style="italic">β</text>
</svg></body></html>
